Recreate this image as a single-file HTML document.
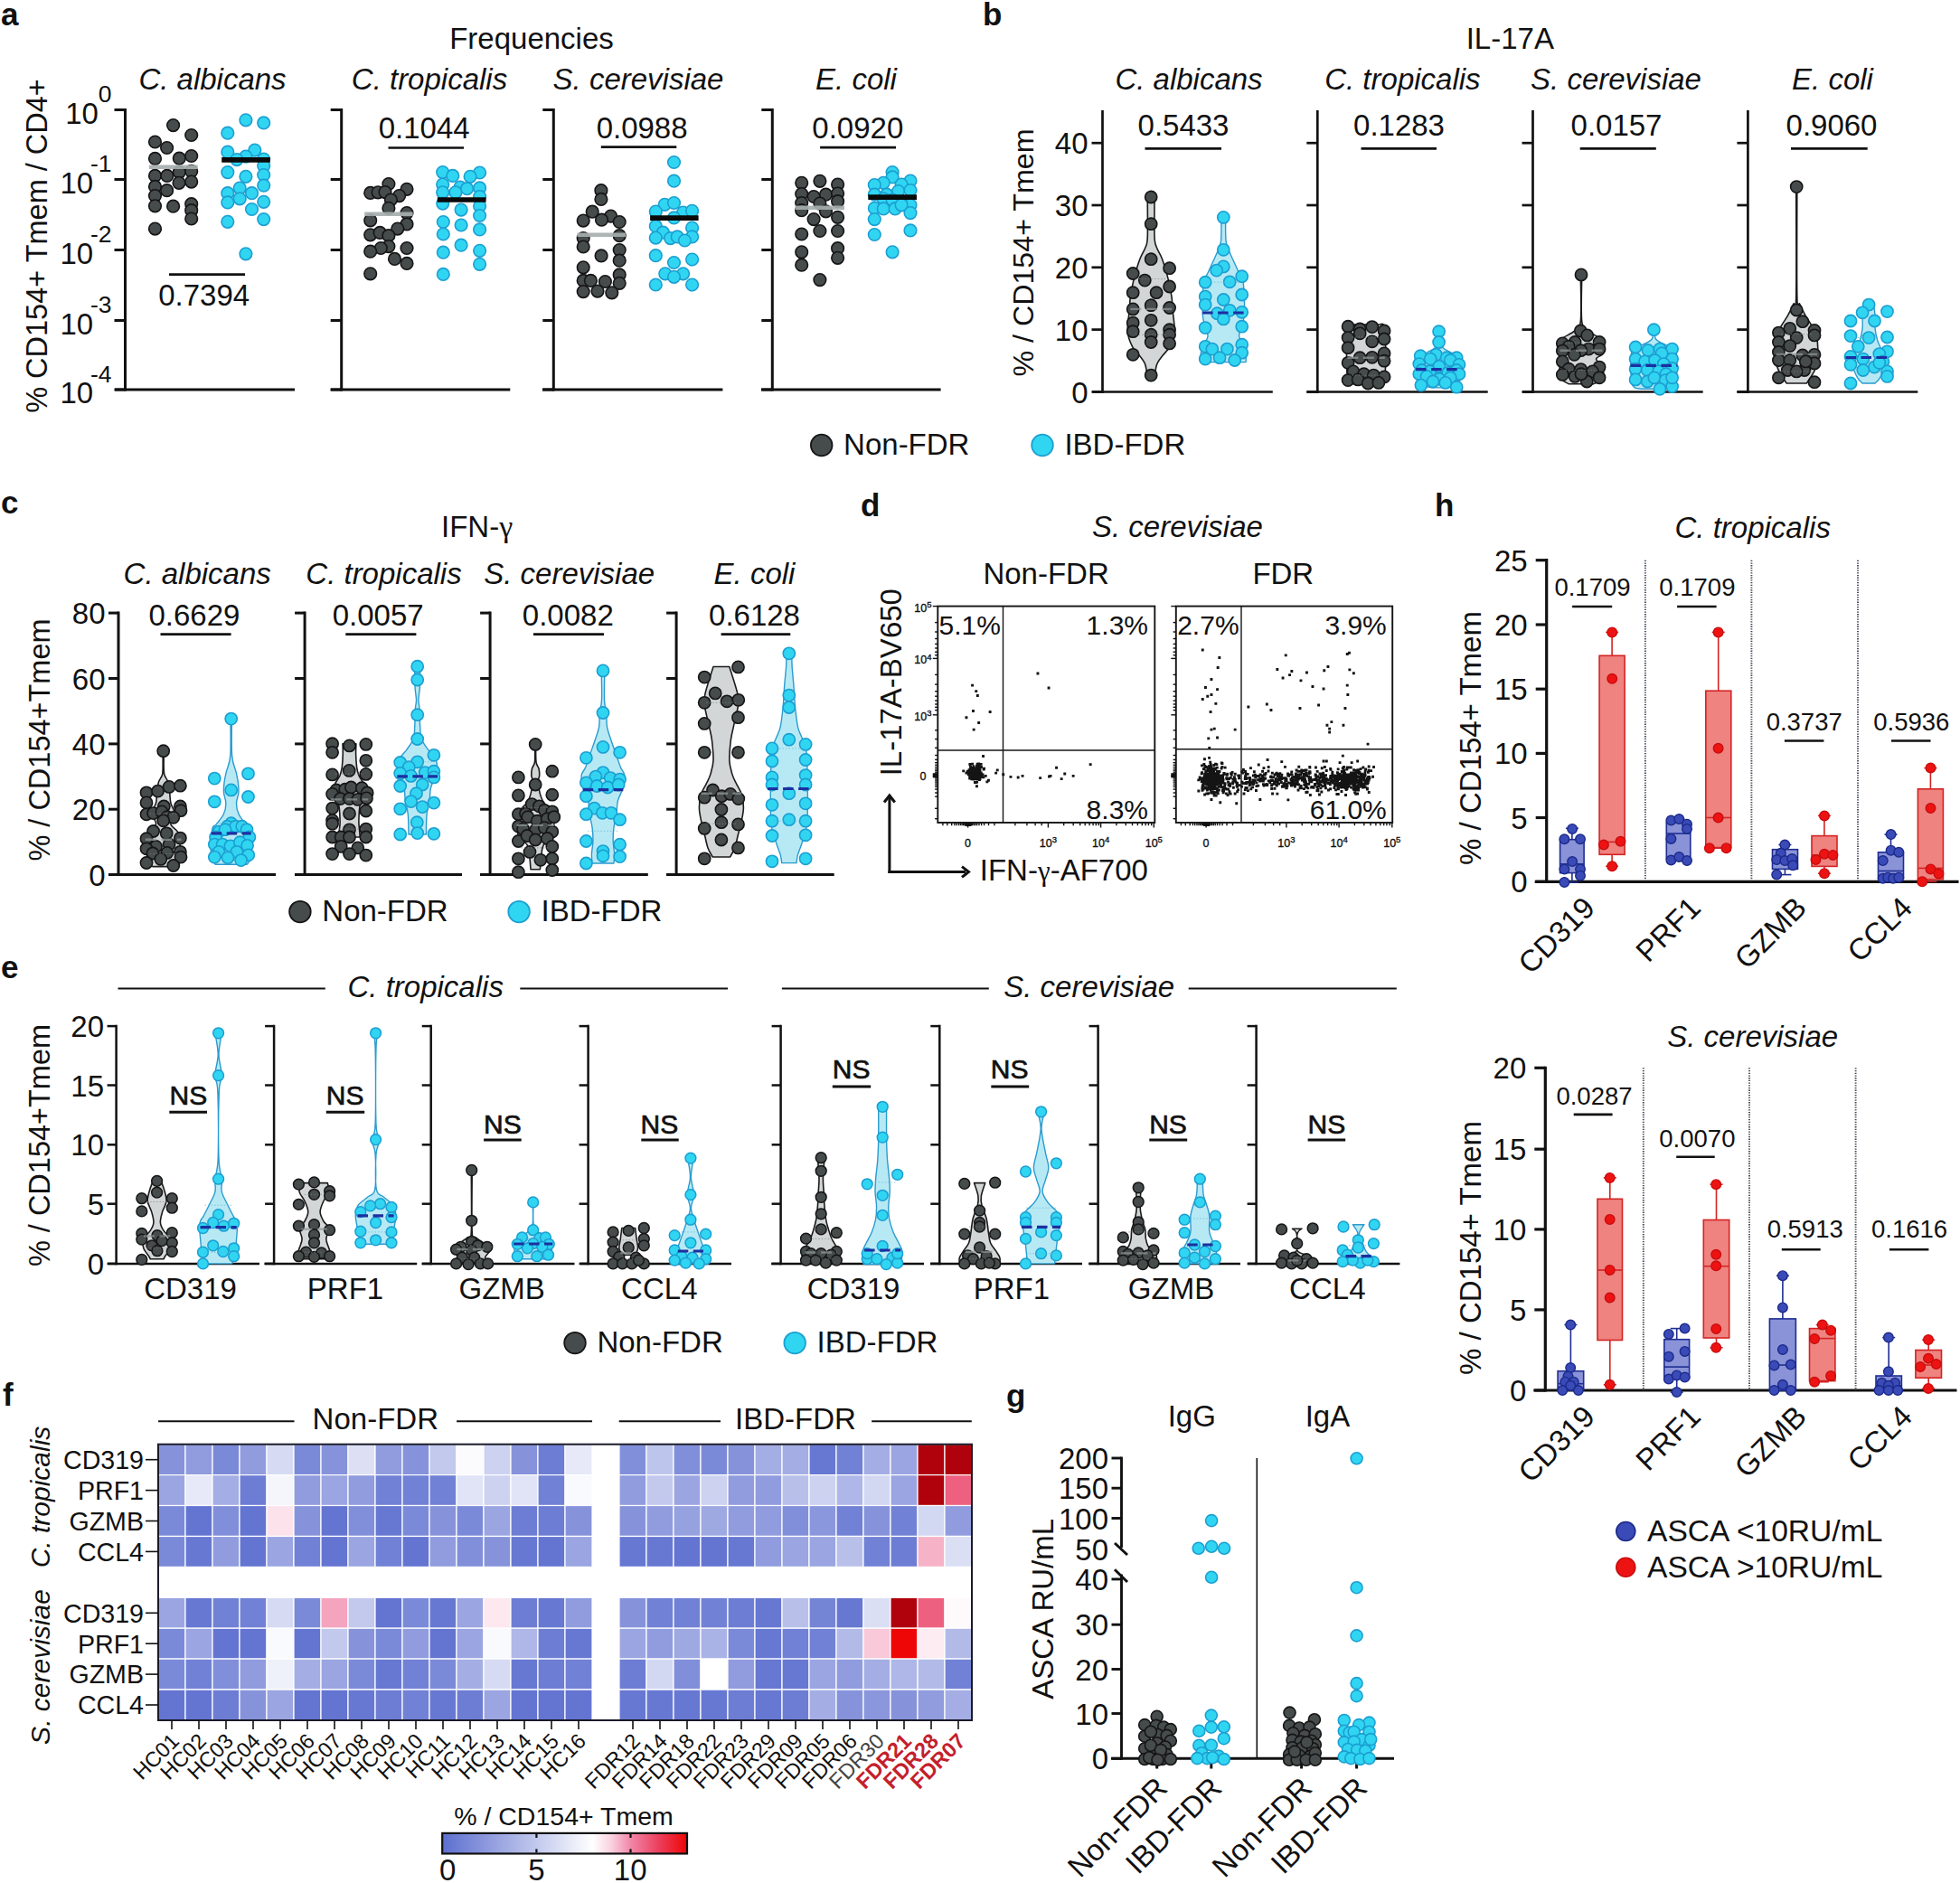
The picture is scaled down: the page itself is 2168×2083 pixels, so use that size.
<!DOCTYPE html>
<html><head><meta charset="utf-8"><title>Figure</title>
<style>html,body{margin:0;padding:0;background:#fff}svg{display:block}</style></head>
<body>
<svg width="2168" height="2083" viewBox="0 0 2168 2083" font-family='"Liberation Sans", Arial, Helvetica, sans-serif' fill="#111">
<text x="1" y="27.5" font-size="35" font-weight="bold">a</text>
<line x1="138.5" y1="120" x2="138.5" y2="432.5" stroke="#111" stroke-width="3"/>
<line x1="127" y1="431" x2="326" y2="431" stroke="#111" stroke-width="3"/>
<line x1="126.5" y1="121.5" x2="138.5" y2="121.5" stroke="#111" stroke-width="3"/>
<line x1="126.5" y1="198.5" x2="138.5" y2="198.5" stroke="#111" stroke-width="3"/>
<line x1="126.5" y1="276.5" x2="138.5" y2="276.5" stroke="#111" stroke-width="3"/>
<line x1="126.5" y1="354.5" x2="138.5" y2="354.5" stroke="#111" stroke-width="3"/>
<line x1="126.5" y1="431" x2="138.5" y2="431" stroke="#111" stroke-width="3"/>
<line x1="377.7" y1="120" x2="377.7" y2="432.5" stroke="#111" stroke-width="3"/>
<line x1="365.7" y1="431" x2="564.3" y2="431" stroke="#111" stroke-width="3"/>
<line x1="365.7" y1="121.5" x2="377.7" y2="121.5" stroke="#111" stroke-width="3"/>
<line x1="365.7" y1="198.5" x2="377.7" y2="198.5" stroke="#111" stroke-width="3"/>
<line x1="365.7" y1="276.5" x2="377.7" y2="276.5" stroke="#111" stroke-width="3"/>
<line x1="365.7" y1="354.5" x2="377.7" y2="354.5" stroke="#111" stroke-width="3"/>
<line x1="365.7" y1="431" x2="377.7" y2="431" stroke="#111" stroke-width="3"/>
<line x1="612.3" y1="120" x2="612.3" y2="432.5" stroke="#111" stroke-width="3"/>
<line x1="600" y1="431" x2="799.4" y2="431" stroke="#111" stroke-width="3"/>
<line x1="600.3" y1="121.5" x2="612.3" y2="121.5" stroke="#111" stroke-width="3"/>
<line x1="600.3" y1="198.5" x2="612.3" y2="198.5" stroke="#111" stroke-width="3"/>
<line x1="600.3" y1="276.5" x2="612.3" y2="276.5" stroke="#111" stroke-width="3"/>
<line x1="600.3" y1="354.5" x2="612.3" y2="354.5" stroke="#111" stroke-width="3"/>
<line x1="600.3" y1="431" x2="612.3" y2="431" stroke="#111" stroke-width="3"/>
<line x1="854.3" y1="120" x2="854.3" y2="432.5" stroke="#111" stroke-width="3"/>
<line x1="842" y1="431" x2="1040.6" y2="431" stroke="#111" stroke-width="3"/>
<line x1="842.3" y1="121.5" x2="854.3" y2="121.5" stroke="#111" stroke-width="3"/>
<line x1="842.3" y1="198.5" x2="854.3" y2="198.5" stroke="#111" stroke-width="3"/>
<line x1="842.3" y1="276.5" x2="854.3" y2="276.5" stroke="#111" stroke-width="3"/>
<line x1="842.3" y1="354.5" x2="854.3" y2="354.5" stroke="#111" stroke-width="3"/>
<line x1="842.3" y1="431" x2="854.3" y2="431" stroke="#111" stroke-width="3"/>
<text x="588" y="53.5" font-size="33" text-anchor="middle">Frequencies</text>
<text x="235" y="98.5" font-size="33" text-anchor="middle" font-style="italic">C. albicans</text>
<text x="475" y="98.5" font-size="33" text-anchor="middle" font-style="italic">C. tropicalis</text>
<text x="706" y="98.5" font-size="33" text-anchor="middle" font-style="italic">S. cerevisiae</text>
<text x="947" y="98.5" font-size="33" text-anchor="middle" font-style="italic">E. coli</text>
<text x="52" y="272" font-size="32.5" text-anchor="middle" transform="rotate(-90 52 272)">% CD154+ Tmem / CD4+</text>
<text x="123.6" y="136.5" font-size="33" text-anchor="end">10<tspan font-size="26.5" dy="-23.3">0</tspan></text>
<text x="123.6" y="213.5" font-size="33" text-anchor="end">10<tspan font-size="26.5" dy="-23.3" dx="-3.2">-1</tspan></text>
<text x="123.6" y="291.5" font-size="33" text-anchor="end">10<tspan font-size="26.5" dy="-23.3" dx="-3.2">-2</tspan></text>
<text x="123.6" y="369.5" font-size="33" text-anchor="end">10<tspan font-size="26.5" dy="-23.3" dx="-3.2">-3</tspan></text>
<text x="123.6" y="446" font-size="33" text-anchor="end">10<tspan font-size="26.5" dy="-23.3" dx="-3.2">-4</tspan></text>
<g fill="#464b4c" stroke="#151515" stroke-width="1.6">
<circle cx="191.6" cy="138.6" r="6.8"/>
<circle cx="211.7" cy="149.5" r="6.8"/>
<circle cx="171.5" cy="157" r="6.8"/>
<circle cx="184.6" cy="163.5" r="6.8"/>
<circle cx="171.5" cy="175.4" r="6.8"/>
<circle cx="198.3" cy="175.2" r="6.8"/>
<circle cx="211.7" cy="172.5" r="6.8"/>
<circle cx="171.5" cy="194.4" r="6.8"/>
<circle cx="184.8" cy="194.4" r="6.8"/>
<circle cx="198.3" cy="190.6" r="6.8"/>
<circle cx="211.7" cy="189.4" r="6.8"/>
<circle cx="171.5" cy="206.4" r="6.8"/>
<circle cx="198" cy="202.3" r="6.8"/>
<circle cx="211.7" cy="201.1" r="6.8"/>
<circle cx="184.6" cy="210.7" r="6.8"/>
<circle cx="171.5" cy="216.6" r="6.8"/>
<circle cx="171.5" cy="227.8" r="6.8"/>
<circle cx="191.6" cy="228.2" r="6.8"/>
<circle cx="211.7" cy="225.7" r="6.8"/>
<circle cx="211.7" cy="232.7" r="6.8"/>
<circle cx="211.7" cy="242" r="6.8"/>
<circle cx="171.5" cy="253.1" r="6.8"/>
</g>
<g fill="#30d5f2" stroke="#1b9fd1" stroke-width="1.6">
<circle cx="271.9" cy="132.8" r="6.8"/>
<circle cx="291.7" cy="135.9" r="6.8"/>
<circle cx="251.8" cy="147.2" r="6.8"/>
<circle cx="251.8" cy="168.2" r="6.8"/>
<circle cx="281.8" cy="166.1" r="6.8"/>
<circle cx="271.9" cy="173.1" r="6.8"/>
<circle cx="262" cy="176.6" r="6.8"/>
<circle cx="291.7" cy="176" r="6.8"/>
<circle cx="291.7" cy="183.6" r="6.8"/>
<circle cx="251.8" cy="190.6" r="6.8"/>
<circle cx="271.9" cy="195.3" r="6.8"/>
<circle cx="291.7" cy="193.5" r="6.8"/>
<circle cx="291.7" cy="205.2" r="6.8"/>
<circle cx="265.2" cy="208.1" r="6.8"/>
<circle cx="251.8" cy="213.7" r="6.8"/>
<circle cx="278.5" cy="213.7" r="6.8"/>
<circle cx="265.2" cy="219.8" r="6.8"/>
<circle cx="251.8" cy="223.9" r="6.8"/>
<circle cx="291.7" cy="223.3" r="6.8"/>
<circle cx="278.5" cy="231.5" r="6.8"/>
<circle cx="251.8" cy="245.3" r="6.8"/>
<circle cx="291.7" cy="242.6" r="6.8"/>
<circle cx="271.9" cy="280.8" r="6.8"/>
</g>
<g fill="#464b4c" stroke="#151515" stroke-width="1.6">
<circle cx="429.9" cy="203.5" r="6.8"/>
<circle cx="450" cy="209.3" r="6.8"/>
<circle cx="409.7" cy="213.4" r="6.8"/>
<circle cx="418.1" cy="212.8" r="6.8"/>
<circle cx="426" cy="212.6" r="6.8"/>
<circle cx="441.6" cy="216.6" r="6.8"/>
<circle cx="432.4" cy="221" r="6.8"/>
<circle cx="429.9" cy="230.3" r="6.8"/>
<circle cx="450" cy="235.6" r="6.8"/>
<circle cx="409.7" cy="243.8" r="6.8"/>
<circle cx="450" cy="247.9" r="6.8"/>
<circle cx="439.8" cy="253.1" r="6.8"/>
<circle cx="409.7" cy="259.8" r="6.8"/>
<circle cx="420.2" cy="257.4" r="6.8"/>
<circle cx="429.9" cy="260.7" r="6.8"/>
<circle cx="429.9" cy="272.6" r="6.8"/>
<circle cx="421.3" cy="274.5" r="6.8"/>
<circle cx="450" cy="274.5" r="6.8"/>
<circle cx="409.7" cy="278.2" r="6.8"/>
<circle cx="436.5" cy="286.4" r="6.8"/>
<circle cx="450" cy="291.4" r="6.8"/>
<circle cx="409.7" cy="302.8" r="6.8"/>
</g>
<g fill="#30d5f2" stroke="#1b9fd1" stroke-width="1.6">
<circle cx="489.7" cy="190.6" r="6.8"/>
<circle cx="530.6" cy="191" r="6.8"/>
<circle cx="500.8" cy="194.4" r="6.8"/>
<circle cx="520.1" cy="195.3" r="6.8"/>
<circle cx="489.7" cy="204.1" r="6.8"/>
<circle cx="530.6" cy="207.9" r="6.8"/>
<circle cx="509" cy="207" r="6.8"/>
<circle cx="516.6" cy="208.7" r="6.8"/>
<circle cx="489.7" cy="212.8" r="6.8"/>
<circle cx="503.9" cy="212.8" r="6.8"/>
<circle cx="530.6" cy="217.5" r="6.8"/>
<circle cx="489.7" cy="225.1" r="6.8"/>
<circle cx="530.6" cy="228" r="6.8"/>
<circle cx="510.1" cy="232.1" r="6.8"/>
<circle cx="530.6" cy="238.5" r="6.8"/>
<circle cx="490.3" cy="245.5" r="6.8"/>
<circle cx="510.1" cy="249" r="6.8"/>
<circle cx="530.6" cy="253.9" r="6.8"/>
<circle cx="490.3" cy="259" r="6.8"/>
<circle cx="510.1" cy="271.2" r="6.8"/>
<circle cx="490.3" cy="279.2" r="6.8"/>
<circle cx="530.6" cy="277.3" r="6.8"/>
<circle cx="530.6" cy="292.3" r="6.8"/>
<circle cx="490.3" cy="303.4" r="6.8"/>
</g>
<g fill="#464b4c" stroke="#151515" stroke-width="1.6">
<circle cx="664.9" cy="210.7" r="6.8"/>
<circle cx="664.9" cy="220.4" r="6.8"/>
<circle cx="655.2" cy="234.2" r="6.8"/>
<circle cx="675.6" cy="239.1" r="6.8"/>
<circle cx="645.2" cy="244.1" r="6.8"/>
<circle cx="665.5" cy="243.2" r="6.8"/>
<circle cx="685.2" cy="245.5" r="6.8"/>
<circle cx="685.2" cy="260.7" r="6.8"/>
<circle cx="645.2" cy="263.6" r="6.8"/>
<circle cx="645.2" cy="273" r="6.8"/>
<circle cx="685.2" cy="276.5" r="6.8"/>
<circle cx="665.1" cy="282.9" r="6.8"/>
<circle cx="685.2" cy="288.2" r="6.8"/>
<circle cx="645.2" cy="295.8" r="6.8"/>
<circle cx="685.2" cy="303.9" r="6.8"/>
<circle cx="645.2" cy="310.4" r="6.8"/>
<circle cx="653.4" cy="310.4" r="6.8"/>
<circle cx="669.4" cy="311.5" r="6.8"/>
<circle cx="685.2" cy="313.3" r="6.8"/>
<circle cx="645.2" cy="322.6" r="6.8"/>
<circle cx="661" cy="322.1" r="6.8"/>
<circle cx="676.8" cy="323.8" r="6.8"/>
</g>
<g fill="#30d5f2" stroke="#1b9fd1" stroke-width="1.6">
<circle cx="745.5" cy="179.5" r="6.8"/>
<circle cx="745.5" cy="200.2" r="6.8"/>
<circle cx="735.2" cy="226.3" r="6.8"/>
<circle cx="745.5" cy="224.5" r="6.8"/>
<circle cx="725.3" cy="234.1" r="6.8"/>
<circle cx="755.6" cy="235" r="6.8"/>
<circle cx="765.6" cy="233.3" r="6.8"/>
<circle cx="745.5" cy="240.9" r="6.8"/>
<circle cx="725.3" cy="250.2" r="6.8"/>
<circle cx="765.6" cy="252" r="6.8"/>
<circle cx="733.4" cy="257.2" r="6.8"/>
<circle cx="765.6" cy="261.9" r="6.8"/>
<circle cx="725.3" cy="263.1" r="6.8"/>
<circle cx="741.6" cy="263.6" r="6.8"/>
<circle cx="749.2" cy="261.9" r="6.8"/>
<circle cx="757.4" cy="266" r="6.8"/>
<circle cx="725.3" cy="282.7" r="6.8"/>
<circle cx="765.6" cy="287" r="6.8"/>
<circle cx="745.5" cy="290.5" r="6.8"/>
<circle cx="735.8" cy="302.8" r="6.8"/>
<circle cx="755.6" cy="302.8" r="6.8"/>
<circle cx="745.5" cy="306.3" r="6.8"/>
<circle cx="725.3" cy="315" r="6.8"/>
<circle cx="765.6" cy="315" r="6.8"/>
</g>
<g fill="#464b4c" stroke="#151515" stroke-width="1.6">
<circle cx="886.7" cy="202.3" r="6.8"/>
<circle cx="906.9" cy="200.3" r="6.8"/>
<circle cx="926.6" cy="204.1" r="6.8"/>
<circle cx="886.7" cy="214.6" r="6.8"/>
<circle cx="900.1" cy="217.5" r="6.8"/>
<circle cx="913.5" cy="215.2" r="6.8"/>
<circle cx="926.6" cy="214" r="6.8"/>
<circle cx="886.7" cy="224.5" r="6.8"/>
<circle cx="906.9" cy="225.1" r="6.8"/>
<circle cx="926.6" cy="222.7" r="6.8"/>
<circle cx="886.7" cy="232.7" r="6.8"/>
<circle cx="913.5" cy="233.8" r="6.8"/>
<circle cx="926.6" cy="240.3" r="6.8"/>
<circle cx="900.1" cy="242.6" r="6.8"/>
<circle cx="906.9" cy="255.5" r="6.8"/>
<circle cx="886.7" cy="259" r="6.8"/>
<circle cx="926.6" cy="255.5" r="6.8"/>
<circle cx="886.7" cy="278.8" r="6.8"/>
<circle cx="926.6" cy="274.7" r="6.8"/>
<circle cx="926.6" cy="285.3" r="6.8"/>
<circle cx="886.7" cy="293.2" r="6.8"/>
<circle cx="906.9" cy="309.6" r="6.8"/>
</g>
<g fill="#30d5f2" stroke="#1b9fd1" stroke-width="1.6">
<circle cx="987.1" cy="190.6" r="6.8"/>
<circle cx="987.1" cy="195.9" r="6.8"/>
<circle cx="1007" cy="200" r="6.8"/>
<circle cx="977.2" cy="202.3" r="6.8"/>
<circle cx="967.3" cy="204.6" r="6.8"/>
<circle cx="997.1" cy="204.1" r="6.8"/>
<circle cx="993.6" cy="211.6" r="6.8"/>
<circle cx="1007" cy="210.5" r="6.8"/>
<circle cx="967.3" cy="215.2" r="6.8"/>
<circle cx="980.7" cy="215.2" r="6.8"/>
<circle cx="977.2" cy="219.8" r="6.8"/>
<circle cx="987.1" cy="221" r="6.8"/>
<circle cx="1007" cy="226.8" r="6.8"/>
<circle cx="967.3" cy="230.3" r="6.8"/>
<circle cx="977.2" cy="230.9" r="6.8"/>
<circle cx="990.1" cy="230.9" r="6.8"/>
<circle cx="997.1" cy="226.8" r="6.8"/>
<circle cx="1007" cy="235.6" r="6.8"/>
<circle cx="967.3" cy="242.6" r="6.8"/>
<circle cx="1007" cy="254.9" r="6.8"/>
<circle cx="967.3" cy="259.5" r="6.8"/>
<circle cx="987.1" cy="278.8" r="6.8"/>
</g>
<line x1="165" y1="184.8" x2="218.7" y2="184.8" stroke="#a7aeae" stroke-width="4.6" opacity="0.92"/>
<line x1="245.2" y1="176.9" x2="298.8" y2="176.9" stroke="#0a0a0a" stroke-width="5.6"/>
<line x1="403.2" y1="236.8" x2="456.7" y2="236.8" stroke="#a7aeae" stroke-width="4.6" opacity="0.92"/>
<line x1="483.8" y1="221" x2="537.6" y2="221" stroke="#0a0a0a" stroke-width="5.6"/>
<line x1="638.5" y1="259.8" x2="692" y2="259.8" stroke="#a7aeae" stroke-width="4.6" opacity="0.92"/>
<line x1="719.1" y1="241.1" x2="772.6" y2="241.1" stroke="#0a0a0a" stroke-width="5.6"/>
<line x1="879.6" y1="229.8" x2="934" y2="229.8" stroke="#a7aeae" stroke-width="4.6" opacity="0.92"/>
<line x1="960.3" y1="218.1" x2="1014" y2="218.1" stroke="#0a0a0a" stroke-width="5.6"/>
<text x="225.7" y="337.5" font-size="33" text-anchor="middle">0.7394</text>
<line x1="187" y1="303.6" x2="271" y2="303.6" stroke="#111" stroke-width="2.7"/>
<text x="469.2" y="152.5" font-size="33" text-anchor="middle">0.1044</text>
<line x1="429.5" y1="163.5" x2="513" y2="163.5" stroke="#111" stroke-width="2.7"/>
<text x="710.1" y="152.5" font-size="33" text-anchor="middle">0.0988</text>
<line x1="664.8" y1="162.6" x2="748.3" y2="162.6" stroke="#111" stroke-width="2.7"/>
<text x="948.8" y="152.5" font-size="33" text-anchor="middle">0.0920</text>
<line x1="907.1" y1="163.2" x2="991" y2="163.2" stroke="#111" stroke-width="2.7"/>
<circle cx="908.7" cy="492.5" r="11.8" fill="#464b4c" stroke="#151515" stroke-width="1.8"/>
<text x="933.1" y="503.1" font-size="33">Non-FDR</text>
<circle cx="1153" cy="492.5" r="11.8" fill="#30d5f2" stroke="#1b9fd1" stroke-width="1.8"/>
<text x="1177.4" y="503.1" font-size="33">IBD-FDR</text>
<text x="1087" y="27.5" font-size="35" font-weight="bold">b</text>
<line x1="1219.5" y1="122" x2="1219.5" y2="434.9" stroke="#111" stroke-width="2.7"/>
<line x1="1208" y1="433.5" x2="1407.8" y2="433.5" stroke="#111" stroke-width="2.7"/>
<line x1="1207.5" y1="158.2" x2="1219.5" y2="158.2" stroke="#111" stroke-width="2.7"/>
<line x1="1207.5" y1="227" x2="1219.5" y2="227" stroke="#111" stroke-width="2.7"/>
<line x1="1207.5" y1="295.8" x2="1219.5" y2="295.8" stroke="#111" stroke-width="2.7"/>
<line x1="1207.5" y1="364.6" x2="1219.5" y2="364.6" stroke="#111" stroke-width="2.7"/>
<line x1="1207.5" y1="433.5" x2="1219.5" y2="433.5" stroke="#111" stroke-width="2.7"/>
<line x1="1457.3" y1="122" x2="1457.3" y2="434.9" stroke="#111" stroke-width="2.7"/>
<line x1="1445.5" y1="433.5" x2="1645.7" y2="433.5" stroke="#111" stroke-width="2.7"/>
<line x1="1445.3" y1="158.2" x2="1457.3" y2="158.2" stroke="#111" stroke-width="2.7"/>
<line x1="1445.3" y1="227" x2="1457.3" y2="227" stroke="#111" stroke-width="2.7"/>
<line x1="1445.3" y1="295.8" x2="1457.3" y2="295.8" stroke="#111" stroke-width="2.7"/>
<line x1="1445.3" y1="364.6" x2="1457.3" y2="364.6" stroke="#111" stroke-width="2.7"/>
<line x1="1445.3" y1="433.5" x2="1457.3" y2="433.5" stroke="#111" stroke-width="2.7"/>
<line x1="1695.5" y1="122" x2="1695.5" y2="434.9" stroke="#111" stroke-width="2.7"/>
<line x1="1683.9" y1="433.5" x2="1883.7" y2="433.5" stroke="#111" stroke-width="2.7"/>
<line x1="1683.5" y1="158.2" x2="1695.5" y2="158.2" stroke="#111" stroke-width="2.7"/>
<line x1="1683.5" y1="227" x2="1695.5" y2="227" stroke="#111" stroke-width="2.7"/>
<line x1="1683.5" y1="295.8" x2="1695.5" y2="295.8" stroke="#111" stroke-width="2.7"/>
<line x1="1683.5" y1="364.6" x2="1695.5" y2="364.6" stroke="#111" stroke-width="2.7"/>
<line x1="1683.5" y1="433.5" x2="1695.5" y2="433.5" stroke="#111" stroke-width="2.7"/>
<line x1="1933.4" y1="122" x2="1933.4" y2="434.9" stroke="#111" stroke-width="2.7"/>
<line x1="1921.4" y1="433.5" x2="2121.3" y2="433.5" stroke="#111" stroke-width="2.7"/>
<line x1="1921.4" y1="158.2" x2="1933.4" y2="158.2" stroke="#111" stroke-width="2.7"/>
<line x1="1921.4" y1="227" x2="1933.4" y2="227" stroke="#111" stroke-width="2.7"/>
<line x1="1921.4" y1="295.8" x2="1933.4" y2="295.8" stroke="#111" stroke-width="2.7"/>
<line x1="1921.4" y1="364.6" x2="1933.4" y2="364.6" stroke="#111" stroke-width="2.7"/>
<line x1="1921.4" y1="433.5" x2="1933.4" y2="433.5" stroke="#111" stroke-width="2.7"/>
<text x="1670.3" y="53.5" font-size="33" text-anchor="middle">IL-17A</text>
<text x="1315" y="98.5" font-size="33" text-anchor="middle" font-style="italic">C. albicans</text>
<text x="1551.4" y="98.5" font-size="33" text-anchor="middle" font-style="italic">C. tropicalis</text>
<text x="1787.5" y="98.5" font-size="33" text-anchor="middle" font-style="italic">S. cerevisiae</text>
<text x="2027" y="98.5" font-size="33" text-anchor="middle" font-style="italic">E. coli</text>
<text x="1142.5" y="279.5" font-size="32.2" text-anchor="middle" transform="rotate(-90 1142.5 279.5)">% / CD154+ Tmem</text>
<text x="1203.5" y="170.2" font-size="33" text-anchor="end">40</text>
<text x="1203.5" y="239" font-size="33" text-anchor="end">30</text>
<text x="1203.5" y="307.8" font-size="33" text-anchor="end">20</text>
<text x="1203.5" y="376.6" font-size="33" text-anchor="end">10</text>
<text x="1203.5" y="445.5" font-size="33" text-anchor="end">0</text>
<path d="M1269.3 218C1269.3 219.1 1269.3 217.2 1269.3 224.5C1269.3 231.8 1269.6 253.7 1269.3 261.8C1269 269.9 1268.8 268.7 1267.4 272.8C1266 277 1262.9 280.9 1260.8 286.7C1258.6 292.4 1256.3 300.5 1254.5 307.4C1252.8 314.3 1251.2 322.3 1250.4 328.1C1249.5 333.8 1250 335.4 1249.4 341.9C1248.9 348.3 1246.7 359.8 1247.2 366.7C1247.7 373.6 1250.3 378.9 1252.5 383.3C1254.6 387.7 1257.8 390 1260.1 393C1262.3 396 1264.7 398.7 1266 401.3C1267.3 403.8 1267.5 405.9 1267.9 408.2C1268.3 410.5 1268.4 413.9 1268.5 415.1L1277.9 415.1C1278 413.9 1278 410.5 1278.4 408.2C1278.8 405.9 1279 403.8 1280.4 401.3C1281.7 398.7 1284 396 1286.3 393C1288.6 390 1291.8 387.7 1293.9 383.3C1296 378.9 1298.6 373.6 1299.1 366.7C1299.6 359.8 1297.5 348.3 1296.9 341.9C1296.4 335.4 1296.8 333.8 1296 328.1C1295.1 322.3 1293.5 314.3 1291.8 307.4C1290.1 300.5 1287.7 292.4 1285.6 286.7C1283.5 280.9 1280.4 277 1279 272.8C1277.6 268.7 1277.4 269.9 1277 261.8C1276.7 253.7 1277 231.8 1277 224.5C1277 217.2 1277 219.1 1277 218Z" fill="#d2d6d6" stroke="#1c1c1c" stroke-width="1.6" stroke-linejoin="round"/>
<path d="M1350.9 240.4C1350.9 241.7 1351 243.5 1350.9 248C1350.8 252.5 1351.2 262 1350.4 267.3C1349.6 272.6 1348.4 274.2 1346.1 279.8C1343.8 285.3 1339.2 294.7 1336.7 300.5C1334.2 306.2 1332.2 306.2 1331.2 314.3C1330.1 322.3 1329.9 340.7 1330.3 348.8C1330.8 356.8 1333 358.7 1333.9 362.6C1334.9 366.5 1336.4 368.8 1335.9 372.3C1335.3 375.7 1331.7 380.3 1330.5 383.3C1329.2 386.3 1328.8 387.3 1328.4 390.2C1328.1 393.1 1328.4 398.8 1328.4 400.6L1378.1 400.6C1378.1 398.8 1378.5 393.1 1378.1 390.2C1377.8 387.3 1377.3 386.3 1376 383.3C1374.8 380.3 1371.2 375.7 1370.7 372.3C1370.1 368.8 1371.7 366.5 1372.6 362.6C1373.5 358.7 1375.7 356.8 1376.2 348.8C1376.6 340.7 1376.4 322.3 1375.4 314.3C1374.3 306.2 1372.3 306.2 1369.8 300.5C1367.3 294.7 1362.7 285.3 1360.4 279.8C1358.2 274.2 1357 272.6 1356.2 267.3C1355.4 262 1355.7 252.5 1355.6 248C1355.5 243.5 1355.6 241.7 1355.6 240.4Z" fill="#b7e9f5" stroke="#2a9ccf" stroke-width="1.4" stroke-linejoin="round"/>
<path d="M1497.3 359.1C1496.2 360 1491.5 354.2 1490.4 364C1489.2 373.8 1489.2 407.7 1490.4 417.8C1491.5 428 1496.2 423.6 1497.3 424.7L1524.9 424.7C1526.1 423.6 1530.7 428 1531.8 417.8C1533 407.7 1533 373.8 1531.8 364C1530.7 354.2 1526.1 360 1524.9 359.1Z" fill="#d2d6d6" stroke="#1c1c1c" stroke-width="1.6" stroke-linejoin="round"/>
<path d="M1589.1 366.7C1589 369.5 1590 379.4 1588.2 383.3C1586.3 387.2 1581.1 387.9 1577.8 390.2C1574.5 392.5 1570 393.2 1568.1 397.1C1566.3 401 1566.3 409.1 1566.8 413.7C1567.2 418.3 1568.1 422.2 1570.9 424.7C1573.7 427.3 1581.3 428.2 1583.3 428.9L1599.9 428.9C1602 428.2 1609.6 427.3 1612.3 424.7C1615.1 422.2 1616 418.3 1616.5 413.7C1616.9 409.1 1616.9 401 1615.1 397.1C1613.2 393.2 1608.8 392.5 1605.4 390.2C1602.1 387.9 1596.9 387.2 1595.1 383.3C1593.2 379.4 1594.3 369.5 1594.1 366.7Z" fill="#b7e9f5" stroke="#2a9ccf" stroke-width="1.4" stroke-linejoin="round"/>
<path d="M1748.3 303.9C1748.3 312.5 1749.6 345.2 1748.3 355.7C1747.1 366.2 1744.6 363.3 1740.8 366.7C1737 370.2 1728.3 372.5 1725.6 376.4C1722.8 380.3 1723 386.8 1724.2 390.2C1725.3 393.7 1732.2 394.6 1732.5 397.1C1732.7 399.6 1726.7 401.9 1725.6 405.4C1724.4 408.9 1724 414.6 1725.6 417.8C1727.2 421 1733.6 423.6 1735.2 424.7L1762.8 424.7C1764.5 423.6 1770.9 421 1772.5 417.8C1774.1 414.6 1773.7 408.9 1772.5 405.4C1771.4 401.9 1765.4 399.6 1765.6 397.1C1765.8 394.6 1772.7 393.7 1773.9 390.2C1775 386.8 1775.3 380.3 1772.5 376.4C1769.8 372.5 1761.1 370.2 1757.3 366.7C1753.5 363.3 1751 366.2 1749.7 355.7C1748.5 345.2 1749.7 312.5 1749.7 303.9Z" fill="#d2d6d6" stroke="#1c1c1c" stroke-width="1.6" stroke-linejoin="round"/>
<path d="M1828 364.7C1827.9 366.4 1829.4 372.1 1827.3 375C1825.3 377.9 1819.3 380.1 1815.6 381.9C1811.9 383.8 1807 378.9 1805.2 386.1C1803.5 393.2 1803.5 417.4 1805.2 424.7C1807 432.1 1813.9 429.3 1815.6 430.3L1843.2 430.3C1844.9 429.3 1851.8 432.1 1853.6 424.7C1855.3 417.4 1855.3 393.2 1853.6 386.1C1851.8 378.9 1846.9 383.8 1843.2 381.9C1839.5 380.1 1833.5 377.9 1831.5 375C1829.4 372.1 1830.9 366.4 1830.8 364.7Z" fill="#b7e9f5" stroke="#2a9ccf" stroke-width="1.4" stroke-linejoin="round"/>
<path d="M1986.7 206.6C1986.7 226.8 1987.2 306.4 1986.7 328.1C1986.2 349.7 1985.3 332.9 1983.8 336.4C1982.3 339.8 1979.8 344.9 1977.6 348.8C1975.4 352.7 1972.7 356.4 1970.7 359.8C1968.6 363.3 1966.3 363.3 1965.2 369.5C1964 375.7 1963.3 390.2 1963.8 397.1C1964.2 404 1966.1 406.8 1967.9 410.9C1969.8 415.1 1973.4 419.8 1974.8 422C1976.2 424.2 1976 423.7 1976.2 424L1998.3 424C1998.5 423.7 1998.3 424.2 1999.7 422C2001.1 419.8 2004.7 415.1 2006.6 410.9C2008.4 406.8 2010.3 404 2010.7 397.1C2011.2 390.2 2010.5 375.7 2009.3 369.5C2008.2 363.3 2005.9 363.3 2003.8 359.8C2001.7 356.4 1999.1 352.7 1996.9 348.8C1994.7 344.9 1992.2 339.8 1990.7 336.4C1989.2 332.9 1988.3 349.7 1987.8 328.1C1987.3 306.4 1987.8 226.8 1987.8 206.6Z" fill="#d2d6d6" stroke="#1c1c1c" stroke-width="1.6" stroke-linejoin="round"/>
<path d="M2061.5 337.1C2061.3 339 2060.4 344.5 2060.1 348.8C2059.9 353 2060.6 358 2060.1 362.6C2059.7 367.2 2058.8 371.8 2057.4 376.4C2056 381 2053.2 385.6 2051.9 390.2C2050.5 394.8 2048.6 399.4 2049.1 404C2049.6 408.6 2052.8 414.5 2054.6 417.8C2056.5 421.2 2059.2 423 2060.1 424L2074 424C2074.9 423 2077.6 421.2 2079.5 417.8C2081.3 414.5 2084.5 408.6 2085 404C2085.5 399.4 2083.6 394.8 2082.2 390.2C2080.9 385.6 2078.1 381 2076.7 376.4C2075.3 371.8 2074.4 367.2 2074 362.6C2073.5 358 2074.2 353 2074 348.8C2073.7 344.5 2072.8 339 2072.6 337.1Z" fill="#b7e9f5" stroke="#2a9ccf" stroke-width="1.4" stroke-linejoin="round"/>
<g fill="#464b4c" stroke="#151515" stroke-width="1.6">
<circle cx="1273.2" cy="218" r="6.6"/>
<circle cx="1273.2" cy="247.7" r="6.6"/>
<circle cx="1273.2" cy="286.7" r="6.6"/>
<circle cx="1293.6" cy="296.7" r="6.6"/>
<circle cx="1253.2" cy="302.5" r="6.6"/>
<circle cx="1266.3" cy="310.1" r="6.6"/>
<circle cx="1293.6" cy="317" r="6.6"/>
<circle cx="1253.2" cy="323.7" r="6.6"/>
<circle cx="1279.1" cy="323.7" r="6.6"/>
<circle cx="1273.2" cy="337.7" r="6.6"/>
<circle cx="1253.2" cy="341.9" r="6.6"/>
<circle cx="1293.6" cy="340.5" r="6.6"/>
<circle cx="1273.2" cy="354.3" r="6.6"/>
<circle cx="1253.2" cy="357.1" r="6.6"/>
<circle cx="1293.6" cy="364.7" r="6.6"/>
<circle cx="1253.2" cy="366.7" r="6.6"/>
<circle cx="1273.2" cy="370.2" r="6.6"/>
<circle cx="1293.6" cy="370.2" r="6.6"/>
<circle cx="1273.2" cy="378.5" r="6.6"/>
<circle cx="1293.6" cy="379.9" r="6.6"/>
<circle cx="1253.2" cy="392.3" r="6.6"/>
<circle cx="1273.2" cy="415.1" r="6.6"/>
</g>
<g fill="#30d5f2" stroke="#1b9fd1" stroke-width="1.6">
<circle cx="1353.3" cy="240.4" r="6.6"/>
<circle cx="1353.3" cy="276.3" r="6.6"/>
<circle cx="1353.3" cy="294.9" r="6.6"/>
<circle cx="1345.7" cy="299.1" r="6.6"/>
<circle cx="1373.7" cy="305.7" r="6.6"/>
<circle cx="1333.2" cy="312.2" r="6.6"/>
<circle cx="1360.2" cy="311.8" r="6.6"/>
<circle cx="1373.7" cy="326" r="6.6"/>
<circle cx="1333.2" cy="328.1" r="6.6"/>
<circle cx="1353.3" cy="331.5" r="6.6"/>
<circle cx="1333.2" cy="337.1" r="6.6"/>
<circle cx="1360.2" cy="343.3" r="6.6"/>
<circle cx="1346.4" cy="346.7" r="6.6"/>
<circle cx="1373.7" cy="345.3" r="6.6"/>
<circle cx="1353.3" cy="352.9" r="6.6"/>
<circle cx="1333.2" cy="362.6" r="6.6"/>
<circle cx="1373.7" cy="361.2" r="6.6"/>
<circle cx="1333.2" cy="383.3" r="6.6"/>
<circle cx="1373.7" cy="381.2" r="6.6"/>
<circle cx="1340.8" cy="386.1" r="6.6"/>
<circle cx="1357.4" cy="386.1" r="6.6"/>
<circle cx="1373.7" cy="390.2" r="6.6"/>
<circle cx="1333.2" cy="397.1" r="6.6"/>
<circle cx="1349.1" cy="395.7" r="6.6"/>
<circle cx="1365.7" cy="398.5" r="6.6"/>
</g>
<g fill="#464b4c" stroke="#151515" stroke-width="1.6">
<circle cx="1491.1" cy="361.2" r="6.6"/>
<circle cx="1504.2" cy="364" r="6.6"/>
<circle cx="1517.7" cy="361.6" r="6.6"/>
<circle cx="1531.1" cy="366" r="6.6"/>
<circle cx="1491.1" cy="373.6" r="6.6"/>
<circle cx="1504.2" cy="368.8" r="6.6"/>
<circle cx="1531.1" cy="375" r="6.6"/>
<circle cx="1517.7" cy="377.8" r="6.6"/>
<circle cx="1491.1" cy="384.7" r="6.6"/>
<circle cx="1531.1" cy="390.9" r="6.6"/>
<circle cx="1504.2" cy="395.7" r="6.6"/>
<circle cx="1517.7" cy="395.3" r="6.6"/>
<circle cx="1531.1" cy="399.2" r="6.6"/>
<circle cx="1491.1" cy="401.3" r="6.6"/>
<circle cx="1496.9" cy="410.9" r="6.6"/>
<circle cx="1508.6" cy="413.7" r="6.6"/>
<circle cx="1519.4" cy="415.1" r="6.6"/>
<circle cx="1531.1" cy="416.9" r="6.6"/>
<circle cx="1491.1" cy="420.6" r="6.6"/>
<circle cx="1502.1" cy="419.9" r="6.6"/>
<circle cx="1513.2" cy="424" r="6.6"/>
<circle cx="1524.9" cy="423.4" r="6.6"/>
</g>
<g fill="#30d5f2" stroke="#1b9fd1" stroke-width="1.6">
<circle cx="1591.6" cy="366.7" r="6.6"/>
<circle cx="1591.6" cy="378.5" r="6.6"/>
<circle cx="1571.2" cy="393.7" r="6.6"/>
<circle cx="1588.4" cy="392.3" r="6.6"/>
<circle cx="1611.2" cy="395.7" r="6.6"/>
<circle cx="1600.2" cy="395.7" r="6.6"/>
<circle cx="1582.2" cy="397.1" r="6.6"/>
<circle cx="1604.3" cy="398.5" r="6.6"/>
<circle cx="1569.8" cy="402.6" r="6.6"/>
<circle cx="1614" cy="403.3" r="6.6"/>
<circle cx="1591.9" cy="405.4" r="6.6"/>
<circle cx="1572.6" cy="409.5" r="6.6"/>
<circle cx="1581.5" cy="410.9" r="6.6"/>
<circle cx="1611.2" cy="409.5" r="6.6"/>
<circle cx="1601.6" cy="412.3" r="6.6"/>
<circle cx="1569.8" cy="413.7" r="6.6"/>
<circle cx="1614" cy="413.7" r="6.6"/>
<circle cx="1578.1" cy="416.4" r="6.6"/>
<circle cx="1591.9" cy="419.2" r="6.6"/>
<circle cx="1604.3" cy="417.8" r="6.6"/>
<circle cx="1585" cy="422" r="6.6"/>
<circle cx="1598.8" cy="423.4" r="6.6"/>
<circle cx="1571.9" cy="426.1" r="6.6"/>
<circle cx="1611.2" cy="428.2" r="6.6"/>
</g>
<g fill="#464b4c" stroke="#151515" stroke-width="1.6">
<circle cx="1749" cy="303.9" r="6.6"/>
<circle cx="1748.3" cy="366" r="6.6"/>
<circle cx="1755.7" cy="370.9" r="6.6"/>
<circle cx="1728.3" cy="379.9" r="6.6"/>
<circle cx="1742.1" cy="378.5" r="6.6"/>
<circle cx="1769.1" cy="378.5" r="6.6"/>
<circle cx="1735.2" cy="383.3" r="6.6"/>
<circle cx="1757.3" cy="386.1" r="6.6"/>
<circle cx="1728.3" cy="388.1" r="6.6"/>
<circle cx="1748.6" cy="387.7" r="6.6"/>
<circle cx="1769.1" cy="386.1" r="6.6"/>
<circle cx="1741.4" cy="392.3" r="6.6"/>
<circle cx="1728.3" cy="399.9" r="6.6"/>
<circle cx="1735.2" cy="408.2" r="6.6"/>
<circle cx="1748.6" cy="408.6" r="6.6"/>
<circle cx="1769.1" cy="406.1" r="6.6"/>
<circle cx="1761.5" cy="410.9" r="6.6"/>
<circle cx="1728.3" cy="414.4" r="6.6"/>
<circle cx="1742.1" cy="416.4" r="6.6"/>
<circle cx="1769.1" cy="417.8" r="6.6"/>
<circle cx="1755.3" cy="422" r="6.6"/>
<circle cx="1749" cy="413.7" r="6.6"/>
</g>
<g fill="#30d5f2" stroke="#1b9fd1" stroke-width="1.6">
<circle cx="1829.4" cy="364.7" r="6.6"/>
<circle cx="1809.1" cy="384" r="6.6"/>
<circle cx="1822.9" cy="387.5" r="6.6"/>
<circle cx="1836" cy="386.1" r="6.6"/>
<circle cx="1849.6" cy="386.1" r="6.6"/>
<circle cx="1838.1" cy="390.9" r="6.6"/>
<circle cx="1809.1" cy="397.1" r="6.6"/>
<circle cx="1819.5" cy="399.9" r="6.6"/>
<circle cx="1830.5" cy="398.5" r="6.6"/>
<circle cx="1849.6" cy="397.1" r="6.6"/>
<circle cx="1840.2" cy="402.6" r="6.6"/>
<circle cx="1809.1" cy="408.2" r="6.6"/>
<circle cx="1822.2" cy="409.5" r="6.6"/>
<circle cx="1849.6" cy="407.5" r="6.6"/>
<circle cx="1834.6" cy="410.9" r="6.6"/>
<circle cx="1842.9" cy="413.7" r="6.6"/>
<circle cx="1809.1" cy="419.9" r="6.6"/>
<circle cx="1822.2" cy="422" r="6.6"/>
<circle cx="1829.8" cy="417.8" r="6.6"/>
<circle cx="1842.2" cy="420.6" r="6.6"/>
<circle cx="1849.6" cy="427.5" r="6.6"/>
<circle cx="1836" cy="430.3" r="6.6"/>
<circle cx="1849.6" cy="417.8" r="6.6"/>
</g>
<g fill="#464b4c" stroke="#151515" stroke-width="1.6">
<circle cx="1987.2" cy="206.6" r="6.6"/>
<circle cx="1987.2" cy="343" r="6.6"/>
<circle cx="1993.9" cy="355.7" r="6.6"/>
<circle cx="1979.8" cy="363.3" r="6.6"/>
<circle cx="2007" cy="365.4" r="6.6"/>
<circle cx="1967.4" cy="368.1" r="6.6"/>
<circle cx="2007" cy="370.9" r="6.6"/>
<circle cx="1987.2" cy="373.6" r="6.6"/>
<circle cx="1967.4" cy="378.5" r="6.6"/>
<circle cx="1979.8" cy="382.6" r="6.6"/>
<circle cx="1967.4" cy="389.5" r="6.6"/>
<circle cx="1993.9" cy="393" r="6.6"/>
<circle cx="2007" cy="392.3" r="6.6"/>
<circle cx="1967.4" cy="398.5" r="6.6"/>
<circle cx="1979.8" cy="398.5" r="6.6"/>
<circle cx="2007" cy="401.9" r="6.6"/>
<circle cx="1995.9" cy="409.5" r="6.6"/>
<circle cx="1977.3" cy="409.5" r="6.6"/>
<circle cx="1987.2" cy="410.9" r="6.6"/>
<circle cx="1967.4" cy="417.8" r="6.6"/>
<circle cx="2007" cy="422.7" r="6.6"/>
<circle cx="1997.3" cy="399.9" r="6.6"/>
</g>
<g fill="#30d5f2" stroke="#1b9fd1" stroke-width="1.6">
<circle cx="2067.1" cy="337.1" r="6.6"/>
<circle cx="2060.1" cy="345.8" r="6.6"/>
<circle cx="2087.5" cy="344.6" r="6.6"/>
<circle cx="2047" cy="355" r="6.6"/>
<circle cx="2073.5" cy="355" r="6.6"/>
<circle cx="2047" cy="371.6" r="6.6"/>
<circle cx="2067.1" cy="373.6" r="6.6"/>
<circle cx="2087.5" cy="373" r="6.6"/>
<circle cx="2055.3" cy="383.3" r="6.6"/>
<circle cx="2087.5" cy="388.8" r="6.6"/>
<circle cx="2078.8" cy="391.6" r="6.6"/>
<circle cx="2047" cy="394.4" r="6.6"/>
<circle cx="2060.8" cy="397.1" r="6.6"/>
<circle cx="2082.9" cy="399.9" r="6.6"/>
<circle cx="2047" cy="403.3" r="6.6"/>
<circle cx="2073.3" cy="406.1" r="6.6"/>
<circle cx="2060.8" cy="409.5" r="6.6"/>
<circle cx="2087.5" cy="410.9" r="6.6"/>
<circle cx="2087.5" cy="416.4" r="6.6"/>
<circle cx="2047" cy="424" r="6.6"/>
<circle cx="2078.8" cy="401.3" r="6.6"/>
</g>
<line x1="1256.1" y1="308.5" x2="1290.3" y2="308.5" stroke="#7d8686" stroke-width="1" stroke-dasharray="1.5 2" opacity="0.7"/>
<line x1="1256.1" y1="370.2" x2="1290.3" y2="370.2" stroke="#7d8686" stroke-width="1" stroke-dasharray="1.5 2" opacity="0.7"/>
<line x1="1250.4" y1="341.9" x2="1296" y2="341.9" stroke="#8e9595" stroke-width="2.4" stroke-dasharray="12 5.5" opacity="0.75"/>
<line x1="1335.9" y1="312.2" x2="1370.7" y2="312.2" stroke="#5fb4d6" stroke-width="1" stroke-dasharray="1.5 2" opacity="0.7"/>
<line x1="1335.9" y1="383.3" x2="1370.7" y2="383.3" stroke="#5fb4d6" stroke-width="1" stroke-dasharray="1.5 2" opacity="0.7"/>
<line x1="1330.1" y1="346" x2="1376.5" y2="346" stroke="#1d2fa0" stroke-width="3.2" stroke-dasharray="11.5 5.5"/>
<line x1="1495.6" y1="373" x2="1526.6" y2="373" stroke="#7d8686" stroke-width="1" stroke-dasharray="1.5 2" opacity="0.7"/>
<line x1="1495.6" y1="415.1" x2="1526.6" y2="415.1" stroke="#7d8686" stroke-width="1" stroke-dasharray="1.5 2" opacity="0.7"/>
<line x1="1490.4" y1="395.7" x2="1531.8" y2="395.7" stroke="#8e9595" stroke-width="2.4" stroke-dasharray="12 5.5" opacity="0.75"/>
<line x1="1572.5" y1="397.1" x2="1610.8" y2="397.1" stroke="#5fb4d6" stroke-width="1" stroke-dasharray="1.5 2" opacity="0.7"/>
<line x1="1572.5" y1="417.8" x2="1610.8" y2="417.8" stroke="#5fb4d6" stroke-width="1" stroke-dasharray="1.5 2" opacity="0.7"/>
<line x1="1566.1" y1="408.6" x2="1617.2" y2="408.6" stroke="#1d2fa0" stroke-width="3.2" stroke-dasharray="11.5 5.5"/>
<line x1="1731.4" y1="379.2" x2="1766.6" y2="379.2" stroke="#7d8686" stroke-width="1" stroke-dasharray="1.5 2" opacity="0.7"/>
<line x1="1731.4" y1="409.5" x2="1766.6" y2="409.5" stroke="#7d8686" stroke-width="1" stroke-dasharray="1.5 2" opacity="0.7"/>
<line x1="1725.6" y1="387.7" x2="1772.5" y2="387.7" stroke="#8e9595" stroke-width="2.4" stroke-dasharray="12 5.5" opacity="0.75"/>
<line x1="1809.9" y1="388.8" x2="1848.9" y2="388.8" stroke="#5fb4d6" stroke-width="1" stroke-dasharray="1.5 2" opacity="0.7"/>
<line x1="1809.9" y1="419.2" x2="1848.9" y2="419.2" stroke="#5fb4d6" stroke-width="1" stroke-dasharray="1.5 2" opacity="0.7"/>
<line x1="1803.4" y1="404.4" x2="1855.4" y2="404.4" stroke="#1d2fa0" stroke-width="3.2" stroke-dasharray="11.5 5.5"/>
<line x1="1970.2" y1="369.5" x2="2004.3" y2="369.5" stroke="#7d8686" stroke-width="1" stroke-dasharray="1.5 2" opacity="0.7"/>
<line x1="1970.2" y1="410.9" x2="2004.3" y2="410.9" stroke="#7d8686" stroke-width="1" stroke-dasharray="1.5 2" opacity="0.7"/>
<line x1="1964.5" y1="391.9" x2="2010" y2="391.9" stroke="#8e9595" stroke-width="2.4" stroke-dasharray="12 5.5" opacity="0.75"/>
<line x1="2047.9" y1="373.6" x2="2086.2" y2="373.6" stroke="#5fb4d6" stroke-width="1" stroke-dasharray="1.5 2" opacity="0.7"/>
<line x1="2047.9" y1="410.9" x2="2086.2" y2="410.9" stroke="#5fb4d6" stroke-width="1" stroke-dasharray="1.5 2" opacity="0.7"/>
<line x1="2041.5" y1="395.5" x2="2092.6" y2="395.5" stroke="#1d2fa0" stroke-width="3.2" stroke-dasharray="11.5 5.5"/>
<text x="1309" y="149.5" font-size="33" text-anchor="middle">0.5433</text>
<line x1="1266.5" y1="164.3" x2="1351" y2="164.3" stroke="#111" stroke-width="2.7"/>
<text x="1547.5" y="149.5" font-size="33" text-anchor="middle">0.1283</text>
<line x1="1505.5" y1="164.3" x2="1589" y2="164.3" stroke="#111" stroke-width="2.7"/>
<text x="1788" y="149.5" font-size="33" text-anchor="middle">0.0157</text>
<line x1="1747.7" y1="164.3" x2="1831.8" y2="164.3" stroke="#111" stroke-width="2.7"/>
<text x="2026" y="149.5" font-size="33" text-anchor="middle">0.9060</text>
<line x1="1981" y1="164.3" x2="2065.7" y2="164.3" stroke="#111" stroke-width="2.7"/>
<text x="1" y="568" font-size="35" font-weight="bold">c</text>
<line x1="131" y1="676.6" x2="131" y2="969" stroke="#111" stroke-width="3"/>
<line x1="120.5" y1="967.5" x2="305.1" y2="967.5" stroke="#111" stroke-width="3"/>
<line x1="120" y1="678.1" x2="131" y2="678.1" stroke="#111" stroke-width="3"/>
<line x1="120" y1="750.5" x2="131" y2="750.5" stroke="#111" stroke-width="3"/>
<line x1="120" y1="822.9" x2="131" y2="822.9" stroke="#111" stroke-width="3"/>
<line x1="120" y1="895.2" x2="131" y2="895.2" stroke="#111" stroke-width="3"/>
<line x1="120" y1="967.5" x2="131" y2="967.5" stroke="#111" stroke-width="3"/>
<line x1="337.1" y1="676.6" x2="337.1" y2="969" stroke="#111" stroke-width="3"/>
<line x1="326" y1="967.5" x2="511" y2="967.5" stroke="#111" stroke-width="3"/>
<line x1="326.1" y1="678.1" x2="337.1" y2="678.1" stroke="#111" stroke-width="3"/>
<line x1="326.1" y1="750.5" x2="337.1" y2="750.5" stroke="#111" stroke-width="3"/>
<line x1="326.1" y1="822.9" x2="337.1" y2="822.9" stroke="#111" stroke-width="3"/>
<line x1="326.1" y1="895.2" x2="337.1" y2="895.2" stroke="#111" stroke-width="3"/>
<line x1="326.1" y1="967.5" x2="337.1" y2="967.5" stroke="#111" stroke-width="3"/>
<line x1="542.1" y1="676.6" x2="542.1" y2="969" stroke="#111" stroke-width="3"/>
<line x1="531" y1="967.5" x2="716.8" y2="967.5" stroke="#111" stroke-width="3"/>
<line x1="531.1" y1="678.1" x2="542.1" y2="678.1" stroke="#111" stroke-width="3"/>
<line x1="531.1" y1="750.5" x2="542.1" y2="750.5" stroke="#111" stroke-width="3"/>
<line x1="531.1" y1="822.9" x2="542.1" y2="822.9" stroke="#111" stroke-width="3"/>
<line x1="531.1" y1="895.2" x2="542.1" y2="895.2" stroke="#111" stroke-width="3"/>
<line x1="531.1" y1="967.5" x2="542.1" y2="967.5" stroke="#111" stroke-width="3"/>
<line x1="748.1" y1="676.6" x2="748.1" y2="969" stroke="#111" stroke-width="3"/>
<line x1="737.2" y1="967.5" x2="922.7" y2="967.5" stroke="#111" stroke-width="3"/>
<line x1="737.1" y1="678.1" x2="748.1" y2="678.1" stroke="#111" stroke-width="3"/>
<line x1="737.1" y1="750.5" x2="748.1" y2="750.5" stroke="#111" stroke-width="3"/>
<line x1="737.1" y1="822.9" x2="748.1" y2="822.9" stroke="#111" stroke-width="3"/>
<line x1="737.1" y1="895.2" x2="748.1" y2="895.2" stroke="#111" stroke-width="3"/>
<line x1="737.1" y1="967.5" x2="748.1" y2="967.5" stroke="#111" stroke-width="3"/>
<text x="527.6" y="594.2" font-size="33" text-anchor="middle">IFN-<tspan font-family='"Liberation Serif", "Times New Roman", serif' font-size="34">γ</tspan></text>
<text x="218.2" y="645.5" font-size="33" text-anchor="middle" font-style="italic">C. albicans</text>
<text x="424.5" y="645.5" font-size="33" text-anchor="middle" font-style="italic">C. tropicalis</text>
<text x="629.7" y="645.5" font-size="33" text-anchor="middle" font-style="italic">S. cerevisiae</text>
<text x="834.5" y="645.5" font-size="33" text-anchor="middle" font-style="italic">E. coli</text>
<text x="54.5" y="818.5" font-size="32.5" text-anchor="middle" transform="rotate(-90 54.5 818.5)">% / CD154+Tmem</text>
<text x="116.5" y="690.1" font-size="33" text-anchor="end">80</text>
<text x="116.5" y="762.5" font-size="33" text-anchor="end">60</text>
<text x="116.5" y="834.9" font-size="33" text-anchor="end">40</text>
<text x="116.5" y="907.2" font-size="33" text-anchor="end">20</text>
<text x="116.5" y="979.5" font-size="33" text-anchor="end">0</text>
<path d="M180.2 837.1C180.1 840.2 180.5 851.1 179.8 855.8C179 860.5 176.4 861.6 175.4 865.2C174.4 868.7 174.2 872.9 173.7 876.8C173.2 880.7 173.5 884.6 172.5 888.5C171.5 892.4 167.8 896.3 167.8 900.2C167.8 904.1 173.3 908 172.5 911.9C171.7 915.8 164.7 916.8 163.2 923.6C161.6 930.4 162.2 946.9 163.2 952.8C164.1 958.6 168 957.6 169 958.6L192.4 958.6C193.3 957.6 197.2 958.6 198.2 952.8C199.2 946.9 199.8 930.4 198.2 923.6C196.7 916.8 189.6 915.8 188.9 911.9C188.1 908 193.5 904.1 193.5 900.2C193.5 896.3 189.8 892.4 188.9 888.5C187.9 884.6 188.2 880.7 187.7 876.8C187.2 872.9 187 868.7 185.9 865.2C184.9 861.6 182.4 860.5 181.6 855.8C180.8 851.1 181.2 840.2 181.2 837.1Z" fill="#d2d6d6" stroke="#1c1c1c" stroke-width="1.6" stroke-linejoin="round"/>
<path d="M255 795.1C255 801.9 255.5 826.2 254.8 835.9C254 845.7 251.5 848.6 250.4 853.5C249.3 858.3 248.6 861.3 248.1 865.2C247.6 869 247.2 872.9 247.5 876.8C247.8 880.7 249.9 884.6 249.9 888.5C249.9 892.4 249.3 896.3 247.5 900.2C245.8 904.1 241.5 909 239.3 911.9C237.2 914.8 235.6 911.9 234.7 917.7C233.7 923.6 232.9 940.5 233.5 946.9C234.1 953.4 237.4 954.7 238.2 956.3L273.2 956.3C274 954.7 277.3 953.4 277.9 946.9C278.5 940.5 277.7 923.6 276.7 917.7C275.7 911.9 274.2 914.8 272 911.9C269.9 909 265.6 904.1 263.9 900.2C262.1 896.3 261.5 892.4 261.5 888.5C261.5 884.6 263.6 880.7 263.9 876.8C264.2 872.9 263.8 869 263.3 865.2C262.8 861.3 262.1 858.3 261 853.5C259.8 848.6 257.4 845.7 256.6 835.9C255.9 826.2 256.4 801.9 256.4 795.1Z" fill="#b7e9f5" stroke="#2a9ccf" stroke-width="1.4" stroke-linejoin="round"/>
<path d="M379 822.7C379.1 824.5 379.5 829.5 379.3 833.8C379.2 838.2 378.8 844.7 378.3 848.7C377.7 852.7 377.4 854.4 376.1 857.6C374.7 860.8 371.5 864.6 370.1 868C368.7 871.5 367.1 874.7 367.9 878.4C368.6 882.2 373.2 885.4 374.6 890.3C375.9 895.3 375.9 903.5 376.1 908.2C376.2 912.9 375.6 915.6 375.3 918.6C375.1 921.6 374.7 924.8 374.6 926L398.4 926C398.2 924.8 397.9 921.6 397.6 918.6C397.4 915.6 396.8 912.9 396.9 908.2C397 903.5 397 895.3 398.4 890.3C399.7 885.4 404.3 882.2 405.1 878.4C405.8 874.7 404.2 871.5 402.8 868C401.5 864.6 398.2 860.8 396.9 857.6C395.5 854.4 395.2 852.7 394.6 848.7C394.1 844.7 393.7 838.2 393.6 833.8C393.5 829.5 393.9 824.5 393.9 822.7Z" fill="#d2d6d6" stroke="#1c1c1c" stroke-width="1.6" stroke-linejoin="round"/>
<path d="M458.7 737.2C458.8 740.9 458.7 753.3 459 759.5C459.3 765.7 460.4 770.4 460.5 774.3C460.6 778.3 459.8 778.3 459.5 783.3C459.2 788.2 459.1 798.4 458.7 804.1C458.4 809.8 458.7 813.3 457.2 817.5C455.8 821.7 452.5 825.4 449.8 829.4C447.1 833.3 442.4 836.8 440.9 841.3C439.4 845.7 439.9 851.2 440.9 856.1C441.9 861.1 445.6 866 446.8 871C448.1 876 447.6 880.9 448.3 885.9C449.1 890.8 450.7 894.5 451.3 900.7C451.9 906.9 451.9 919.3 452 923L471.4 923C471.5 919.3 471.5 906.9 472.1 900.7C472.7 894.5 474.3 890.8 475.1 885.9C475.8 880.9 475.3 876 476.6 871C477.8 866 481.5 861.1 482.5 856.1C483.5 851.2 484 845.7 482.5 841.3C481 836.8 476.3 833.3 473.6 829.4C470.9 825.4 467.7 821.7 466.2 817.5C464.7 813.3 465.1 809.8 464.7 804.1C464.3 798.4 464.2 788.2 463.9 783.3C463.6 778.3 462.8 778.3 462.9 774.3C463 770.4 464.1 765.7 464.4 759.5C464.7 753.3 464.6 740.9 464.7 737.2Z" fill="#b7e9f5" stroke="#2a9ccf" stroke-width="1.4" stroke-linejoin="round"/>
<path d="M591.8 823.4C591.7 826.6 592 838.3 591.5 842.8C590.9 847.2 589.1 847.7 588.5 850.2C587.9 852.7 587.7 855.1 587.8 857.6C587.9 860.1 589.4 861.6 589.3 865.1C589.1 868.5 588 874.7 587 878.4C586 882.2 585.7 883.6 583.3 887.4C581 891.1 574.6 894.8 572.9 900.7C571.2 906.7 571.2 917.3 572.9 923C574.6 928.7 581.2 931.2 583.3 934.9C585.4 938.7 584.9 940.9 585.5 945.4C586.2 949.8 586.8 959 587 961.7L597.4 961.7C597.7 959 598.3 949.8 598.9 945.4C599.5 940.9 599.1 938.7 601.2 934.9C603.3 931.2 609.8 928.7 611.6 923C613.3 917.3 613.3 906.7 611.6 900.7C609.8 894.8 603.5 891.1 601.2 887.4C598.8 883.6 598.4 882.2 597.4 878.4C596.5 874.7 595.3 868.5 595.2 865.1C595.1 861.6 596.6 860.1 596.7 857.6C596.8 855.1 596.6 852.7 596 850.2C595.3 847.7 593.5 847.2 593 842.8C592.4 838.3 592.7 826.6 592.7 823.4Z" fill="#d2d6d6" stroke="#1c1c1c" stroke-width="1.6" stroke-linejoin="round"/>
<path d="M665.2 741.9C665.3 747.3 665.9 766.6 665.5 774.3C665.2 782.1 663.8 783.5 663.3 788.5C662.8 793.4 663.4 799 662.6 804.1C661.7 809.2 659.7 814 658.1 819C656.5 823.9 654.6 828.9 652.9 833.8C651.2 838.8 649.3 844.7 647.7 848.7C646.1 852.7 643.7 853.9 643.2 857.6C642.7 861.3 643.5 866.3 644.7 871C646 875.7 649.4 880.9 650.7 885.9C651.9 890.8 651.4 895.8 652.2 900.7C652.9 905.7 654.5 910.7 655.1 915.6C655.8 920.6 656 925.5 655.9 930.5C655.8 935.4 654.5 941.3 654.4 945.4C654.3 949.4 655 953.4 655.1 955L678.9 955C679.1 953.4 679.8 949.4 679.7 945.4C679.5 941.3 678.3 935.4 678.2 930.5C678.1 925.5 678.3 920.6 678.9 915.6C679.5 910.7 681.2 905.7 681.9 900.7C682.6 895.8 682.2 890.8 683.4 885.9C684.6 880.9 688.1 875.7 689.3 871C690.6 866.3 691.3 861.3 690.8 857.6C690.3 853.9 688 852.7 686.4 848.7C684.8 844.7 682.9 838.8 681.2 833.8C679.4 828.9 677.6 823.9 676 819C674.3 814 672.4 809.2 671.5 804.1C670.6 799 671.2 793.4 670.8 788.5C670.3 783.5 668.8 782.1 668.5 774.3C668.2 766.6 668.8 747.3 668.8 741.9Z" fill="#b7e9f5" stroke="#2a9ccf" stroke-width="1.4" stroke-linejoin="round"/>
<path d="M789 737.5C787.5 742.4 781.7 759.8 780.1 766.9C778.4 774.1 778.6 774.1 779.3 780.3C780.1 786.5 783.2 797.6 784.5 804.1C785.9 810.5 786.7 812.8 787.5 819C788.2 825.2 789.2 835.1 789 841.3C788.7 847.5 787.2 851.9 786 856.1C784.8 860.3 783.3 862.8 781.5 866.5C779.8 870.3 777 874 775.6 878.4C774.2 882.9 773.4 888.4 773.4 893.3C773.4 898.3 774.6 903.2 775.6 908.2C776.6 913.1 778.1 918.1 779.3 923C780.6 928 781.5 933.8 783 937.9C784.5 942.1 787.4 946.3 788.2 948L807.6 948C808.4 946.3 811.3 942.1 812.8 937.9C814.3 933.8 815.2 928 816.5 923C817.7 918.1 819.2 913.1 820.2 908.2C821.2 903.2 822.4 898.3 822.4 893.3C822.4 888.4 821.6 882.9 820.2 878.4C818.8 874 816 870.3 814.3 866.5C812.5 862.8 811 860.3 809.8 856.1C808.6 851.9 807.1 847.5 806.8 841.3C806.6 835.1 807.6 825.2 808.3 819C809.1 812.8 809.9 810.5 811.3 804.1C812.6 797.6 815.7 786.5 816.5 780.3C817.2 774.1 817.4 774.1 815.7 766.9C814.1 759.8 808.3 742.4 806.8 737.5Z" fill="#d2d6d6" stroke="#1c1c1c" stroke-width="1.6" stroke-linejoin="round"/>
<path d="M869.9 722.8C869.8 725.2 869.9 731.1 869.6 737.2C869.2 743.3 868.2 752 867.6 759.5C867.1 766.9 866.9 774.3 866.2 781.8C865.4 789.2 864.4 798.4 863.2 804.1C861.9 809.8 860.2 812 858.7 816C857.2 820 855.2 822.4 854.3 827.9C853.3 833.3 853 835.3 852.8 848.7C852.5 862.1 851.9 894.5 852.8 908.2C853.6 921.8 856.2 924.3 858 930.5C859.7 936.7 862.1 941.3 863.2 945.4C864.3 949.4 864.4 953 864.7 954.6L881 954.6C881.3 953 881.4 949.4 882.5 945.4C883.6 941.3 886 936.7 887.7 930.5C889.4 924.3 892.1 921.8 892.9 908.2C893.8 894.5 893.2 862.1 892.9 848.7C892.7 835.3 892.4 833.3 891.4 827.9C890.4 822.4 888.5 820 887 816C885.5 812 883.7 809.8 882.5 804.1C881.3 798.4 880.3 789.2 879.5 781.8C878.8 774.3 878.6 766.9 878 759.5C877.5 752 876.5 743.3 876.1 737.2C875.7 731.1 875.9 725.2 875.8 722.8Z" fill="#b7e9f5" stroke="#2a9ccf" stroke-width="1.4" stroke-linejoin="round"/>
<g fill="#464b4c" stroke="#151515" stroke-width="1.6">
<circle cx="180.7" cy="830.7" r="6.6"/>
<circle cx="187.1" cy="870.4" r="6.6"/>
<circle cx="199.4" cy="869.2" r="6.6"/>
<circle cx="162" cy="876.8" r="6.6"/>
<circle cx="174.6" cy="875.1" r="6.6"/>
<circle cx="162" cy="887.9" r="6.6"/>
<circle cx="181.3" cy="892" r="6.6"/>
<circle cx="199.4" cy="892" r="6.6"/>
<circle cx="200" cy="896.7" r="6.6"/>
<circle cx="162" cy="900.8" r="6.6"/>
<circle cx="169.6" cy="899.6" r="6.6"/>
<circle cx="178.9" cy="897.9" r="6.6"/>
<circle cx="184.8" cy="903.7" r="6.6"/>
<circle cx="191.8" cy="904.3" r="6.6"/>
<circle cx="180.7" cy="907.8" r="6.6"/>
<circle cx="169.6" cy="919.5" r="6.6"/>
<circle cx="184.2" cy="921.8" r="6.6"/>
<circle cx="162" cy="927.7" r="6.6"/>
<circle cx="199.4" cy="927.1" r="6.6"/>
<circle cx="172.5" cy="936.4" r="6.6"/>
<circle cx="187.1" cy="934.1" r="6.6"/>
<circle cx="162" cy="938.8" r="6.6"/>
<circle cx="199.4" cy="942.3" r="6.6"/>
<circle cx="169" cy="944" r="6.6"/>
<circle cx="184.8" cy="943.4" r="6.6"/>
<circle cx="177.8" cy="950.4" r="6.6"/>
<circle cx="200" cy="948.1" r="6.6"/>
<circle cx="162" cy="954.5" r="6.6"/>
<circle cx="191.8" cy="957.5" r="6.6"/>
</g>
<g fill="#30d5f2" stroke="#1b9fd1" stroke-width="1.6">
<circle cx="255.7" cy="795.1" r="6.6"/>
<circle cx="237.3" cy="861.1" r="6.6"/>
<circle cx="274.5" cy="855.8" r="6.6"/>
<circle cx="255.7" cy="873.9" r="6.6"/>
<circle cx="237.3" cy="886.8" r="6.6"/>
<circle cx="274.5" cy="881.5" r="6.6"/>
<circle cx="255.7" cy="910.7" r="6.6"/>
<circle cx="251.4" cy="914.2" r="6.6"/>
<circle cx="260.7" cy="914.2" r="6.6"/>
<circle cx="267.7" cy="914.2" r="6.6"/>
<circle cx="242" cy="920.1" r="6.6"/>
<circle cx="249" cy="917.7" r="6.6"/>
<circle cx="273" cy="917.7" r="6.6"/>
<circle cx="238.5" cy="925.9" r="6.6"/>
<circle cx="275.9" cy="925.9" r="6.6"/>
<circle cx="237.3" cy="934.1" r="6.6"/>
<circle cx="246.1" cy="934.1" r="6.6"/>
<circle cx="254.9" cy="935.8" r="6.6"/>
<circle cx="265.4" cy="931.7" r="6.6"/>
<circle cx="273.6" cy="935.3" r="6.6"/>
<circle cx="242" cy="942.3" r="6.6"/>
<circle cx="261.9" cy="942.3" r="6.6"/>
<circle cx="237.3" cy="948.1" r="6.6"/>
<circle cx="252" cy="948.7" r="6.6"/>
<circle cx="274.7" cy="945.8" r="6.6"/>
<circle cx="266.6" cy="951.6" r="6.6"/>
</g>
<g fill="#464b4c" stroke="#151515" stroke-width="1.6">
<circle cx="367.6" cy="822.7" r="6.6"/>
<circle cx="386.5" cy="824.9" r="6.6"/>
<circle cx="404.8" cy="823.4" r="6.6"/>
<circle cx="367.6" cy="832.3" r="6.6"/>
<circle cx="404.8" cy="841.3" r="6.6"/>
<circle cx="386.2" cy="852.4" r="6.6"/>
<circle cx="367.6" cy="856.9" r="6.6"/>
<circle cx="404.8" cy="856.4" r="6.6"/>
<circle cx="372" cy="874" r="6.6"/>
<circle cx="381.7" cy="873.2" r="6.6"/>
<circle cx="388.4" cy="871" r="6.6"/>
<circle cx="400.3" cy="871.7" r="6.6"/>
<circle cx="406.2" cy="877" r="6.6"/>
<circle cx="367.6" cy="878.4" r="6.6"/>
<circle cx="376.5" cy="883.6" r="6.6"/>
<circle cx="386.5" cy="883.6" r="6.6"/>
<circle cx="395.8" cy="884.4" r="6.6"/>
<circle cx="405.5" cy="882.9" r="6.6"/>
<circle cx="367.6" cy="894.1" r="6.6"/>
<circle cx="386.5" cy="900" r="6.6"/>
<circle cx="404.8" cy="897" r="6.6"/>
<circle cx="367.6" cy="907.4" r="6.6"/>
<circle cx="367.6" cy="911.2" r="6.6"/>
<circle cx="386.5" cy="917.8" r="6.6"/>
<circle cx="404.8" cy="917.1" r="6.6"/>
<circle cx="367.6" cy="926" r="6.6"/>
<circle cx="377.2" cy="926" r="6.6"/>
<circle cx="386.5" cy="926" r="6.6"/>
<circle cx="404.8" cy="926" r="6.6"/>
<circle cx="377.2" cy="936.4" r="6.6"/>
<circle cx="395.8" cy="937.9" r="6.6"/>
<circle cx="367.6" cy="944.6" r="6.6"/>
<circle cx="386.5" cy="944.6" r="6.6"/>
<circle cx="404.8" cy="946.1" r="6.6"/>
</g>
<g fill="#30d5f2" stroke="#1b9fd1" stroke-width="1.6">
<circle cx="461.7" cy="737.2" r="6.6"/>
<circle cx="461.7" cy="752" r="6.6"/>
<circle cx="461.7" cy="790.7" r="6.6"/>
<circle cx="461.7" cy="817.5" r="6.6"/>
<circle cx="479.9" cy="835.3" r="6.6"/>
<circle cx="442.7" cy="843.5" r="6.6"/>
<circle cx="461.7" cy="842.8" r="6.6"/>
<circle cx="452.3" cy="848.7" r="6.6"/>
<circle cx="470.2" cy="854.6" r="6.6"/>
<circle cx="479.9" cy="853.2" r="6.6"/>
<circle cx="442.7" cy="855.4" r="6.6"/>
<circle cx="454.6" cy="858.4" r="6.6"/>
<circle cx="479.9" cy="859.9" r="6.6"/>
<circle cx="442.7" cy="869.5" r="6.6"/>
<circle cx="467.2" cy="868" r="6.6"/>
<circle cx="460.5" cy="877.7" r="6.6"/>
<circle cx="454.6" cy="886.6" r="6.6"/>
<circle cx="479.9" cy="888.1" r="6.6"/>
<circle cx="442.7" cy="894.8" r="6.6"/>
<circle cx="467.2" cy="892.6" r="6.6"/>
<circle cx="461.3" cy="909.7" r="6.6"/>
<circle cx="442.7" cy="923" r="6.6"/>
<circle cx="461.7" cy="921.6" r="6.6"/>
<circle cx="479.9" cy="922.3" r="6.6"/>
</g>
<g fill="#464b4c" stroke="#151515" stroke-width="1.6">
<circle cx="592.2" cy="823.4" r="6.6"/>
<circle cx="610.8" cy="853.2" r="6.6"/>
<circle cx="573.4" cy="859.9" r="6.6"/>
<circle cx="592.2" cy="868" r="6.6"/>
<circle cx="573.4" cy="879.9" r="6.6"/>
<circle cx="610.8" cy="879.2" r="6.6"/>
<circle cx="588.2" cy="889.6" r="6.6"/>
<circle cx="596.4" cy="891.8" r="6.6"/>
<circle cx="573.4" cy="900.7" r="6.6"/>
<circle cx="581.5" cy="900" r="6.6"/>
<circle cx="602.3" cy="896.3" r="6.6"/>
<circle cx="610.8" cy="897.8" r="6.6"/>
<circle cx="583.8" cy="903.7" r="6.6"/>
<circle cx="594.2" cy="908.2" r="6.6"/>
<circle cx="605.3" cy="905.9" r="6.6"/>
<circle cx="612.8" cy="903.7" r="6.6"/>
<circle cx="573.4" cy="914.1" r="6.6"/>
<circle cx="578.6" cy="917.1" r="6.6"/>
<circle cx="592.2" cy="918.6" r="6.6"/>
<circle cx="602.3" cy="915.6" r="6.6"/>
<circle cx="610.8" cy="920.1" r="6.6"/>
<circle cx="573.4" cy="930.5" r="6.6"/>
<circle cx="583" cy="924.5" r="6.6"/>
<circle cx="592.2" cy="929" r="6.6"/>
<circle cx="605.3" cy="927.5" r="6.6"/>
<circle cx="610.8" cy="936.4" r="6.6"/>
<circle cx="586" cy="942.4" r="6.6"/>
<circle cx="573.4" cy="949.8" r="6.6"/>
<circle cx="597.9" cy="951.3" r="6.6"/>
<circle cx="610.8" cy="949.8" r="6.6"/>
<circle cx="610.8" cy="962.5" r="6.6"/>
<circle cx="573.4" cy="964.7" r="6.6"/>
</g>
<g fill="#30d5f2" stroke="#1b9fd1" stroke-width="1.6">
<circle cx="667" cy="741.9" r="6.6"/>
<circle cx="667" cy="788.5" r="6.6"/>
<circle cx="667" cy="826.4" r="6.6"/>
<circle cx="685.6" cy="832.3" r="6.6"/>
<circle cx="648.4" cy="838.3" r="6.6"/>
<circle cx="667" cy="854.6" r="6.6"/>
<circle cx="658.9" cy="859.1" r="6.6"/>
<circle cx="675.2" cy="860.6" r="6.6"/>
<circle cx="685.6" cy="862.1" r="6.6"/>
<circle cx="648.4" cy="865.8" r="6.6"/>
<circle cx="660.3" cy="869.5" r="6.6"/>
<circle cx="672.2" cy="871" r="6.6"/>
<circle cx="684.1" cy="868" r="6.6"/>
<circle cx="648.4" cy="880.7" r="6.6"/>
<circle cx="657.4" cy="894.1" r="6.6"/>
<circle cx="648.4" cy="900.7" r="6.6"/>
<circle cx="666.3" cy="899.3" r="6.6"/>
<circle cx="676" cy="899.3" r="6.6"/>
<circle cx="685.6" cy="906.7" r="6.6"/>
<circle cx="648.4" cy="930.5" r="6.6"/>
<circle cx="685.6" cy="934.2" r="6.6"/>
<circle cx="667" cy="941.6" r="6.6"/>
<circle cx="667" cy="946.8" r="6.6"/>
<circle cx="685.6" cy="947.6" r="6.6"/>
<circle cx="648.4" cy="955" r="6.6"/>
</g>
<g fill="#464b4c" stroke="#151515" stroke-width="1.6">
<circle cx="816.5" cy="737.9" r="6.6"/>
<circle cx="779.2" cy="749.1" r="6.6"/>
<circle cx="791.2" cy="766.9" r="6.6"/>
<circle cx="779.2" cy="777.3" r="6.6"/>
<circle cx="804.1" cy="775.8" r="6.6"/>
<circle cx="816.8" cy="774.3" r="6.6"/>
<circle cx="816.5" cy="793.7" r="6.6"/>
<circle cx="779.2" cy="800.4" r="6.6"/>
<circle cx="779.2" cy="832.3" r="6.6"/>
<circle cx="816.5" cy="832.3" r="6.6"/>
<circle cx="788.5" cy="874" r="6.6"/>
<circle cx="779.2" cy="882.2" r="6.6"/>
<circle cx="798.2" cy="880.7" r="6.6"/>
<circle cx="807.9" cy="878.4" r="6.6"/>
<circle cx="816.8" cy="883.6" r="6.6"/>
<circle cx="797.9" cy="895.5" r="6.6"/>
<circle cx="797.9" cy="909.7" r="6.6"/>
<circle cx="816.5" cy="911.9" r="6.6"/>
<circle cx="779.2" cy="916.4" r="6.6"/>
<circle cx="797.9" cy="929" r="6.6"/>
<circle cx="816.5" cy="937.9" r="6.6"/>
<circle cx="779.2" cy="949.8" r="6.6"/>
</g>
<g fill="#30d5f2" stroke="#1b9fd1" stroke-width="1.6">
<circle cx="872.8" cy="722.8" r="6.6"/>
<circle cx="872.8" cy="769.1" r="6.6"/>
<circle cx="872.8" cy="782.5" r="6.6"/>
<circle cx="872.8" cy="818.2" r="6.6"/>
<circle cx="891.1" cy="823.4" r="6.6"/>
<circle cx="854" cy="827.9" r="6.6"/>
<circle cx="854" cy="842" r="6.6"/>
<circle cx="891.1" cy="840.5" r="6.6"/>
<circle cx="854" cy="859.9" r="6.6"/>
<circle cx="891.1" cy="857.6" r="6.6"/>
<circle cx="854" cy="868" r="6.6"/>
<circle cx="891.1" cy="868" r="6.6"/>
<circle cx="872.8" cy="877.7" r="6.6"/>
<circle cx="854" cy="890.3" r="6.6"/>
<circle cx="891.1" cy="888.8" r="6.6"/>
<circle cx="854" cy="908.2" r="6.6"/>
<circle cx="872.8" cy="906.7" r="6.6"/>
<circle cx="891.1" cy="908.2" r="6.6"/>
<circle cx="854" cy="924.5" r="6.6"/>
<circle cx="891.1" cy="923.8" r="6.6"/>
<circle cx="891.1" cy="949.8" r="6.6"/>
<circle cx="854" cy="952.8" r="6.6"/>
</g>
<line x1="165.8" y1="900.2" x2="195.6" y2="900.2" stroke="#7d8686" stroke-width="1" stroke-dasharray="1.5 2" opacity="0.7"/>
<line x1="165.8" y1="944.6" x2="195.6" y2="944.6" stroke="#7d8686" stroke-width="1" stroke-dasharray="1.5 2" opacity="0.7"/>
<line x1="160.8" y1="928.8" x2="200.5" y2="928.8" stroke="#8e9595" stroke-width="2.4" stroke-dasharray="12 5.5" opacity="0.75"/>
<line x1="239.2" y1="910.7" x2="272.2" y2="910.7" stroke="#5fb4d6" stroke-width="1" stroke-dasharray="1.5 2" opacity="0.7"/>
<line x1="239.2" y1="942.3" x2="272.2" y2="942.3" stroke="#5fb4d6" stroke-width="1" stroke-dasharray="1.5 2" opacity="0.7"/>
<line x1="233.7" y1="921.8" x2="277.7" y2="921.8" stroke="#1d2fa0" stroke-width="3.2" stroke-dasharray="11.5 5.5"/>
<line x1="370.9" y1="856.1" x2="402.1" y2="856.1" stroke="#7d8686" stroke-width="1" stroke-dasharray="1.5 2" opacity="0.7"/>
<line x1="370.9" y1="917.1" x2="402.1" y2="917.1" stroke="#7d8686" stroke-width="1" stroke-dasharray="1.5 2" opacity="0.7"/>
<line x1="365.7" y1="884.4" x2="407.3" y2="884.4" stroke="#8e9595" stroke-width="2.4" stroke-dasharray="12 5.5" opacity="0.75"/>
<line x1="445" y1="842.8" x2="478.4" y2="842.8" stroke="#5fb4d6" stroke-width="1" stroke-dasharray="1.5 2" opacity="0.7"/>
<line x1="445" y1="891.8" x2="478.4" y2="891.8" stroke="#5fb4d6" stroke-width="1" stroke-dasharray="1.5 2" opacity="0.7"/>
<line x1="439.4" y1="858.8" x2="484" y2="858.8" stroke="#1d2fa0" stroke-width="3.2" stroke-dasharray="11.5 5.5"/>
<line x1="576.6" y1="893.3" x2="607.9" y2="893.3" stroke="#7d8686" stroke-width="1" stroke-dasharray="1.5 2" opacity="0.7"/>
<line x1="576.6" y1="937.9" x2="607.9" y2="937.9" stroke="#7d8686" stroke-width="1" stroke-dasharray="1.5 2" opacity="0.7"/>
<line x1="571.4" y1="912.9" x2="613.1" y2="912.9" stroke="#8e9595" stroke-width="2.4" stroke-dasharray="12 5.5" opacity="0.75"/>
<line x1="650.3" y1="857.6" x2="683.8" y2="857.6" stroke="#5fb4d6" stroke-width="1" stroke-dasharray="1.5 2" opacity="0.7"/>
<line x1="650.3" y1="919.3" x2="683.8" y2="919.3" stroke="#5fb4d6" stroke-width="1" stroke-dasharray="1.5 2" opacity="0.7"/>
<line x1="644.7" y1="873.7" x2="689.3" y2="873.7" stroke="#1d2fa0" stroke-width="3.2" stroke-dasharray="11.5 5.5"/>
<line x1="781.2" y1="777.3" x2="814.6" y2="777.3" stroke="#7d8686" stroke-width="1" stroke-dasharray="1.5 2" opacity="0.7"/>
<line x1="781.2" y1="911.2" x2="814.6" y2="911.2" stroke="#7d8686" stroke-width="1" stroke-dasharray="1.5 2" opacity="0.7"/>
<line x1="775.6" y1="877.7" x2="820.2" y2="877.7" stroke="#8e9595" stroke-width="2.4" stroke-dasharray="12 5.5" opacity="0.75"/>
<line x1="855" y1="827.9" x2="890.7" y2="827.9" stroke="#5fb4d6" stroke-width="1" stroke-dasharray="1.5 2" opacity="0.7"/>
<line x1="855" y1="908.2" x2="890.7" y2="908.2" stroke="#5fb4d6" stroke-width="1" stroke-dasharray="1.5 2" opacity="0.7"/>
<line x1="849.1" y1="872.5" x2="896.6" y2="872.5" stroke="#1d2fa0" stroke-width="3.2" stroke-dasharray="11.5 5.5"/>
<text x="214.9" y="692.3" font-size="33" text-anchor="middle">0.6629</text>
<line x1="177.5" y1="701.6" x2="255.6" y2="701.6" stroke="#111" stroke-width="2.7"/>
<text x="418.2" y="692.3" font-size="33" text-anchor="middle">0.0057</text>
<line x1="382.3" y1="701.6" x2="460.4" y2="701.6" stroke="#111" stroke-width="2.7"/>
<text x="628.3" y="692.3" font-size="33" text-anchor="middle">0.0082</text>
<line x1="590" y1="701.6" x2="668" y2="701.6" stroke="#111" stroke-width="2.7"/>
<text x="834.5" y="692.3" font-size="33" text-anchor="middle">0.6128</text>
<line x1="797.6" y1="701.6" x2="874.3" y2="701.6" stroke="#111" stroke-width="2.7"/>
<circle cx="331.9" cy="1008.6" r="11.8" fill="#464b4c" stroke="#151515" stroke-width="1.8"/>
<text x="356.3" y="1019.2" font-size="33">Non-FDR</text>
<circle cx="574.1" cy="1008.6" r="11.8" fill="#30d5f2" stroke="#1b9fd1" stroke-width="1.8"/>
<text x="598.5" y="1019.2" font-size="33">IBD-FDR</text>
<text x="952" y="571" font-size="35" font-weight="bold">d</text>
<text x="1302.4" y="593.5" font-size="33" text-anchor="middle" font-style="italic">S. cerevisiae</text>
<text x="1157.1" y="646.1" font-size="33" text-anchor="middle">Non-FDR</text>
<text x="1419.3" y="646.1" font-size="33" text-anchor="middle">FDR</text>
<rect x="1037.3" y="670.6" width="240" height="239.4" fill="none" stroke="#141414" stroke-width="1.9"/>
<line x1="1109.5" y1="670.6" x2="1109.5" y2="910" stroke="#141414" stroke-width="1.4"/>
<line x1="1037.3" y1="830" x2="1277.3" y2="830" stroke="#141414" stroke-width="1.4"/>
<rect x="1300.8" y="670.6" width="239.4" height="239.4" fill="none" stroke="#141414" stroke-width="1.9"/>
<line x1="1373" y1="670.6" x2="1373" y2="910" stroke="#141414" stroke-width="1.4"/>
<line x1="1300.8" y1="828.7" x2="1540.2" y2="828.7" stroke="#141414" stroke-width="1.4"/>
<text x="1038.5" y="702.3" font-size="30">5.1%</text>
<text x="1270" y="702.3" font-size="30" text-anchor="end">1.3%</text>
<text x="1270" y="905.5" font-size="30" text-anchor="end">8.3%</text>
<text x="1302.2" y="702.3" font-size="30">2.7%</text>
<text x="1533.8" y="702.3" font-size="30" text-anchor="end">3.9%</text>
<text x="1533.8" y="905.5" font-size="30" text-anchor="end">61.0%</text>
<text x="1070.6" y="936.8" font-size="12.5" text-anchor="middle" stroke="#111" stroke-width="0.35">0</text>
<text x="1159.4" y="936.8" font-size="12.5" text-anchor="middle" stroke="#111" stroke-width="0.35">10<tspan dy="-4.8" font-size="9.5">3</tspan></text>
<text x="1217.6" y="936.8" font-size="12.5" text-anchor="middle" stroke="#111" stroke-width="0.35">10<tspan dy="-4.8" font-size="9.5">4</tspan></text>
<text x="1276.3" y="936.8" font-size="12.5" text-anchor="middle" stroke="#111" stroke-width="0.35">10<tspan dy="-4.8" font-size="9.5">5</tspan></text>
<line x1="1042.9" y1="910" x2="1042.9" y2="913.2" stroke="#111" stroke-width="1.4"/>
<line x1="1047.8" y1="910" x2="1047.8" y2="913.2" stroke="#111" stroke-width="1.4"/>
<line x1="1052.7" y1="910" x2="1052.7" y2="913.2" stroke="#111" stroke-width="1.4"/>
<line x1="1055.9" y1="910" x2="1055.9" y2="913.2" stroke="#111" stroke-width="1.4"/>
<line x1="1058.2" y1="910" x2="1058.2" y2="913.2" stroke="#111" stroke-width="1.4"/>
<line x1="1060.5" y1="910" x2="1060.5" y2="913.2" stroke="#111" stroke-width="1.4"/>
<line x1="1062.4" y1="910" x2="1062.4" y2="913.2" stroke="#111" stroke-width="1.4"/>
<line x1="1064.1" y1="910" x2="1064.1" y2="913.2" stroke="#111" stroke-width="1.4"/>
<line x1="1065.7" y1="910" x2="1065.7" y2="913.2" stroke="#111" stroke-width="1.4"/>
<line x1="1067" y1="910" x2="1067" y2="913.2" stroke="#111" stroke-width="1.4"/>
<line x1="1068" y1="910" x2="1068" y2="913.2" stroke="#111" stroke-width="1.4"/>
<line x1="1069.3" y1="910" x2="1069.3" y2="913.2" stroke="#111" stroke-width="1.4"/>
<line x1="1070.6" y1="910" x2="1070.6" y2="915.5" stroke="#111" stroke-width="1.4"/>
<line x1="1071.9" y1="910" x2="1071.9" y2="913.2" stroke="#111" stroke-width="1.4"/>
<line x1="1073.2" y1="910" x2="1073.2" y2="913.2" stroke="#111" stroke-width="1.4"/>
<line x1="1074.5" y1="910" x2="1074.5" y2="913.2" stroke="#111" stroke-width="1.4"/>
<line x1="1075.5" y1="910" x2="1075.5" y2="913.2" stroke="#111" stroke-width="1.4"/>
<line x1="1077.1" y1="910" x2="1077.1" y2="913.2" stroke="#111" stroke-width="1.4"/>
<line x1="1078.8" y1="910" x2="1078.8" y2="913.2" stroke="#111" stroke-width="1.4"/>
<line x1="1080.7" y1="910" x2="1080.7" y2="913.2" stroke="#111" stroke-width="1.4"/>
<line x1="1083" y1="910" x2="1083" y2="913.2" stroke="#111" stroke-width="1.4"/>
<line x1="1085.6" y1="910" x2="1085.6" y2="913.2" stroke="#111" stroke-width="1.4"/>
<line x1="1088.6" y1="910" x2="1088.6" y2="913.2" stroke="#111" stroke-width="1.4"/>
<line x1="1093.5" y1="910" x2="1093.5" y2="913.2" stroke="#111" stroke-width="1.4"/>
<line x1="1100" y1="910" x2="1100" y2="913.2" stroke="#111" stroke-width="1.4"/>
<line x1="1122.9" y1="910" x2="1122.9" y2="913.2" stroke="#111" stroke-width="1.4"/>
<line x1="1135.9" y1="910" x2="1135.9" y2="913.2" stroke="#111" stroke-width="1.4"/>
<line x1="1145.1" y1="910" x2="1145.1" y2="913.2" stroke="#111" stroke-width="1.4"/>
<line x1="1152.2" y1="910" x2="1152.2" y2="913.2" stroke="#111" stroke-width="1.4"/>
<line x1="1159.4" y1="910" x2="1159.4" y2="915.5" stroke="#111" stroke-width="1.4"/>
<line x1="1176.7" y1="910" x2="1176.7" y2="913.2" stroke="#111" stroke-width="1.4"/>
<line x1="1187.2" y1="910" x2="1187.2" y2="913.2" stroke="#111" stroke-width="1.4"/>
<line x1="1194.7" y1="910" x2="1194.7" y2="913.2" stroke="#111" stroke-width="1.4"/>
<line x1="1200.2" y1="910" x2="1200.2" y2="913.2" stroke="#111" stroke-width="1.4"/>
<line x1="1205.1" y1="910" x2="1205.1" y2="913.2" stroke="#111" stroke-width="1.4"/>
<line x1="1209.1" y1="910" x2="1209.1" y2="913.2" stroke="#111" stroke-width="1.4"/>
<line x1="1212.3" y1="910" x2="1212.3" y2="913.2" stroke="#111" stroke-width="1.4"/>
<line x1="1215.3" y1="910" x2="1215.3" y2="913.2" stroke="#111" stroke-width="1.4"/>
<line x1="1217.6" y1="910" x2="1217.6" y2="915.5" stroke="#111" stroke-width="1.4"/>
<line x1="1234.9" y1="910" x2="1234.9" y2="913.2" stroke="#111" stroke-width="1.4"/>
<line x1="1245.3" y1="910" x2="1245.3" y2="913.2" stroke="#111" stroke-width="1.4"/>
<line x1="1252.5" y1="910" x2="1252.5" y2="913.2" stroke="#111" stroke-width="1.4"/>
<line x1="1258.4" y1="910" x2="1258.4" y2="913.2" stroke="#111" stroke-width="1.4"/>
<line x1="1263.3" y1="910" x2="1263.3" y2="913.2" stroke="#111" stroke-width="1.4"/>
<line x1="1267.2" y1="910" x2="1267.2" y2="913.2" stroke="#111" stroke-width="1.4"/>
<line x1="1270.4" y1="910" x2="1270.4" y2="913.2" stroke="#111" stroke-width="1.4"/>
<line x1="1273.7" y1="910" x2="1273.7" y2="913.2" stroke="#111" stroke-width="1.4"/>
<line x1="1276.3" y1="910" x2="1276.3" y2="915.5" stroke="#111" stroke-width="1.4"/>
<text x="1334.1" y="936.8" font-size="12.5" text-anchor="middle" stroke="#111" stroke-width="0.35">0</text>
<text x="1422.9" y="936.8" font-size="12.5" text-anchor="middle" stroke="#111" stroke-width="0.35">10<tspan dy="-4.8" font-size="9.5">3</tspan></text>
<text x="1481.1" y="936.8" font-size="12.5" text-anchor="middle" stroke="#111" stroke-width="0.35">10<tspan dy="-4.8" font-size="9.5">4</tspan></text>
<text x="1539.8" y="936.8" font-size="12.5" text-anchor="middle" stroke="#111" stroke-width="0.35">10<tspan dy="-4.8" font-size="9.5">5</tspan></text>
<line x1="1306.4" y1="910" x2="1306.4" y2="913.2" stroke="#111" stroke-width="1.4"/>
<line x1="1311.3" y1="910" x2="1311.3" y2="913.2" stroke="#111" stroke-width="1.4"/>
<line x1="1316.2" y1="910" x2="1316.2" y2="913.2" stroke="#111" stroke-width="1.4"/>
<line x1="1319.4" y1="910" x2="1319.4" y2="913.2" stroke="#111" stroke-width="1.4"/>
<line x1="1321.7" y1="910" x2="1321.7" y2="913.2" stroke="#111" stroke-width="1.4"/>
<line x1="1324" y1="910" x2="1324" y2="913.2" stroke="#111" stroke-width="1.4"/>
<line x1="1325.9" y1="910" x2="1325.9" y2="913.2" stroke="#111" stroke-width="1.4"/>
<line x1="1327.6" y1="910" x2="1327.6" y2="913.2" stroke="#111" stroke-width="1.4"/>
<line x1="1329.2" y1="910" x2="1329.2" y2="913.2" stroke="#111" stroke-width="1.4"/>
<line x1="1330.5" y1="910" x2="1330.5" y2="913.2" stroke="#111" stroke-width="1.4"/>
<line x1="1331.5" y1="910" x2="1331.5" y2="913.2" stroke="#111" stroke-width="1.4"/>
<line x1="1332.8" y1="910" x2="1332.8" y2="913.2" stroke="#111" stroke-width="1.4"/>
<line x1="1334.1" y1="910" x2="1334.1" y2="915.5" stroke="#111" stroke-width="1.4"/>
<line x1="1335.4" y1="910" x2="1335.4" y2="913.2" stroke="#111" stroke-width="1.4"/>
<line x1="1336.7" y1="910" x2="1336.7" y2="913.2" stroke="#111" stroke-width="1.4"/>
<line x1="1338" y1="910" x2="1338" y2="913.2" stroke="#111" stroke-width="1.4"/>
<line x1="1339" y1="910" x2="1339" y2="913.2" stroke="#111" stroke-width="1.4"/>
<line x1="1340.6" y1="910" x2="1340.6" y2="913.2" stroke="#111" stroke-width="1.4"/>
<line x1="1342.3" y1="910" x2="1342.3" y2="913.2" stroke="#111" stroke-width="1.4"/>
<line x1="1344.2" y1="910" x2="1344.2" y2="913.2" stroke="#111" stroke-width="1.4"/>
<line x1="1346.5" y1="910" x2="1346.5" y2="913.2" stroke="#111" stroke-width="1.4"/>
<line x1="1349.1" y1="910" x2="1349.1" y2="913.2" stroke="#111" stroke-width="1.4"/>
<line x1="1352.1" y1="910" x2="1352.1" y2="913.2" stroke="#111" stroke-width="1.4"/>
<line x1="1357" y1="910" x2="1357" y2="913.2" stroke="#111" stroke-width="1.4"/>
<line x1="1363.5" y1="910" x2="1363.5" y2="913.2" stroke="#111" stroke-width="1.4"/>
<line x1="1386.4" y1="910" x2="1386.4" y2="913.2" stroke="#111" stroke-width="1.4"/>
<line x1="1399.4" y1="910" x2="1399.4" y2="913.2" stroke="#111" stroke-width="1.4"/>
<line x1="1408.6" y1="910" x2="1408.6" y2="913.2" stroke="#111" stroke-width="1.4"/>
<line x1="1415.7" y1="910" x2="1415.7" y2="913.2" stroke="#111" stroke-width="1.4"/>
<line x1="1422.9" y1="910" x2="1422.9" y2="915.5" stroke="#111" stroke-width="1.4"/>
<line x1="1440.2" y1="910" x2="1440.2" y2="913.2" stroke="#111" stroke-width="1.4"/>
<line x1="1450.7" y1="910" x2="1450.7" y2="913.2" stroke="#111" stroke-width="1.4"/>
<line x1="1458.2" y1="910" x2="1458.2" y2="913.2" stroke="#111" stroke-width="1.4"/>
<line x1="1463.7" y1="910" x2="1463.7" y2="913.2" stroke="#111" stroke-width="1.4"/>
<line x1="1468.6" y1="910" x2="1468.6" y2="913.2" stroke="#111" stroke-width="1.4"/>
<line x1="1472.6" y1="910" x2="1472.6" y2="913.2" stroke="#111" stroke-width="1.4"/>
<line x1="1475.8" y1="910" x2="1475.8" y2="913.2" stroke="#111" stroke-width="1.4"/>
<line x1="1478.8" y1="910" x2="1478.8" y2="913.2" stroke="#111" stroke-width="1.4"/>
<line x1="1481.1" y1="910" x2="1481.1" y2="915.5" stroke="#111" stroke-width="1.4"/>
<line x1="1498.4" y1="910" x2="1498.4" y2="913.2" stroke="#111" stroke-width="1.4"/>
<line x1="1508.8" y1="910" x2="1508.8" y2="913.2" stroke="#111" stroke-width="1.4"/>
<line x1="1516" y1="910" x2="1516" y2="913.2" stroke="#111" stroke-width="1.4"/>
<line x1="1521.9" y1="910" x2="1521.9" y2="913.2" stroke="#111" stroke-width="1.4"/>
<line x1="1526.8" y1="910" x2="1526.8" y2="913.2" stroke="#111" stroke-width="1.4"/>
<line x1="1530.7" y1="910" x2="1530.7" y2="913.2" stroke="#111" stroke-width="1.4"/>
<line x1="1533.9" y1="910" x2="1533.9" y2="913.2" stroke="#111" stroke-width="1.4"/>
<line x1="1537.2" y1="910" x2="1537.2" y2="913.2" stroke="#111" stroke-width="1.4"/>
<line x1="1539.8" y1="910" x2="1539.8" y2="915.5" stroke="#111" stroke-width="1.4"/>
<text x="1030.5" y="676.6" font-size="12.5" text-anchor="end" stroke="#111" stroke-width="0.35">10<tspan dy="-4.8" font-size="9.5">5</tspan></text>
<text x="1030.5" y="734.4" font-size="12.5" text-anchor="end" stroke="#111" stroke-width="0.35">10<tspan dy="-4.8" font-size="9.5">4</tspan></text>
<text x="1030.5" y="796.8" font-size="12.5" text-anchor="end" stroke="#111" stroke-width="0.35">10<tspan dy="-4.8" font-size="9.5">3</tspan></text>
<text x="1024.5" y="862.9" font-size="12.5" text-anchor="end" stroke="#111" stroke-width="0.35">0</text>
<line x1="1031.8" y1="670.6" x2="1037.3" y2="670.6" stroke="#111" stroke-width="1.4"/>
<line x1="1034.1" y1="688.6" x2="1037.3" y2="688.6" stroke="#111" stroke-width="1.4"/>
<line x1="1034.1" y1="699" x2="1037.3" y2="699" stroke="#111" stroke-width="1.4"/>
<line x1="1034.1" y1="706.5" x2="1037.3" y2="706.5" stroke="#111" stroke-width="1.4"/>
<line x1="1034.1" y1="712.4" x2="1037.3" y2="712.4" stroke="#111" stroke-width="1.4"/>
<line x1="1034.1" y1="717" x2="1037.3" y2="717" stroke="#111" stroke-width="1.4"/>
<line x1="1034.1" y1="721.2" x2="1037.3" y2="721.2" stroke="#111" stroke-width="1.4"/>
<line x1="1034.1" y1="724.8" x2="1037.3" y2="724.8" stroke="#111" stroke-width="1.4"/>
<line x1="1031.8" y1="728.4" x2="1037.3" y2="728.4" stroke="#111" stroke-width="1.4"/>
<line x1="1034.1" y1="746.4" x2="1037.3" y2="746.4" stroke="#111" stroke-width="1.4"/>
<line x1="1034.1" y1="757.1" x2="1037.3" y2="757.1" stroke="#111" stroke-width="1.4"/>
<line x1="1034.1" y1="764.7" x2="1037.3" y2="764.7" stroke="#111" stroke-width="1.4"/>
<line x1="1034.1" y1="770.2" x2="1037.3" y2="770.2" stroke="#111" stroke-width="1.4"/>
<line x1="1034.1" y1="775.1" x2="1037.3" y2="775.1" stroke="#111" stroke-width="1.4"/>
<line x1="1034.1" y1="779" x2="1037.3" y2="779" stroke="#111" stroke-width="1.4"/>
<line x1="1034.1" y1="782.3" x2="1037.3" y2="782.3" stroke="#111" stroke-width="1.4"/>
<line x1="1034.1" y1="785.6" x2="1037.3" y2="785.6" stroke="#111" stroke-width="1.4"/>
<line x1="1031.8" y1="790.8" x2="1037.3" y2="790.8" stroke="#111" stroke-width="1.4"/>
<line x1="1034.1" y1="807.8" x2="1037.3" y2="807.8" stroke="#111" stroke-width="1.4"/>
<line x1="1034.1" y1="817.6" x2="1037.3" y2="817.6" stroke="#111" stroke-width="1.4"/>
<line x1="1034.1" y1="827.3" x2="1037.3" y2="827.3" stroke="#111" stroke-width="1.4"/>
<line x1="1034.1" y1="835.5" x2="1037.3" y2="835.5" stroke="#111" stroke-width="1.4"/>
<line x1="1034.1" y1="840.4" x2="1037.3" y2="840.4" stroke="#111" stroke-width="1.4"/>
<line x1="1034.1" y1="843.7" x2="1037.3" y2="843.7" stroke="#111" stroke-width="1.4"/>
<line x1="1034.1" y1="846.3" x2="1037.3" y2="846.3" stroke="#111" stroke-width="1.4"/>
<line x1="1034.1" y1="848.6" x2="1037.3" y2="848.6" stroke="#111" stroke-width="1.4"/>
<line x1="1034.1" y1="850.9" x2="1037.3" y2="850.9" stroke="#111" stroke-width="1.4"/>
<line x1="1034.1" y1="852.8" x2="1037.3" y2="852.8" stroke="#111" stroke-width="1.4"/>
<line x1="1034.1" y1="854.8" x2="1037.3" y2="854.8" stroke="#111" stroke-width="1.4"/>
<line x1="1034.1" y1="856.7" x2="1037.3" y2="856.7" stroke="#111" stroke-width="1.4"/>
<line x1="1031.8" y1="858.4" x2="1037.3" y2="858.4" stroke="#111" stroke-width="1.4"/>
<line x1="1034.1" y1="860" x2="1037.3" y2="860" stroke="#111" stroke-width="1.4"/>
<line x1="1034.1" y1="862" x2="1037.3" y2="862" stroke="#111" stroke-width="1.4"/>
<line x1="1034.1" y1="863.9" x2="1037.3" y2="863.9" stroke="#111" stroke-width="1.4"/>
<line x1="1034.1" y1="865.9" x2="1037.3" y2="865.9" stroke="#111" stroke-width="1.4"/>
<line x1="1034.1" y1="868.2" x2="1037.3" y2="868.2" stroke="#111" stroke-width="1.4"/>
<line x1="1034.1" y1="870.4" x2="1037.3" y2="870.4" stroke="#111" stroke-width="1.4"/>
<line x1="1034.1" y1="873.1" x2="1037.3" y2="873.1" stroke="#111" stroke-width="1.4"/>
<line x1="1034.1" y1="877" x2="1037.3" y2="877" stroke="#111" stroke-width="1.4"/>
<line x1="1034.1" y1="881.2" x2="1037.3" y2="881.2" stroke="#111" stroke-width="1.4"/>
<line x1="1034.1" y1="894.3" x2="1037.3" y2="894.3" stroke="#111" stroke-width="1.4"/>
<line x1="1034.1" y1="905.7" x2="1037.3" y2="905.7" stroke="#111" stroke-width="1.4"/>
<line x1="1295.3" y1="670.6" x2="1300.8" y2="670.6" stroke="#111" stroke-width="1.4"/>
<line x1="1297.6" y1="688.6" x2="1300.8" y2="688.6" stroke="#111" stroke-width="1.4"/>
<line x1="1297.6" y1="699" x2="1300.8" y2="699" stroke="#111" stroke-width="1.4"/>
<line x1="1297.6" y1="706.5" x2="1300.8" y2="706.5" stroke="#111" stroke-width="1.4"/>
<line x1="1297.6" y1="712.4" x2="1300.8" y2="712.4" stroke="#111" stroke-width="1.4"/>
<line x1="1297.6" y1="717" x2="1300.8" y2="717" stroke="#111" stroke-width="1.4"/>
<line x1="1297.6" y1="721.2" x2="1300.8" y2="721.2" stroke="#111" stroke-width="1.4"/>
<line x1="1297.6" y1="724.8" x2="1300.8" y2="724.8" stroke="#111" stroke-width="1.4"/>
<line x1="1295.3" y1="728.4" x2="1300.8" y2="728.4" stroke="#111" stroke-width="1.4"/>
<line x1="1297.6" y1="746.4" x2="1300.8" y2="746.4" stroke="#111" stroke-width="1.4"/>
<line x1="1297.6" y1="757.1" x2="1300.8" y2="757.1" stroke="#111" stroke-width="1.4"/>
<line x1="1297.6" y1="764.7" x2="1300.8" y2="764.7" stroke="#111" stroke-width="1.4"/>
<line x1="1297.6" y1="770.2" x2="1300.8" y2="770.2" stroke="#111" stroke-width="1.4"/>
<line x1="1297.6" y1="775.1" x2="1300.8" y2="775.1" stroke="#111" stroke-width="1.4"/>
<line x1="1297.6" y1="779" x2="1300.8" y2="779" stroke="#111" stroke-width="1.4"/>
<line x1="1297.6" y1="782.3" x2="1300.8" y2="782.3" stroke="#111" stroke-width="1.4"/>
<line x1="1297.6" y1="785.6" x2="1300.8" y2="785.6" stroke="#111" stroke-width="1.4"/>
<line x1="1295.3" y1="790.8" x2="1300.8" y2="790.8" stroke="#111" stroke-width="1.4"/>
<line x1="1297.6" y1="807.8" x2="1300.8" y2="807.8" stroke="#111" stroke-width="1.4"/>
<line x1="1297.6" y1="817.6" x2="1300.8" y2="817.6" stroke="#111" stroke-width="1.4"/>
<line x1="1297.6" y1="827.3" x2="1300.8" y2="827.3" stroke="#111" stroke-width="1.4"/>
<line x1="1297.6" y1="835.5" x2="1300.8" y2="835.5" stroke="#111" stroke-width="1.4"/>
<line x1="1297.6" y1="840.4" x2="1300.8" y2="840.4" stroke="#111" stroke-width="1.4"/>
<line x1="1297.6" y1="843.7" x2="1300.8" y2="843.7" stroke="#111" stroke-width="1.4"/>
<line x1="1297.6" y1="846.3" x2="1300.8" y2="846.3" stroke="#111" stroke-width="1.4"/>
<line x1="1297.6" y1="848.6" x2="1300.8" y2="848.6" stroke="#111" stroke-width="1.4"/>
<line x1="1297.6" y1="850.9" x2="1300.8" y2="850.9" stroke="#111" stroke-width="1.4"/>
<line x1="1297.6" y1="852.8" x2="1300.8" y2="852.8" stroke="#111" stroke-width="1.4"/>
<line x1="1297.6" y1="854.8" x2="1300.8" y2="854.8" stroke="#111" stroke-width="1.4"/>
<line x1="1297.6" y1="856.7" x2="1300.8" y2="856.7" stroke="#111" stroke-width="1.4"/>
<line x1="1295.3" y1="858.4" x2="1300.8" y2="858.4" stroke="#111" stroke-width="1.4"/>
<line x1="1297.6" y1="860" x2="1300.8" y2="860" stroke="#111" stroke-width="1.4"/>
<line x1="1297.6" y1="862" x2="1300.8" y2="862" stroke="#111" stroke-width="1.4"/>
<line x1="1297.6" y1="863.9" x2="1300.8" y2="863.9" stroke="#111" stroke-width="1.4"/>
<line x1="1297.6" y1="865.9" x2="1300.8" y2="865.9" stroke="#111" stroke-width="1.4"/>
<line x1="1297.6" y1="868.2" x2="1300.8" y2="868.2" stroke="#111" stroke-width="1.4"/>
<line x1="1297.6" y1="870.4" x2="1300.8" y2="870.4" stroke="#111" stroke-width="1.4"/>
<line x1="1297.6" y1="873.1" x2="1300.8" y2="873.1" stroke="#111" stroke-width="1.4"/>
<line x1="1297.6" y1="877" x2="1300.8" y2="877" stroke="#111" stroke-width="1.4"/>
<line x1="1297.6" y1="881.2" x2="1300.8" y2="881.2" stroke="#111" stroke-width="1.4"/>
<line x1="1297.6" y1="894.3" x2="1300.8" y2="894.3" stroke="#111" stroke-width="1.4"/>
<line x1="1297.6" y1="905.7" x2="1300.8" y2="905.7" stroke="#111" stroke-width="1.4"/>
<rect x="1067.5" y="910" width="7" height="4" fill="#111"/>
<rect x="1031.8" y="855.2" width="5.5" height="5.2" fill="#111"/>
<rect x="1331" y="910" width="7" height="4" fill="#111"/>
<rect x="1295.3" y="855.2" width="5.5" height="5.2" fill="#111"/>
<text x="997" y="754.7" font-size="33" text-anchor="middle" transform="rotate(-90 997 754.7)">IL-17A-BV650</text>
<line x1="983.9" y1="966" x2="983.9" y2="882.5" stroke="#111" stroke-width="3"/>
<line x1="982.4" y1="964.5" x2="1068" y2="964.5" stroke="#111" stroke-width="3"/>
<path d="M978 887.5 L983.9 880 L989.8 887.5" fill="none" stroke="#111" stroke-width="3" stroke-linejoin="miter"/>
<path d="M1064 958.6 L1071.5 964.5 L1064 970.4" fill="none" stroke="#111" stroke-width="3" stroke-linejoin="miter"/>
<text x="1083.8" y="974.3" font-size="33">IFN-<tspan font-family='"Liberation Serif", "Times New Roman", serif' font-size="31">γ</tspan>-AF700</text>
<path d="M1074.1 756.7h2.9v2.9h-2.9zM1078.3 763.2h2.9v2.9h-2.9zM1079.9 768.1h2.9v2.9h-2.9zM1075 785.1h2.9v2.9h-2.9zM1093.7 786.1h2.9v2.9h-2.9zM1067.5 792.3h2.9v2.9h-2.9zM1081.2 798.1h2.9v2.9h-2.9zM1075.7 805.7h2.9v2.9h-2.9zM1146.5 743.6h2.9v2.9h-2.9zM1158.6 759.6h2.9v2.9h-2.9zM1116.5 857.9h2.9v2.9h-2.9zM1124.7 858.5h2.9v2.9h-2.9zM1129.6 856.9h2.9v2.9h-2.9zM1149.2 859.2h2.9v2.9h-2.9zM1159 857.6h2.9v2.9h-2.9zM1160.6 856.9h2.9v2.9h-2.9zM1167.1 847.8h2.9v2.9h-2.9zM1172.7 860.2h2.9v2.9h-2.9zM1176.3 854.6h2.9v2.9h-2.9zM1185.7 856.9h2.9v2.9h-2.9zM1204.7 844.2h2.9v2.9h-2.9zM1086.1 835h2.9v2.9h-2.9zM1101.8 850.4h2.9v2.9h-2.9zM1108.3 855.3h2.9v2.9h-2.9zM1100.2 853.7h2.9v2.9h-2.9zM1090.4 863.4h2.9v2.9h-2.9zM1079 868.3h2.9v2.9h-2.9zM1064.3 851.4h2.9v2.9h-2.9zM1067.5 853.7h2.9v2.9h-2.9zM1092 861.8h2.9v2.9h-2.9zM1087.1 848.8h2.9v2.9h-2.9zM1088.8 856.9h2.9v2.9h-2.9zM1076.8 856h2.9v2.9h-2.9zM1076.9 852.7h2.9v2.9h-2.9zM1074.6 853.1h2.9v2.9h-2.9zM1081.3 855.6h2.9v2.9h-2.9zM1081 855h2.9v2.9h-2.9zM1078.9 854.7h2.9v2.9h-2.9zM1072.2 857.3h2.9v2.9h-2.9zM1079.3 855.9h2.9v2.9h-2.9zM1072.1 847.1h2.9v2.9h-2.9zM1074.7 852.1h2.9v2.9h-2.9zM1078.6 853.8h2.9v2.9h-2.9zM1079.4 851.5h2.9v2.9h-2.9zM1078.7 855.5h2.9v2.9h-2.9zM1075.5 860.7h2.9v2.9h-2.9zM1079.5 858.7h2.9v2.9h-2.9zM1075.6 851.1h2.9v2.9h-2.9zM1076.5 853.6h2.9v2.9h-2.9zM1079.7 855h2.9v2.9h-2.9zM1076.2 850.2h2.9v2.9h-2.9zM1076 858.8h2.9v2.9h-2.9zM1075 854.9h2.9v2.9h-2.9zM1079 848.1h2.9v2.9h-2.9zM1077.8 859.1h2.9v2.9h-2.9zM1071.1 852.7h2.9v2.9h-2.9zM1077.3 850.8h2.9v2.9h-2.9zM1079.3 853.7h2.9v2.9h-2.9zM1072.9 857.2h2.9v2.9h-2.9zM1079.8 857.7h2.9v2.9h-2.9zM1082.4 855.4h2.9v2.9h-2.9zM1078 848.9h2.9v2.9h-2.9zM1079.7 851.6h2.9v2.9h-2.9zM1076.2 849h2.9v2.9h-2.9zM1074.5 851.9h2.9v2.9h-2.9zM1081.9 846h2.9v2.9h-2.9zM1072.9 854.9h2.9v2.9h-2.9zM1082.4 856.2h2.9v2.9h-2.9zM1071.4 844.1h2.9v2.9h-2.9zM1078.8 851.1h2.9v2.9h-2.9zM1074 857.8h2.9v2.9h-2.9zM1081.2 854.6h2.9v2.9h-2.9zM1078.5 855.7h2.9v2.9h-2.9zM1082.9 856.4h2.9v2.9h-2.9zM1079.3 856.1h2.9v2.9h-2.9zM1072.5 859h2.9v2.9h-2.9zM1080.8 856.1h2.9v2.9h-2.9zM1071.2 851.5h2.9v2.9h-2.9zM1080.4 846.9h2.9v2.9h-2.9zM1077.1 858h2.9v2.9h-2.9zM1073.4 860.3h2.9v2.9h-2.9zM1079.5 853.4h2.9v2.9h-2.9zM1078.7 856.5h2.9v2.9h-2.9zM1078 858.5h2.9v2.9h-2.9zM1075.5 852.4h2.9v2.9h-2.9zM1081.1 854.1h2.9v2.9h-2.9zM1074.8 857.7h2.9v2.9h-2.9zM1082.4 852.2h2.9v2.9h-2.9zM1073.1 853.5h2.9v2.9h-2.9zM1077.2 852.8h2.9v2.9h-2.9zM1082.2 850h2.9v2.9h-2.9zM1081.8 849h2.9v2.9h-2.9zM1075.1 856.5h2.9v2.9h-2.9zM1081.3 857.3h2.9v2.9h-2.9zM1078.8 854.5h2.9v2.9h-2.9zM1078.1 856.2h2.9v2.9h-2.9zM1077.1 855.1h2.9v2.9h-2.9zM1079.5 854h2.9v2.9h-2.9zM1080.1 856.2h2.9v2.9h-2.9zM1084.2 855.3h2.9v2.9h-2.9zM1076.3 852.5h2.9v2.9h-2.9zM1077.6 857.6h2.9v2.9h-2.9zM1076.6 855.5h2.9v2.9h-2.9zM1083.7 843.9h2.9v2.9h-2.9zM1074 854.9h2.9v2.9h-2.9zM1079 854.9h2.9v2.9h-2.9zM1076.2 856.5h2.9v2.9h-2.9zM1078.6 851.9h2.9v2.9h-2.9zM1085.6 855.4h2.9v2.9h-2.9zM1075.8 853.6h2.9v2.9h-2.9zM1076.9 853.7h2.9v2.9h-2.9zM1068.7 852.1h2.9v2.9h-2.9zM1080.9 849.4h2.9v2.9h-2.9zM1077.4 857.7h2.9v2.9h-2.9zM1080.4 859.8h2.9v2.9h-2.9zM1072.1 852.6h2.9v2.9h-2.9zM1076.5 856.4h2.9v2.9h-2.9zM1081.2 843.5h2.9v2.9h-2.9zM1081.2 848.3h2.9v2.9h-2.9zM1079.9 848.1h2.9v2.9h-2.9zM1078.2 858.7h2.9v2.9h-2.9zM1077.2 854.7h2.9v2.9h-2.9zM1080.3 854.5h2.9v2.9h-2.9zM1077.4 860h2.9v2.9h-2.9zM1081.1 852.8h2.9v2.9h-2.9zM1086.6 849.5h2.9v2.9h-2.9zM1080.6 852.9h2.9v2.9h-2.9zM1078.1 856.7h2.9v2.9h-2.9zM1078.4 856.5h2.9v2.9h-2.9zM1072.7 848.1h2.9v2.9h-2.9zM1079.7 850.2h2.9v2.9h-2.9zM1074.3 848.2h2.9v2.9h-2.9zM1081.8 856.9h2.9v2.9h-2.9zM1082.5 850.3h2.9v2.9h-2.9zM1077.7 849.5h2.9v2.9h-2.9zM1080.2 860.2h2.9v2.9h-2.9zM1074.7 860.1h2.9v2.9h-2.9zM1080.9 853.3h2.9v2.9h-2.9zM1071.2 859.5h2.9v2.9h-2.9zM1077.3 851.6h2.9v2.9h-2.9zM1079 855.6h2.9v2.9h-2.9zM1082.5 850h2.9v2.9h-2.9zM1081.4 859.8h2.9v2.9h-2.9zM1082.4 853.3h2.9v2.9h-2.9zM1075.2 858h2.9v2.9h-2.9zM1078 854.5h2.9v2.9h-2.9zM1082.3 852.9h2.9v2.9h-2.9zM1070.2 852.5h2.9v2.9h-2.9zM1071.6 857.2h2.9v2.9h-2.9zM1078.7 851.6h2.9v2.9h-2.9zM1077.6 857.2h2.9v2.9h-2.9zM1077.9 859.2h2.9v2.9h-2.9zM1077.5 858.1h2.9v2.9h-2.9zM1082.5 860.3h2.9v2.9h-2.9zM1075.5 857.4h2.9v2.9h-2.9zM1071.5 849.7h2.9v2.9h-2.9zM1071.2 858.2h2.9v2.9h-2.9zM1073.6 853.9h2.9v2.9h-2.9zM1077 853.9h2.9v2.9h-2.9zM1075.7 854.9h2.9v2.9h-2.9zM1083.5 854.2h2.9v2.9h-2.9zM1079.4 857.9h2.9v2.9h-2.9zM1077 849h2.9v2.9h-2.9zM1075.8 858.2h2.9v2.9h-2.9zM1072.3 851.6h2.9v2.9h-2.9zM1080.9 857.1h2.9v2.9h-2.9zM1077.7 857.1h2.9v2.9h-2.9zM1078.2 849.4h2.9v2.9h-2.9zM1072.5 851.5h2.9v2.9h-2.9zM1080.7 851.8h2.9v2.9h-2.9zM1074.7 851h2.9v2.9h-2.9zM1072.7 853.5h2.9v2.9h-2.9zM1073.8 855.4h2.9v2.9h-2.9zM1069.9 855.3h2.9v2.9h-2.9zM1075.6 846.4h2.9v2.9h-2.9zM1080 852.9h2.9v2.9h-2.9zM1070.4 850.5h2.9v2.9h-2.9zM1078.6 852.2h2.9v2.9h-2.9zM1080.2 856.9h2.9v2.9h-2.9zM1079.8 855.3h2.9v2.9h-2.9zM1082 856.6h2.9v2.9h-2.9zM1079.1 845.8h2.9v2.9h-2.9zM1080.6 859.1h2.9v2.9h-2.9zM1076.7 852.1h2.9v2.9h-2.9zM1084 847.1h2.9v2.9h-2.9zM1079.2 863.5h2.9v2.9h-2.9zM1074.6 856.7h2.9v2.9h-2.9zM1083.8 853.5h2.9v2.9h-2.9zM1079.5 857.5h2.9v2.9h-2.9zM1074.7 853.6h2.9v2.9h-2.9zM1078.6 857.2h2.9v2.9h-2.9zM1077.5 853.2h2.9v2.9h-2.9zM1074.3 852.6h2.9v2.9h-2.9zM1080.6 854.4h2.9v2.9h-2.9zM1074.9 850.7h2.9v2.9h-2.9zM1086.4 858.4h2.9v2.9h-2.9zM1079.7 843.8h2.9v2.9h-2.9zM1079.7 855.9h2.9v2.9h-2.9zM1083.2 855.7h2.9v2.9h-2.9zM1077.4 856h2.9v2.9h-2.9zM1071.3 858h2.9v2.9h-2.9zM1078.7 851.2h2.9v2.9h-2.9zM1082 861.1h2.9v2.9h-2.9zM1073.1 851.4h2.9v2.9h-2.9zM1078.6 854.7h2.9v2.9h-2.9zM1076.4 850.2h2.9v2.9h-2.9zM1084.6 858h2.9v2.9h-2.9zM1073.8 848.7h2.9v2.9h-2.9zM1083.2 857.9h2.9v2.9h-2.9zM1083.6 857.2h2.9v2.9h-2.9zM1074.8 855h2.9v2.9h-2.9zM1070.6 851h2.9v2.9h-2.9zM1077.5 856h2.9v2.9h-2.9zM1075.3 853.5h2.9v2.9h-2.9zM1079.1 855.5h2.9v2.9h-2.9zM1079.7 854.8h2.9v2.9h-2.9zM1076.6 857.1h2.9v2.9h-2.9zM1077.8 850.7h2.9v2.9h-2.9zM1075.6 854h2.9v2.9h-2.9zM1077.3 854.6h2.9v2.9h-2.9zM1077.7 854.7h2.9v2.9h-2.9zM1077.2 849h2.9v2.9h-2.9zM1079 858.1h2.9v2.9h-2.9zM1079.1 853.2h2.9v2.9h-2.9zM1079.1 850.2h2.9v2.9h-2.9zM1071.5 854.2h2.9v2.9h-2.9zM1074.6 856.9h2.9v2.9h-2.9zM1074.1 843.7h2.9v2.9h-2.9zM1074.3 860.2h2.9v2.9h-2.9zM1076.4 848.6h2.9v2.9h-2.9zM1075.2 856h2.9v2.9h-2.9zM1079.3 854.7h2.9v2.9h-2.9zM1082.5 856.7h2.9v2.9h-2.9zM1077.6 856.3h2.9v2.9h-2.9zM1083.1 857.8h2.9v2.9h-2.9zM1081 849.7h2.9v2.9h-2.9zM1077.2 856.8h2.9v2.9h-2.9zM1076.7 858.2h2.9v2.9h-2.9zM1079.6 857.5h2.9v2.9h-2.9zM1077 864h2.9v2.9h-2.9zM1081.7 853.1h2.9v2.9h-2.9zM1077.9 864.1h2.9v2.9h-2.9z" fill="#141414"/>
<path d="M1328.8 717.5h2.9v2.9h-2.9zM1347.4 726h2.9v2.9h-2.9zM1345.7 737.1h2.9v2.9h-2.9zM1338.5 750.1h2.9v2.9h-2.9zM1332 759h2.9v2.9h-2.9zM1345.1 761.2h2.9v2.9h-2.9zM1328.8 772h2.9v2.9h-2.9zM1334.3 768.8h2.9v2.9h-2.9zM1338.5 767.1h2.9v2.9h-2.9zM1343.4 776.9h2.9v2.9h-2.9zM1337.6 786.1h2.9v2.9h-2.9zM1341.8 804.7h2.9v2.9h-2.9zM1338.5 805.7h2.9v2.9h-2.9zM1364.7 805.7h2.9v2.9h-2.9zM1335.3 815.4h2.9v2.9h-2.9zM1345.1 814.5h2.9v2.9h-2.9zM1336.3 825.9h2.9v2.9h-2.9zM1420.8 723.4h2.9v2.9h-2.9zM1488.8 722.1h2.9v2.9h-2.9zM1491 720.8h2.9v2.9h-2.9zM1411.4 739h2.9v2.9h-2.9zM1427.4 741h2.9v2.9h-2.9zM1417.6 748.5h2.9v2.9h-2.9zM1425.1 745.2h2.9v2.9h-2.9zM1444 742.6h2.9v2.9h-2.9zM1437.5 751.4h2.9v2.9h-2.9zM1463.3 740.3h2.9v2.9h-2.9zM1467.5 736.1h2.9v2.9h-2.9zM1491.4 739.4h2.9v2.9h-2.9zM1495.9 743.3h2.9v2.9h-2.9zM1450.5 758h2.9v2.9h-2.9zM1462.6 760.6h2.9v2.9h-2.9zM1488.8 756.7h2.9v2.9h-2.9zM1489.4 767.1h2.9v2.9h-2.9zM1379.4 780.5h2.9v2.9h-2.9zM1399.9 777.6h2.9v2.9h-2.9zM1404.5 784.1h2.9v2.9h-2.9zM1436.5 782.1h2.9v2.9h-2.9zM1457.1 778.5h2.9v2.9h-2.9zM1486.5 782.1h2.9v2.9h-2.9zM1471.4 797.2h2.9v2.9h-2.9zM1466.5 800.8h2.9v2.9h-2.9zM1469.2 804.7h2.9v2.9h-2.9zM1469.2 808.6h2.9v2.9h-2.9zM1484.5 800.8h2.9v2.9h-2.9zM1511.6 821.7h2.9v2.9h-2.9zM1338.5 883h2.9v2.9h-2.9zM1348.3 886.3h2.9v2.9h-2.9zM1366.3 887.3h2.9v2.9h-2.9zM1364.7 876.5h2.9v2.9h-2.9zM1392.4 883h2.9v2.9h-2.9zM1406.1 876.5h2.9v2.9h-2.9zM1374.5 876.5h2.9v2.9h-2.9zM1331 838.3h2.9v2.9h-2.9zM1400.6 839h2.9v2.9h-2.9zM1416.3 841.2h2.9v2.9h-2.9zM1390.8 844.5h2.9v2.9h-2.9zM1462.6 840.6h2.9v2.9h-2.9zM1465.9 840.6h2.9v2.9h-2.9zM1483.9 834.7h2.9v2.9h-2.9zM1480.6 842.2h2.9v2.9h-2.9zM1500.2 840.6h2.9v2.9h-2.9zM1518.1 847.1h2.9v2.9h-2.9zM1493.7 842.2h2.9v2.9h-2.9zM1447.9 878.1h2.9v2.9h-2.9zM1487.1 878.1h2.9v2.9h-2.9zM1500.2 876.5h2.9v2.9h-2.9zM1336.3 866.5h2.9v2.9h-2.9zM1343.7 860.6h2.9v2.9h-2.9zM1331.7 861.8h2.9v2.9h-2.9zM1340.2 868.3h2.9v2.9h-2.9zM1342.6 860.7h2.9v2.9h-2.9zM1343 864.2h2.9v2.9h-2.9zM1339.4 860.9h2.9v2.9h-2.9zM1336.9 865.2h2.9v2.9h-2.9zM1332.4 856.2h2.9v2.9h-2.9zM1338.3 850.5h2.9v2.9h-2.9zM1335.8 846.7h2.9v2.9h-2.9zM1334.4 864.4h2.9v2.9h-2.9zM1341.4 860.1h2.9v2.9h-2.9zM1336.9 850.8h2.9v2.9h-2.9zM1348.4 864h2.9v2.9h-2.9zM1344.3 854.5h2.9v2.9h-2.9zM1337.2 848h2.9v2.9h-2.9zM1342.6 866.9h2.9v2.9h-2.9zM1327.7 860.2h2.9v2.9h-2.9zM1341.7 848.4h2.9v2.9h-2.9zM1328.1 853.2h2.9v2.9h-2.9zM1334.7 850.9h2.9v2.9h-2.9zM1338.4 862.2h2.9v2.9h-2.9zM1341.7 865.3h2.9v2.9h-2.9zM1346.6 868.5h2.9v2.9h-2.9zM1330.9 857h2.9v2.9h-2.9zM1332.3 853.1h2.9v2.9h-2.9zM1337.8 860.5h2.9v2.9h-2.9zM1340.9 849.6h2.9v2.9h-2.9zM1331.4 860.4h2.9v2.9h-2.9zM1337.1 858.4h2.9v2.9h-2.9zM1337.9 855.3h2.9v2.9h-2.9zM1342.1 862.9h2.9v2.9h-2.9zM1337.7 855.9h2.9v2.9h-2.9zM1337.3 841.8h2.9v2.9h-2.9zM1332.8 860.8h2.9v2.9h-2.9zM1329.9 861.9h2.9v2.9h-2.9zM1339 851.1h2.9v2.9h-2.9zM1336.8 858.4h2.9v2.9h-2.9zM1340.8 864.7h2.9v2.9h-2.9zM1338 854.7h2.9v2.9h-2.9zM1337.4 860.1h2.9v2.9h-2.9zM1342.3 862.5h2.9v2.9h-2.9zM1334.2 851.2h2.9v2.9h-2.9zM1336.2 855.4h2.9v2.9h-2.9zM1332.1 859.7h2.9v2.9h-2.9zM1335.5 861.2h2.9v2.9h-2.9zM1341.1 857.7h2.9v2.9h-2.9zM1351.1 858.3h2.9v2.9h-2.9zM1344.3 861.3h2.9v2.9h-2.9zM1344.4 844.2h2.9v2.9h-2.9zM1334.1 862.2h2.9v2.9h-2.9zM1341.6 876.5h2.9v2.9h-2.9zM1340 869.3h2.9v2.9h-2.9zM1342.5 867h2.9v2.9h-2.9zM1341.1 859.4h2.9v2.9h-2.9zM1341 853.1h2.9v2.9h-2.9zM1344.8 853.5h2.9v2.9h-2.9zM1339.6 875.1h2.9v2.9h-2.9zM1337 860.6h2.9v2.9h-2.9zM1344.7 860.7h2.9v2.9h-2.9zM1333.7 862.3h2.9v2.9h-2.9zM1341.5 865.4h2.9v2.9h-2.9zM1333.9 872.5h2.9v2.9h-2.9zM1347.5 860.6h2.9v2.9h-2.9zM1339.7 857.6h2.9v2.9h-2.9zM1346.1 855.7h2.9v2.9h-2.9zM1342 857.2h2.9v2.9h-2.9zM1334.4 865.4h2.9v2.9h-2.9zM1345.6 860.4h2.9v2.9h-2.9zM1334.5 866.1h2.9v2.9h-2.9zM1337.9 862.6h2.9v2.9h-2.9zM1346.7 868.3h2.9v2.9h-2.9zM1335.3 876.2h2.9v2.9h-2.9zM1338.2 865.9h2.9v2.9h-2.9zM1334.6 860.2h2.9v2.9h-2.9zM1328.5 872.8h2.9v2.9h-2.9zM1345.8 852.2h2.9v2.9h-2.9zM1329.9 849.4h2.9v2.9h-2.9zM1344.8 857.4h2.9v2.9h-2.9zM1337.9 858.4h2.9v2.9h-2.9zM1337.6 853h2.9v2.9h-2.9zM1338.4 850.6h2.9v2.9h-2.9zM1337.8 862.6h2.9v2.9h-2.9zM1340.8 858.9h2.9v2.9h-2.9zM1333.2 861.6h2.9v2.9h-2.9zM1335.5 871.2h2.9v2.9h-2.9zM1342.5 859.7h2.9v2.9h-2.9zM1335.6 855.7h2.9v2.9h-2.9zM1333 858.1h2.9v2.9h-2.9zM1339.9 864h2.9v2.9h-2.9zM1341.4 874.9h2.9v2.9h-2.9zM1334.3 860.6h2.9v2.9h-2.9zM1353.7 847.7h2.9v2.9h-2.9zM1335.3 861.7h2.9v2.9h-2.9zM1339.1 863.3h2.9v2.9h-2.9zM1336.9 863h2.9v2.9h-2.9zM1338.5 865.8h2.9v2.9h-2.9zM1327.7 854.4h2.9v2.9h-2.9zM1338.2 853.4h2.9v2.9h-2.9zM1332.4 864.8h2.9v2.9h-2.9zM1334.6 864.9h2.9v2.9h-2.9zM1342.4 862.6h2.9v2.9h-2.9zM1341 859.8h2.9v2.9h-2.9zM1330.4 860.3h2.9v2.9h-2.9zM1340.7 856.9h2.9v2.9h-2.9zM1337.7 865.6h2.9v2.9h-2.9zM1333.3 864.9h2.9v2.9h-2.9zM1348.6 856.7h2.9v2.9h-2.9zM1339 859.5h2.9v2.9h-2.9zM1346.8 862.7h2.9v2.9h-2.9zM1343.2 855.8h2.9v2.9h-2.9zM1338.1 860.4h2.9v2.9h-2.9zM1328.4 870.4h2.9v2.9h-2.9zM1343.2 848.5h2.9v2.9h-2.9zM1342.4 859.6h2.9v2.9h-2.9zM1340.7 863h2.9v2.9h-2.9zM1329.9 859.1h2.9v2.9h-2.9zM1346.5 856.6h2.9v2.9h-2.9zM1332.5 851.2h2.9v2.9h-2.9zM1331.4 862.8h2.9v2.9h-2.9zM1347.6 863.5h2.9v2.9h-2.9zM1339.6 875.8h2.9v2.9h-2.9zM1335.3 855.9h2.9v2.9h-2.9zM1341.2 864.3h2.9v2.9h-2.9zM1332.6 852.5h2.9v2.9h-2.9zM1339.8 862.2h2.9v2.9h-2.9zM1331 859.1h2.9v2.9h-2.9zM1335.2 863.7h2.9v2.9h-2.9zM1337.6 859.9h2.9v2.9h-2.9zM1336.3 867.7h2.9v2.9h-2.9zM1345.9 858h2.9v2.9h-2.9zM1342.9 855.3h2.9v2.9h-2.9zM1338.6 865.7h2.9v2.9h-2.9zM1346.6 857.9h2.9v2.9h-2.9zM1337.8 861.9h2.9v2.9h-2.9zM1329.9 860.6h2.9v2.9h-2.9zM1334.5 863.1h2.9v2.9h-2.9zM1332 847h2.9v2.9h-2.9zM1338.4 862.3h2.9v2.9h-2.9zM1335.2 866.6h2.9v2.9h-2.9zM1336.7 856.4h2.9v2.9h-2.9zM1340.9 849.8h2.9v2.9h-2.9zM1334.5 860.4h2.9v2.9h-2.9zM1342.9 859.4h2.9v2.9h-2.9zM1339.9 856h2.9v2.9h-2.9zM1339.9 871.9h2.9v2.9h-2.9zM1334.4 876.7h2.9v2.9h-2.9zM1334.6 860.6h2.9v2.9h-2.9zM1339.2 867.5h2.9v2.9h-2.9zM1331.4 846.1h2.9v2.9h-2.9zM1341.6 866h2.9v2.9h-2.9zM1341.7 878.5h2.9v2.9h-2.9zM1339.4 862.3h2.9v2.9h-2.9zM1343.4 863h2.9v2.9h-2.9zM1347.5 852h2.9v2.9h-2.9zM1336.1 836.9h2.9v2.9h-2.9zM1342.7 858h2.9v2.9h-2.9zM1343.4 875.3h2.9v2.9h-2.9zM1338.2 858.8h2.9v2.9h-2.9zM1335.5 854.8h2.9v2.9h-2.9zM1334.7 864.9h2.9v2.9h-2.9zM1338.4 861h2.9v2.9h-2.9zM1337.3 866.8h2.9v2.9h-2.9zM1341 859.5h2.9v2.9h-2.9zM1341.9 859.5h2.9v2.9h-2.9zM1331.8 870.5h2.9v2.9h-2.9zM1340.8 853.9h2.9v2.9h-2.9zM1344.2 862.9h2.9v2.9h-2.9zM1329.5 871.5h2.9v2.9h-2.9zM1340.1 866.6h2.9v2.9h-2.9zM1339.3 859.5h2.9v2.9h-2.9zM1329.6 867.2h2.9v2.9h-2.9zM1338.4 858.5h2.9v2.9h-2.9zM1340.2 861h2.9v2.9h-2.9zM1342 858h2.9v2.9h-2.9zM1338 845.8h2.9v2.9h-2.9zM1335.9 865.1h2.9v2.9h-2.9zM1345.6 858h2.9v2.9h-2.9zM1337.5 871.4h2.9v2.9h-2.9zM1336.4 865.5h2.9v2.9h-2.9zM1347.5 860.8h2.9v2.9h-2.9zM1345 855.6h2.9v2.9h-2.9zM1339.4 860h2.9v2.9h-2.9zM1338.9 868.3h2.9v2.9h-2.9zM1351.5 855.9h2.9v2.9h-2.9zM1335 863.9h2.9v2.9h-2.9zM1332.4 863.9h2.9v2.9h-2.9zM1341.4 858.6h2.9v2.9h-2.9zM1341.2 849.9h2.9v2.9h-2.9zM1342.4 849.9h2.9v2.9h-2.9zM1334.4 856.7h2.9v2.9h-2.9zM1336 866.4h2.9v2.9h-2.9zM1338.7 857.8h2.9v2.9h-2.9zM1341.2 871.4h2.9v2.9h-2.9zM1338.3 863h2.9v2.9h-2.9zM1345.1 862.3h2.9v2.9h-2.9zM1331.1 877.6h2.9v2.9h-2.9zM1350.5 846.9h2.9v2.9h-2.9zM1338 863.4h2.9v2.9h-2.9zM1343.6 865.1h2.9v2.9h-2.9zM1336.7 853.3h2.9v2.9h-2.9zM1338.8 867.6h2.9v2.9h-2.9zM1332.2 853.5h2.9v2.9h-2.9zM1338.1 847.2h2.9v2.9h-2.9zM1336.8 857.5h2.9v2.9h-2.9zM1340.7 855.7h2.9v2.9h-2.9zM1333.3 857.8h2.9v2.9h-2.9zM1337.9 856h2.9v2.9h-2.9zM1338.3 865.7h2.9v2.9h-2.9zM1344.8 872.2h2.9v2.9h-2.9zM1333.9 857.6h2.9v2.9h-2.9zM1324.4 873.5h2.9v2.9h-2.9zM1334.2 860.3h2.9v2.9h-2.9zM1341.1 851.2h2.9v2.9h-2.9zM1340.8 860.3h2.9v2.9h-2.9zM1328.1 862.5h2.9v2.9h-2.9zM1344.9 847.7h2.9v2.9h-2.9zM1342.7 861.9h2.9v2.9h-2.9zM1340.9 863.5h2.9v2.9h-2.9zM1345.5 859h2.9v2.9h-2.9zM1343.1 857.7h2.9v2.9h-2.9zM1342.3 854.9h2.9v2.9h-2.9zM1337.6 872.4h2.9v2.9h-2.9zM1340.7 859.4h2.9v2.9h-2.9zM1331.9 855.1h2.9v2.9h-2.9zM1339.3 867h2.9v2.9h-2.9zM1340.6 864.1h2.9v2.9h-2.9zM1338 869.8h2.9v2.9h-2.9zM1336.1 856.7h2.9v2.9h-2.9zM1343.2 860.9h2.9v2.9h-2.9zM1336.7 856.6h2.9v2.9h-2.9zM1336.8 864.8h2.9v2.9h-2.9zM1340.2 852.2h2.9v2.9h-2.9zM1340.6 861.7h2.9v2.9h-2.9zM1332.7 865.8h2.9v2.9h-2.9zM1336.7 858.2h2.9v2.9h-2.9zM1342.6 869.6h2.9v2.9h-2.9zM1334.4 863.5h2.9v2.9h-2.9zM1333.4 876.4h2.9v2.9h-2.9zM1335.5 868.7h2.9v2.9h-2.9zM1334.6 866.1h2.9v2.9h-2.9zM1350.5 843.1h2.9v2.9h-2.9zM1335.8 863.9h2.9v2.9h-2.9zM1337.7 855.9h2.9v2.9h-2.9zM1350.2 861.1h2.9v2.9h-2.9zM1329.1 866.4h2.9v2.9h-2.9zM1328.7 868.4h2.9v2.9h-2.9zM1335 861.5h2.9v2.9h-2.9zM1345.2 861.3h2.9v2.9h-2.9zM1330.5 848.9h2.9v2.9h-2.9zM1344.8 865.6h2.9v2.9h-2.9zM1333.7 866.4h2.9v2.9h-2.9zM1341 865h2.9v2.9h-2.9zM1325.7 858.4h2.9v2.9h-2.9zM1343.2 865.5h2.9v2.9h-2.9zM1343.1 843.7h2.9v2.9h-2.9zM1339.2 863.9h2.9v2.9h-2.9zM1352.4 854h2.9v2.9h-2.9zM1336.4 860.8h2.9v2.9h-2.9zM1343.1 857.5h2.9v2.9h-2.9zM1344.6 855.1h2.9v2.9h-2.9zM1339.7 856.9h2.9v2.9h-2.9zM1339.1 855.8h2.9v2.9h-2.9zM1329.4 868h2.9v2.9h-2.9zM1339.9 856.7h2.9v2.9h-2.9zM1339.3 867.3h2.9v2.9h-2.9zM1332.8 859.8h2.9v2.9h-2.9zM1341.2 864.1h2.9v2.9h-2.9zM1336.4 846.1h2.9v2.9h-2.9zM1345.1 862.8h2.9v2.9h-2.9zM1338.3 858.6h2.9v2.9h-2.9zM1339.7 857.6h2.9v2.9h-2.9zM1332.5 855.4h2.9v2.9h-2.9zM1334.9 856.3h2.9v2.9h-2.9zM1331.8 864.9h2.9v2.9h-2.9zM1331 865h2.9v2.9h-2.9zM1332.6 862.9h2.9v2.9h-2.9zM1345.9 861.9h2.9v2.9h-2.9zM1334.2 860.8h2.9v2.9h-2.9zM1339 848.6h2.9v2.9h-2.9zM1334.9 861.6h2.9v2.9h-2.9zM1335.6 861.1h2.9v2.9h-2.9zM1342.3 865.8h2.9v2.9h-2.9zM1343.3 864.5h2.9v2.9h-2.9zM1336.6 860.4h2.9v2.9h-2.9zM1336.7 858.4h2.9v2.9h-2.9zM1337.2 848.7h2.9v2.9h-2.9zM1336.4 860.3h2.9v2.9h-2.9zM1332.8 860.3h2.9v2.9h-2.9zM1341.1 859.4h2.9v2.9h-2.9zM1349.8 842.6h2.9v2.9h-2.9zM1337.1 848h2.9v2.9h-2.9zM1343.7 878.7h2.9v2.9h-2.9zM1324.3 861.4h2.9v2.9h-2.9zM1341.1 858.4h2.9v2.9h-2.9zM1341.3 845.1h2.9v2.9h-2.9zM1343 863.1h2.9v2.9h-2.9zM1338.4 856.5h2.9v2.9h-2.9zM1341.8 857.2h2.9v2.9h-2.9zM1339.5 857h2.9v2.9h-2.9zM1325.8 860.3h2.9v2.9h-2.9zM1339.3 865.7h2.9v2.9h-2.9zM1333.4 860.3h2.9v2.9h-2.9zM1341.6 861.5h2.9v2.9h-2.9zM1345.1 874.2h2.9v2.9h-2.9zM1333.2 847.3h2.9v2.9h-2.9zM1343 871h2.9v2.9h-2.9zM1343.3 866.1h2.9v2.9h-2.9zM1334.8 855.6h2.9v2.9h-2.9zM1343.2 854.3h2.9v2.9h-2.9zM1328.2 853.7h2.9v2.9h-2.9zM1352.1 873.7h2.9v2.9h-2.9zM1334.4 855.5h2.9v2.9h-2.9zM1339.5 855.4h2.9v2.9h-2.9zM1345.5 860h2.9v2.9h-2.9zM1332.2 869.5h2.9v2.9h-2.9zM1335 862h2.9v2.9h-2.9zM1338.2 858.4h2.9v2.9h-2.9zM1340 855.8h2.9v2.9h-2.9zM1328 845.4h2.9v2.9h-2.9zM1331.2 855.3h2.9v2.9h-2.9zM1338.1 860.9h2.9v2.9h-2.9zM1341.3 861.3h2.9v2.9h-2.9zM1333.8 855.6h2.9v2.9h-2.9zM1326.5 859.3h2.9v2.9h-2.9zM1340.9 864.1h2.9v2.9h-2.9zM1337.5 859.3h2.9v2.9h-2.9zM1343.4 860.6h2.9v2.9h-2.9zM1342.3 864.5h2.9v2.9h-2.9zM1339.4 869.5h2.9v2.9h-2.9zM1335 858h2.9v2.9h-2.9zM1333.7 855h2.9v2.9h-2.9zM1346.9 872.6h2.9v2.9h-2.9zM1338.4 864.4h2.9v2.9h-2.9zM1344.7 866h2.9v2.9h-2.9zM1344.9 851.8h2.9v2.9h-2.9zM1334.7 863.6h2.9v2.9h-2.9zM1346.2 861.2h2.9v2.9h-2.9zM1333.5 858.1h2.9v2.9h-2.9zM1334.6 854.6h2.9v2.9h-2.9zM1346.6 856.2h2.9v2.9h-2.9zM1338.3 875.3h2.9v2.9h-2.9zM1344.8 862.8h2.9v2.9h-2.9zM1334.8 863.3h2.9v2.9h-2.9zM1347.2 864.8h2.9v2.9h-2.9zM1345.2 861.2h2.9v2.9h-2.9zM1341.1 859.1h2.9v2.9h-2.9zM1340.6 869.4h2.9v2.9h-2.9zM1330.3 860.1h2.9v2.9h-2.9zM1339.6 856.6h2.9v2.9h-2.9zM1336.5 865.9h2.9v2.9h-2.9zM1349.3 864.8h2.9v2.9h-2.9zM1340 849.9h2.9v2.9h-2.9zM1348.9 861h2.9v2.9h-2.9zM1338 852.8h2.9v2.9h-2.9zM1337.9 853h2.9v2.9h-2.9zM1338.6 863.7h2.9v2.9h-2.9zM1338.4 862.4h2.9v2.9h-2.9zM1333.5 870.3h2.9v2.9h-2.9zM1334.6 848h2.9v2.9h-2.9zM1337.2 855.3h2.9v2.9h-2.9zM1332.6 858.1h2.9v2.9h-2.9zM1339.8 852.4h2.9v2.9h-2.9zM1337.5 870.3h2.9v2.9h-2.9zM1342 859.5h2.9v2.9h-2.9zM1338.9 859.7h2.9v2.9h-2.9zM1338 865.5h2.9v2.9h-2.9zM1337.7 844h2.9v2.9h-2.9zM1338.1 854.4h2.9v2.9h-2.9zM1341.8 856.3h2.9v2.9h-2.9zM1339 875.4h2.9v2.9h-2.9zM1332.4 852.8h2.9v2.9h-2.9zM1330.4 844.1h2.9v2.9h-2.9zM1327.8 863h2.9v2.9h-2.9zM1334.7 847.7h2.9v2.9h-2.9zM1330 864.7h2.9v2.9h-2.9zM1333.9 858h2.9v2.9h-2.9zM1340.1 869.8h2.9v2.9h-2.9zM1349 867.6h2.9v2.9h-2.9zM1385.4 864.4h2.9v2.9h-2.9zM1504.5 862h2.9v2.9h-2.9zM1420.3 862.4h2.9v2.9h-2.9zM1363.5 862.7h2.9v2.9h-2.9zM1472.3 855.1h2.9v2.9h-2.9zM1478.5 854.3h2.9v2.9h-2.9zM1369.1 856.5h2.9v2.9h-2.9zM1489.6 858.3h2.9v2.9h-2.9zM1489.9 863.3h2.9v2.9h-2.9zM1496.4 860h2.9v2.9h-2.9zM1502.6 864.3h2.9v2.9h-2.9zM1396.7 860.5h2.9v2.9h-2.9zM1379 873.2h2.9v2.9h-2.9zM1488.8 864.1h2.9v2.9h-2.9zM1464 865.5h2.9v2.9h-2.9zM1410.8 853.7h2.9v2.9h-2.9zM1376.5 870h2.9v2.9h-2.9zM1396.6 867.5h2.9v2.9h-2.9zM1416.1 860.4h2.9v2.9h-2.9zM1405.6 862.1h2.9v2.9h-2.9zM1410 860.2h2.9v2.9h-2.9zM1416.4 855.7h2.9v2.9h-2.9zM1509.2 849.4h2.9v2.9h-2.9zM1461.8 861.2h2.9v2.9h-2.9zM1360.8 855.8h2.9v2.9h-2.9zM1483.5 864.9h2.9v2.9h-2.9zM1420.6 859.3h2.9v2.9h-2.9zM1398.6 854.1h2.9v2.9h-2.9zM1495.6 871.2h2.9v2.9h-2.9zM1390.3 867.7h2.9v2.9h-2.9zM1351.4 864.6h2.9v2.9h-2.9zM1511 871.5h2.9v2.9h-2.9zM1352.7 854.3h2.9v2.9h-2.9zM1486.8 861.9h2.9v2.9h-2.9zM1392.9 855.8h2.9v2.9h-2.9zM1491.5 861.7h2.9v2.9h-2.9zM1406.3 866.2h2.9v2.9h-2.9zM1398.3 859.7h2.9v2.9h-2.9zM1473.3 858.5h2.9v2.9h-2.9zM1464.4 861.5h2.9v2.9h-2.9zM1372.5 863.8h2.9v2.9h-2.9zM1485.4 852.2h2.9v2.9h-2.9zM1463.2 857.6h2.9v2.9h-2.9zM1428.2 866.4h2.9v2.9h-2.9zM1499.4 872.6h2.9v2.9h-2.9zM1359.2 868.2h2.9v2.9h-2.9zM1396.8 860.4h2.9v2.9h-2.9zM1444.6 874.8h2.9v2.9h-2.9zM1425.8 864.9h2.9v2.9h-2.9zM1438.5 858.5h2.9v2.9h-2.9zM1449.1 861.8h2.9v2.9h-2.9zM1465.8 851.1h2.9v2.9h-2.9zM1420.9 859.8h2.9v2.9h-2.9zM1493.1 864.7h2.9v2.9h-2.9zM1468 861.3h2.9v2.9h-2.9zM1435.1 857.7h2.9v2.9h-2.9zM1483.6 858.7h2.9v2.9h-2.9zM1438.7 860h2.9v2.9h-2.9zM1498.7 861.8h2.9v2.9h-2.9zM1413.2 865.5h2.9v2.9h-2.9zM1473.8 863.5h2.9v2.9h-2.9zM1387.6 858.5h2.9v2.9h-2.9zM1404.1 858h2.9v2.9h-2.9zM1388.5 868.2h2.9v2.9h-2.9zM1417.6 867.8h2.9v2.9h-2.9zM1477.4 877.1h2.9v2.9h-2.9zM1376.9 864.3h2.9v2.9h-2.9zM1426.6 860.8h2.9v2.9h-2.9zM1511.8 864.3h2.9v2.9h-2.9zM1434.5 851.8h2.9v2.9h-2.9zM1395 859.6h2.9v2.9h-2.9zM1396.8 859.2h2.9v2.9h-2.9zM1427.2 867.6h2.9v2.9h-2.9zM1486 862.8h2.9v2.9h-2.9zM1472.4 852.7h2.9v2.9h-2.9zM1438.9 861.5h2.9v2.9h-2.9zM1384.9 856.5h2.9v2.9h-2.9zM1479.1 857.7h2.9v2.9h-2.9zM1501.8 854.2h2.9v2.9h-2.9zM1480.2 864.9h2.9v2.9h-2.9zM1432.4 862.8h2.9v2.9h-2.9zM1498 871.3h2.9v2.9h-2.9zM1483.6 857.7h2.9v2.9h-2.9zM1470.5 849.9h2.9v2.9h-2.9zM1465.1 856.3h2.9v2.9h-2.9zM1463.2 863h2.9v2.9h-2.9zM1376.1 852h2.9v2.9h-2.9zM1475.2 866.7h2.9v2.9h-2.9zM1463.4 861.5h2.9v2.9h-2.9zM1437.6 868h2.9v2.9h-2.9zM1462.2 853.7h2.9v2.9h-2.9zM1504.7 866.5h2.9v2.9h-2.9zM1392.6 855.4h2.9v2.9h-2.9zM1427.3 852.6h2.9v2.9h-2.9zM1442.9 863.2h2.9v2.9h-2.9zM1450.9 861.2h2.9v2.9h-2.9zM1388.5 864.4h2.9v2.9h-2.9zM1447.3 847h2.9v2.9h-2.9zM1376.7 854.6h2.9v2.9h-2.9zM1475.8 858h2.9v2.9h-2.9zM1446.2 854h2.9v2.9h-2.9zM1447.6 852.5h2.9v2.9h-2.9zM1430.7 865.5h2.9v2.9h-2.9zM1471.2 860.1h2.9v2.9h-2.9zM1427.9 861.7h2.9v2.9h-2.9zM1511.9 858.3h2.9v2.9h-2.9zM1422 866.1h2.9v2.9h-2.9zM1429 863.2h2.9v2.9h-2.9zM1355.8 855.8h2.9v2.9h-2.9zM1473.1 864.7h2.9v2.9h-2.9zM1421.5 861.1h2.9v2.9h-2.9zM1479.2 865.9h2.9v2.9h-2.9zM1506 857.2h2.9v2.9h-2.9zM1487.4 860.8h2.9v2.9h-2.9zM1427.8 862.3h2.9v2.9h-2.9zM1484 864.7h2.9v2.9h-2.9zM1488.5 856.8h2.9v2.9h-2.9zM1453.6 856.3h2.9v2.9h-2.9zM1400.3 867.1h2.9v2.9h-2.9zM1464.7 860.2h2.9v2.9h-2.9zM1489.8 864.3h2.9v2.9h-2.9zM1412 855.1h2.9v2.9h-2.9zM1451.6 869.8h2.9v2.9h-2.9zM1421.9 869.8h2.9v2.9h-2.9zM1494.1 860.8h2.9v2.9h-2.9zM1405.1 867.5h2.9v2.9h-2.9zM1433.1 861.7h2.9v2.9h-2.9zM1476.4 861.9h2.9v2.9h-2.9zM1409.8 861.7h2.9v2.9h-2.9zM1441.3 866.7h2.9v2.9h-2.9zM1433.5 855.6h2.9v2.9h-2.9zM1423.1 854.6h2.9v2.9h-2.9zM1504.5 862.8h2.9v2.9h-2.9zM1491 859.8h2.9v2.9h-2.9zM1501.5 862.2h2.9v2.9h-2.9zM1491.5 858.2h2.9v2.9h-2.9zM1463.9 862.4h2.9v2.9h-2.9zM1507.6 861.6h2.9v2.9h-2.9zM1467.1 861.5h2.9v2.9h-2.9zM1385 864.4h2.9v2.9h-2.9zM1401.7 862.4h2.9v2.9h-2.9zM1386.9 855.8h2.9v2.9h-2.9zM1501.2 862.5h2.9v2.9h-2.9zM1499.5 857.9h2.9v2.9h-2.9zM1460.3 863.3h2.9v2.9h-2.9zM1499.9 852.4h2.9v2.9h-2.9zM1485.6 863.7h2.9v2.9h-2.9zM1472.4 858h2.9v2.9h-2.9zM1449 861.2h2.9v2.9h-2.9zM1498.4 854.8h2.9v2.9h-2.9zM1452.6 861.1h2.9v2.9h-2.9zM1384.4 866h2.9v2.9h-2.9zM1443.4 868h2.9v2.9h-2.9zM1385.4 864h2.9v2.9h-2.9zM1443.1 853.8h2.9v2.9h-2.9zM1495.7 861.6h2.9v2.9h-2.9zM1353.6 865.3h2.9v2.9h-2.9zM1453.7 855.6h2.9v2.9h-2.9zM1468.5 864.7h2.9v2.9h-2.9zM1432 856.4h2.9v2.9h-2.9zM1508.7 869.3h2.9v2.9h-2.9zM1464.3 865.5h2.9v2.9h-2.9zM1360.1 854.2h2.9v2.9h-2.9zM1504.9 855.5h2.9v2.9h-2.9zM1418 868.9h2.9v2.9h-2.9zM1442.1 860.6h2.9v2.9h-2.9zM1500.4 871.1h2.9v2.9h-2.9zM1462.8 863.6h2.9v2.9h-2.9zM1419.3 865.3h2.9v2.9h-2.9zM1440.6 857h2.9v2.9h-2.9zM1448.2 862h2.9v2.9h-2.9zM1434.5 857.3h2.9v2.9h-2.9zM1432.6 850.5h2.9v2.9h-2.9zM1411.8 857.6h2.9v2.9h-2.9zM1491 855.4h2.9v2.9h-2.9zM1408.2 865.7h2.9v2.9h-2.9zM1445.4 870.4h2.9v2.9h-2.9zM1486.1 860.1h2.9v2.9h-2.9zM1418 859.3h2.9v2.9h-2.9zM1457.2 866.3h2.9v2.9h-2.9zM1464.1 861.9h2.9v2.9h-2.9zM1476.5 859.8h2.9v2.9h-2.9zM1498.8 859.6h2.9v2.9h-2.9zM1413 860.9h2.9v2.9h-2.9zM1353.4 866.6h2.9v2.9h-2.9zM1460.4 874.5h2.9v2.9h-2.9zM1467.4 864.8h2.9v2.9h-2.9zM1460.8 848.3h2.9v2.9h-2.9zM1461.5 854.8h2.9v2.9h-2.9zM1458.6 854.6h2.9v2.9h-2.9zM1470.7 863.6h2.9v2.9h-2.9zM1438 870.4h2.9v2.9h-2.9zM1482.1 864.6h2.9v2.9h-2.9zM1362.3 863.8h2.9v2.9h-2.9zM1483.7 869.3h2.9v2.9h-2.9zM1424.1 856.8h2.9v2.9h-2.9zM1490.3 863.3h2.9v2.9h-2.9zM1405.9 853.7h2.9v2.9h-2.9zM1413.3 856.7h2.9v2.9h-2.9zM1433.8 864.1h2.9v2.9h-2.9zM1465.1 863.4h2.9v2.9h-2.9zM1454.4 860.6h2.9v2.9h-2.9zM1362.9 869.8h2.9v2.9h-2.9zM1455.5 869.2h2.9v2.9h-2.9zM1503.2 860.5h2.9v2.9h-2.9zM1427 861.8h2.9v2.9h-2.9zM1458 877.6h2.9v2.9h-2.9zM1440.7 854.8h2.9v2.9h-2.9zM1431 868.6h2.9v2.9h-2.9zM1397.9 866.8h2.9v2.9h-2.9zM1386.8 862.1h2.9v2.9h-2.9zM1471.1 861.5h2.9v2.9h-2.9zM1380.9 864.1h2.9v2.9h-2.9zM1496.6 860.9h2.9v2.9h-2.9zM1382.3 871.3h2.9v2.9h-2.9zM1403.2 862.6h2.9v2.9h-2.9zM1478.1 862.3h2.9v2.9h-2.9zM1483.6 863.3h2.9v2.9h-2.9zM1475.3 867.7h2.9v2.9h-2.9zM1373.2 853.6h2.9v2.9h-2.9zM1463.2 859.7h2.9v2.9h-2.9zM1505 854.8h2.9v2.9h-2.9zM1405.2 871.1h2.9v2.9h-2.9zM1355.2 859.3h2.9v2.9h-2.9zM1356.2 854.8h2.9v2.9h-2.9zM1372.2 852.2h2.9v2.9h-2.9zM1414.8 861h2.9v2.9h-2.9zM1495.5 857.8h2.9v2.9h-2.9zM1442.3 867h2.9v2.9h-2.9zM1455.5 863.7h2.9v2.9h-2.9zM1435.1 859.9h2.9v2.9h-2.9zM1486.8 858.4h2.9v2.9h-2.9zM1423.3 856.1h2.9v2.9h-2.9zM1431.9 854.6h2.9v2.9h-2.9zM1426.8 864.9h2.9v2.9h-2.9zM1485.1 846.9h2.9v2.9h-2.9zM1454.3 860.9h2.9v2.9h-2.9zM1510.5 863.6h2.9v2.9h-2.9zM1473.8 864.1h2.9v2.9h-2.9zM1460 856.6h2.9v2.9h-2.9zM1510.9 865.6h2.9v2.9h-2.9zM1414.4 854.2h2.9v2.9h-2.9zM1433.5 866.1h2.9v2.9h-2.9zM1471.2 857.6h2.9v2.9h-2.9zM1459.4 870.4h2.9v2.9h-2.9zM1410.2 854.6h2.9v2.9h-2.9zM1351.6 861h2.9v2.9h-2.9zM1457.2 868h2.9v2.9h-2.9zM1489.4 862.9h2.9v2.9h-2.9zM1491.7 860.3h2.9v2.9h-2.9zM1488.8 866.9h2.9v2.9h-2.9zM1408.6 855.5h2.9v2.9h-2.9zM1494.2 864.8h2.9v2.9h-2.9zM1502.5 852.7h2.9v2.9h-2.9zM1420.6 868.3h2.9v2.9h-2.9zM1486.8 865.5h2.9v2.9h-2.9zM1395.8 861.5h2.9v2.9h-2.9zM1401.7 847.1h2.9v2.9h-2.9zM1460.1 858.4h2.9v2.9h-2.9zM1396.9 855.3h2.9v2.9h-2.9zM1405.3 861.6h2.9v2.9h-2.9zM1438.3 850.5h2.9v2.9h-2.9zM1373.9 865.2h2.9v2.9h-2.9zM1401.5 851.5h2.9v2.9h-2.9zM1456.2 871.8h2.9v2.9h-2.9zM1447.7 853.7h2.9v2.9h-2.9zM1440.9 858.1h2.9v2.9h-2.9zM1394.3 859.4h2.9v2.9h-2.9zM1392.2 859.7h2.9v2.9h-2.9zM1454 855.9h2.9v2.9h-2.9zM1429.5 858h2.9v2.9h-2.9zM1364.2 861.1h2.9v2.9h-2.9zM1513.5 859.4h2.9v2.9h-2.9zM1463.8 863.6h2.9v2.9h-2.9zM1485.5 866.1h2.9v2.9h-2.9zM1420.3 868.4h2.9v2.9h-2.9zM1447.3 863.1h2.9v2.9h-2.9zM1512.6 861.7h2.9v2.9h-2.9zM1496.2 853.5h2.9v2.9h-2.9zM1406.5 862.2h2.9v2.9h-2.9zM1484.4 848.1h2.9v2.9h-2.9zM1482.7 868.2h2.9v2.9h-2.9zM1489.8 866.1h2.9v2.9h-2.9zM1362.5 860.4h2.9v2.9h-2.9zM1395.9 862.6h2.9v2.9h-2.9zM1365.7 863.8h2.9v2.9h-2.9zM1452.9 866.2h2.9v2.9h-2.9zM1507 856.5h2.9v2.9h-2.9zM1502 869.2h2.9v2.9h-2.9zM1428.7 864.8h2.9v2.9h-2.9zM1380.6 866.1h2.9v2.9h-2.9zM1454 860.3h2.9v2.9h-2.9zM1465 870.4h2.9v2.9h-2.9zM1428 859h2.9v2.9h-2.9zM1436.6 870.1h2.9v2.9h-2.9zM1512.8 875.1h2.9v2.9h-2.9zM1399.6 866.1h2.9v2.9h-2.9zM1421.4 862.6h2.9v2.9h-2.9zM1501.1 871.2h2.9v2.9h-2.9zM1364.8 854.8h2.9v2.9h-2.9zM1485.3 859.2h2.9v2.9h-2.9zM1512 852.8h2.9v2.9h-2.9zM1366.8 867.9h2.9v2.9h-2.9zM1505.9 869.7h2.9v2.9h-2.9zM1470.1 859h2.9v2.9h-2.9zM1481.4 869.4h2.9v2.9h-2.9zM1377.6 859.3h2.9v2.9h-2.9zM1381.4 865.8h2.9v2.9h-2.9zM1441.6 863.7h2.9v2.9h-2.9zM1385.1 865.5h2.9v2.9h-2.9zM1470.2 871.3h2.9v2.9h-2.9zM1394.8 862.3h2.9v2.9h-2.9zM1362.1 865.4h2.9v2.9h-2.9zM1505.2 859.6h2.9v2.9h-2.9zM1496.2 864.1h2.9v2.9h-2.9zM1436.4 859.3h2.9v2.9h-2.9zM1375.9 872.2h2.9v2.9h-2.9zM1463.2 856.3h2.9v2.9h-2.9zM1437.2 855.3h2.9v2.9h-2.9zM1441 871.2h2.9v2.9h-2.9zM1463.2 864.2h2.9v2.9h-2.9zM1367.1 864.9h2.9v2.9h-2.9zM1475.3 858.2h2.9v2.9h-2.9zM1496.8 860.3h2.9v2.9h-2.9zM1407.3 858.4h2.9v2.9h-2.9zM1408.1 863.4h2.9v2.9h-2.9zM1492.6 859.6h2.9v2.9h-2.9zM1443.1 864.7h2.9v2.9h-2.9zM1415.9 864h2.9v2.9h-2.9zM1511.1 859.7h2.9v2.9h-2.9zM1367.1 868.8h2.9v2.9h-2.9zM1397.7 855.8h2.9v2.9h-2.9zM1441 860.4h2.9v2.9h-2.9zM1396 866.2h2.9v2.9h-2.9zM1423.4 883.4h2.9v2.9h-2.9zM1504 860.3h2.9v2.9h-2.9zM1376 858.3h2.9v2.9h-2.9zM1367.2 874.3h2.9v2.9h-2.9zM1477.1 856.8h2.9v2.9h-2.9zM1356.6 878.1h2.9v2.9h-2.9zM1488.2 859.6h2.9v2.9h-2.9zM1351.7 864.4h2.9v2.9h-2.9zM1491.6 857.6h2.9v2.9h-2.9zM1434.6 860.8h2.9v2.9h-2.9zM1502.3 863.1h2.9v2.9h-2.9zM1384.1 869.4h2.9v2.9h-2.9zM1392.1 862.7h2.9v2.9h-2.9zM1395.1 851.8h2.9v2.9h-2.9zM1372.1 868.7h2.9v2.9h-2.9zM1443.7 865.9h2.9v2.9h-2.9zM1408.6 863.8h2.9v2.9h-2.9zM1474.5 869.7h2.9v2.9h-2.9zM1488.8 857.9h2.9v2.9h-2.9zM1369.1 859.4h2.9v2.9h-2.9zM1477.9 853.2h2.9v2.9h-2.9zM1366.8 866.9h2.9v2.9h-2.9zM1488.7 855.4h2.9v2.9h-2.9zM1495.9 871.7h2.9v2.9h-2.9zM1443.4 875h2.9v2.9h-2.9zM1440.9 862.8h2.9v2.9h-2.9zM1497 861.1h2.9v2.9h-2.9zM1491.5 865.4h2.9v2.9h-2.9zM1423.9 864.6h2.9v2.9h-2.9zM1458.4 866.6h2.9v2.9h-2.9zM1352.9 854.8h2.9v2.9h-2.9zM1446.7 860.7h2.9v2.9h-2.9zM1380.7 859h2.9v2.9h-2.9zM1496.1 850.3h2.9v2.9h-2.9zM1416.4 860h2.9v2.9h-2.9zM1480.5 855.6h2.9v2.9h-2.9zM1368.1 872.2h2.9v2.9h-2.9zM1443.6 850.5h2.9v2.9h-2.9zM1446.4 853.9h2.9v2.9h-2.9zM1358 860h2.9v2.9h-2.9zM1509.6 862.1h2.9v2.9h-2.9zM1377.1 865.4h2.9v2.9h-2.9zM1404.6 862.1h2.9v2.9h-2.9zM1375.8 860.1h2.9v2.9h-2.9zM1473.2 861.9h2.9v2.9h-2.9zM1459 862.6h2.9v2.9h-2.9zM1455.7 851.9h2.9v2.9h-2.9zM1377.1 860.1h2.9v2.9h-2.9zM1496.6 861.1h2.9v2.9h-2.9zM1381.2 859.6h2.9v2.9h-2.9zM1443.4 856.5h2.9v2.9h-2.9zM1381 861.5h2.9v2.9h-2.9zM1430 866.9h2.9v2.9h-2.9zM1495.5 867.8h2.9v2.9h-2.9zM1385.9 852.3h2.9v2.9h-2.9zM1389.1 856.9h2.9v2.9h-2.9zM1490.7 867.2h2.9v2.9h-2.9zM1432.3 859.1h2.9v2.9h-2.9zM1492.6 855.3h2.9v2.9h-2.9zM1506.2 860.5h2.9v2.9h-2.9zM1484 859.1h2.9v2.9h-2.9zM1418.7 865.4h2.9v2.9h-2.9zM1434.6 872.6h2.9v2.9h-2.9zM1502.4 860.2h2.9v2.9h-2.9zM1489.3 862.7h2.9v2.9h-2.9zM1447 859.8h2.9v2.9h-2.9zM1508.4 865.8h2.9v2.9h-2.9zM1432.5 859.6h2.9v2.9h-2.9zM1463.8 856.5h2.9v2.9h-2.9zM1369.9 867.2h2.9v2.9h-2.9zM1434.2 860.2h2.9v2.9h-2.9zM1384.4 861.5h2.9v2.9h-2.9zM1509.9 863.9h2.9v2.9h-2.9zM1463.9 847.1h2.9v2.9h-2.9zM1488.5 871.1h2.9v2.9h-2.9zM1361.6 852.9h2.9v2.9h-2.9zM1465.1 860.6h2.9v2.9h-2.9zM1408.5 870.8h2.9v2.9h-2.9zM1450.7 869.2h2.9v2.9h-2.9zM1404.6 857.5h2.9v2.9h-2.9zM1447.4 847.6h2.9v2.9h-2.9zM1410.9 867.7h2.9v2.9h-2.9zM1413.8 859.6h2.9v2.9h-2.9zM1458.3 859h2.9v2.9h-2.9zM1508.1 856.6h2.9v2.9h-2.9zM1439.3 861.1h2.9v2.9h-2.9zM1449.4 863.4h2.9v2.9h-2.9zM1382.8 864.1h2.9v2.9h-2.9zM1411.9 857.2h2.9v2.9h-2.9zM1403.3 864.3h2.9v2.9h-2.9zM1374 850.1h2.9v2.9h-2.9zM1460.6 858.1h2.9v2.9h-2.9zM1454.8 859.1h2.9v2.9h-2.9zM1474.8 858.1h2.9v2.9h-2.9zM1438.5 853.3h2.9v2.9h-2.9zM1439.7 858.9h2.9v2.9h-2.9zM1414.7 861.7h2.9v2.9h-2.9zM1446.3 865.9h2.9v2.9h-2.9zM1426.4 860.7h2.9v2.9h-2.9zM1421.6 861h2.9v2.9h-2.9zM1495.6 862.1h2.9v2.9h-2.9zM1443.1 869.4h2.9v2.9h-2.9zM1410.4 866.7h2.9v2.9h-2.9zM1483.4 861.1h2.9v2.9h-2.9zM1388 873h2.9v2.9h-2.9zM1435.3 866.6h2.9v2.9h-2.9zM1368.3 856.4h2.9v2.9h-2.9zM1478.3 865.8h2.9v2.9h-2.9zM1378.4 863.9h2.9v2.9h-2.9zM1478.8 877h2.9v2.9h-2.9zM1387.3 858.5h2.9v2.9h-2.9zM1469.9 866.4h2.9v2.9h-2.9zM1461.5 868.3h2.9v2.9h-2.9zM1447.1 852.2h2.9v2.9h-2.9zM1478.8 861h2.9v2.9h-2.9zM1440.7 851h2.9v2.9h-2.9zM1485.1 857.9h2.9v2.9h-2.9zM1382 848.2h2.9v2.9h-2.9zM1496.8 872.1h2.9v2.9h-2.9zM1457.1 861.8h2.9v2.9h-2.9zM1444.1 869.4h2.9v2.9h-2.9zM1431.9 859.6h2.9v2.9h-2.9zM1485 867.4h2.9v2.9h-2.9zM1425.8 855.4h2.9v2.9h-2.9zM1437.2 851.9h2.9v2.9h-2.9zM1411.8 864.1h2.9v2.9h-2.9zM1427.6 855.7h2.9v2.9h-2.9zM1416.6 859.4h2.9v2.9h-2.9zM1485.4 865.8h2.9v2.9h-2.9zM1435.9 855.6h2.9v2.9h-2.9zM1392.8 860.3h2.9v2.9h-2.9zM1455.6 864.8h2.9v2.9h-2.9zM1456.5 873.4h2.9v2.9h-2.9zM1416.9 868.8h2.9v2.9h-2.9zM1493.1 869.7h2.9v2.9h-2.9zM1396.5 848.2h2.9v2.9h-2.9zM1433.2 862.3h2.9v2.9h-2.9zM1364.9 861h2.9v2.9h-2.9zM1454 847.5h2.9v2.9h-2.9zM1483.6 861.7h2.9v2.9h-2.9zM1450.1 869h2.9v2.9h-2.9zM1447 861.4h2.9v2.9h-2.9zM1471.3 857h2.9v2.9h-2.9zM1458.4 865.2h2.9v2.9h-2.9zM1421.3 870.3h2.9v2.9h-2.9zM1448.2 858.5h2.9v2.9h-2.9zM1376.3 857.1h2.9v2.9h-2.9zM1453.5 865.9h2.9v2.9h-2.9zM1455.4 873.2h2.9v2.9h-2.9zM1442.4 850.5h2.9v2.9h-2.9zM1435.3 846.8h2.9v2.9h-2.9zM1420 846.9h2.9v2.9h-2.9zM1448.9 863h2.9v2.9h-2.9zM1415.9 858h2.9v2.9h-2.9zM1511.1 864.9h2.9v2.9h-2.9zM1378.7 854.9h2.9v2.9h-2.9zM1500 857.2h2.9v2.9h-2.9zM1512.6 850.8h2.9v2.9h-2.9zM1499.1 858.3h2.9v2.9h-2.9zM1411.3 863.2h2.9v2.9h-2.9zM1446.1 857.5h2.9v2.9h-2.9zM1392.5 861.4h2.9v2.9h-2.9zM1463.5 856.9h2.9v2.9h-2.9zM1513.1 858h2.9v2.9h-2.9zM1464.4 867.7h2.9v2.9h-2.9zM1485.5 863.2h2.9v2.9h-2.9zM1414.1 861.3h2.9v2.9h-2.9zM1413.7 861h2.9v2.9h-2.9zM1492.9 853.6h2.9v2.9h-2.9zM1395.1 856.7h2.9v2.9h-2.9zM1444.1 856.9h2.9v2.9h-2.9zM1465.8 859.9h2.9v2.9h-2.9zM1449.1 869.6h2.9v2.9h-2.9zM1430.8 861.3h2.9v2.9h-2.9zM1380.9 867.3h2.9v2.9h-2.9zM1377.9 870.2h2.9v2.9h-2.9zM1376.5 865.1h2.9v2.9h-2.9zM1490.4 868.1h2.9v2.9h-2.9zM1461 862.3h2.9v2.9h-2.9zM1355.5 859.4h2.9v2.9h-2.9zM1483.2 857.1h2.9v2.9h-2.9zM1421.7 870.3h2.9v2.9h-2.9zM1390.1 861.2h2.9v2.9h-2.9zM1501.2 864.3h2.9v2.9h-2.9zM1456.6 857.5h2.9v2.9h-2.9zM1426.8 867h2.9v2.9h-2.9zM1366.6 867.8h2.9v2.9h-2.9zM1508.6 856.3h2.9v2.9h-2.9zM1435.2 858.1h2.9v2.9h-2.9zM1364 858.3h2.9v2.9h-2.9zM1504.8 864.8h2.9v2.9h-2.9zM1500.5 857.2h2.9v2.9h-2.9zM1489.4 858.7h2.9v2.9h-2.9zM1508.7 869.4h2.9v2.9h-2.9zM1443.7 865.9h2.9v2.9h-2.9zM1427.5 860.1h2.9v2.9h-2.9zM1476 862.4h2.9v2.9h-2.9zM1497.4 866.7h2.9v2.9h-2.9zM1442.1 862.7h2.9v2.9h-2.9zM1390.8 857h2.9v2.9h-2.9zM1422.5 867.9h2.9v2.9h-2.9zM1411.4 876.7h2.9v2.9h-2.9zM1453.5 867.2h2.9v2.9h-2.9zM1426.8 866.6h2.9v2.9h-2.9zM1429.6 864.4h2.9v2.9h-2.9zM1490.7 862.8h2.9v2.9h-2.9zM1484.9 864.6h2.9v2.9h-2.9zM1494 865.7h2.9v2.9h-2.9zM1490.7 862.3h2.9v2.9h-2.9zM1484.6 855.1h2.9v2.9h-2.9zM1501.2 869.4h2.9v2.9h-2.9zM1498.6 863.5h2.9v2.9h-2.9zM1493.7 857.4h2.9v2.9h-2.9zM1468.3 865.1h2.9v2.9h-2.9zM1492.9 856.7h2.9v2.9h-2.9zM1478.4 869.3h2.9v2.9h-2.9zM1468 872.6h2.9v2.9h-2.9zM1498.3 876.8h2.9v2.9h-2.9zM1481.5 860.4h2.9v2.9h-2.9zM1484.1 861.6h2.9v2.9h-2.9zM1487.8 855.4h2.9v2.9h-2.9zM1503.7 855.1h2.9v2.9h-2.9zM1484.1 864.3h2.9v2.9h-2.9zM1483.7 857.5h2.9v2.9h-2.9zM1494.8 858h2.9v2.9h-2.9zM1474.9 859.8h2.9v2.9h-2.9zM1487.7 872.2h2.9v2.9h-2.9zM1476.8 867.2h2.9v2.9h-2.9zM1480.6 858.1h2.9v2.9h-2.9zM1486.3 862.4h2.9v2.9h-2.9zM1501.1 872.5h2.9v2.9h-2.9zM1482.5 869.6h2.9v2.9h-2.9zM1502.7 866.1h2.9v2.9h-2.9zM1481 866.7h2.9v2.9h-2.9zM1489.1 862.9h2.9v2.9h-2.9zM1487 865.1h2.9v2.9h-2.9zM1504.2 868.3h2.9v2.9h-2.9zM1487.8 867.3h2.9v2.9h-2.9zM1508.4 854.1h2.9v2.9h-2.9zM1508.7 851.4h2.9v2.9h-2.9zM1497.1 864.6h2.9v2.9h-2.9zM1508.8 862.4h2.9v2.9h-2.9zM1484.4 855h2.9v2.9h-2.9zM1474.9 865.8h2.9v2.9h-2.9zM1487.4 855.6h2.9v2.9h-2.9zM1497 855.3h2.9v2.9h-2.9zM1485 857.4h2.9v2.9h-2.9zM1510.9 870.5h2.9v2.9h-2.9zM1488.4 849.7h2.9v2.9h-2.9zM1493.8 861h2.9v2.9h-2.9zM1494.7 864.4h2.9v2.9h-2.9zM1486.4 866.9h2.9v2.9h-2.9zM1500.8 862h2.9v2.9h-2.9zM1485.3 857.2h2.9v2.9h-2.9zM1499 853h2.9v2.9h-2.9zM1488.4 855.4h2.9v2.9h-2.9zM1473.1 864.6h2.9v2.9h-2.9zM1490.1 860.8h2.9v2.9h-2.9zM1501.2 850.3h2.9v2.9h-2.9zM1489.6 862.5h2.9v2.9h-2.9zM1500.7 853.1h2.9v2.9h-2.9zM1499.3 862h2.9v2.9h-2.9zM1507.2 868.3h2.9v2.9h-2.9zM1497.2 875.2h2.9v2.9h-2.9zM1490.4 857.6h2.9v2.9h-2.9zM1486.2 854.1h2.9v2.9h-2.9zM1490 847.6h2.9v2.9h-2.9zM1489.3 863.4h2.9v2.9h-2.9zM1502.7 858.1h2.9v2.9h-2.9zM1507.6 856h2.9v2.9h-2.9zM1488.7 847.6h2.9v2.9h-2.9zM1480.9 855.1h2.9v2.9h-2.9zM1508.5 864.1h2.9v2.9h-2.9zM1477 864.1h2.9v2.9h-2.9zM1496.2 858.9h2.9v2.9h-2.9zM1490.7 858.5h2.9v2.9h-2.9zM1483.8 848.6h2.9v2.9h-2.9zM1489.3 869.1h2.9v2.9h-2.9zM1507.7 858.6h2.9v2.9h-2.9zM1481.3 859.1h2.9v2.9h-2.9zM1501.3 862.9h2.9v2.9h-2.9zM1483.3 862.9h2.9v2.9h-2.9zM1487.9 864h2.9v2.9h-2.9zM1485.4 850.7h2.9v2.9h-2.9zM1491.1 865.6h2.9v2.9h-2.9zM1477 859.8h2.9v2.9h-2.9zM1501 858h2.9v2.9h-2.9zM1482.5 874.1h2.9v2.9h-2.9zM1500.4 867.4h2.9v2.9h-2.9zM1479 871.4h2.9v2.9h-2.9zM1470.4 857h2.9v2.9h-2.9zM1499.3 869.4h2.9v2.9h-2.9zM1479.2 856.1h2.9v2.9h-2.9zM1492.8 847.6h2.9v2.9h-2.9zM1498.1 864.2h2.9v2.9h-2.9zM1485 864.1h2.9v2.9h-2.9zM1499.7 862.6h2.9v2.9h-2.9zM1496.7 870.6h2.9v2.9h-2.9zM1484.6 861.6h2.9v2.9h-2.9zM1484.1 867.4h2.9v2.9h-2.9zM1485.5 863.7h2.9v2.9h-2.9zM1492 861h2.9v2.9h-2.9zM1511 859.9h2.9v2.9h-2.9zM1507.4 866h2.9v2.9h-2.9zM1506.2 859.4h2.9v2.9h-2.9zM1501.5 865.5h2.9v2.9h-2.9zM1483 862.3h2.9v2.9h-2.9zM1488.8 860.3h2.9v2.9h-2.9zM1506 855.7h2.9v2.9h-2.9zM1470.2 849h2.9v2.9h-2.9zM1485 856.2h2.9v2.9h-2.9zM1490.6 864.3h2.9v2.9h-2.9zM1511.5 862.6h2.9v2.9h-2.9zM1495.9 855.6h2.9v2.9h-2.9zM1497.3 869.5h2.9v2.9h-2.9zM1506.4 847.6h2.9v2.9h-2.9zM1501 871h2.9v2.9h-2.9zM1500.3 850.6h2.9v2.9h-2.9zM1486.7 864.4h2.9v2.9h-2.9zM1495.4 855.1h2.9v2.9h-2.9zM1479.7 866.9h2.9v2.9h-2.9zM1474.4 870h2.9v2.9h-2.9zM1490.6 862.5h2.9v2.9h-2.9zM1474.5 856.6h2.9v2.9h-2.9zM1498.6 850.8h2.9v2.9h-2.9zM1515.1 851.2h2.9v2.9h-2.9zM1475.8 860.8h2.9v2.9h-2.9zM1496.1 865.3h2.9v2.9h-2.9zM1486 859.1h2.9v2.9h-2.9zM1487.6 856.7h2.9v2.9h-2.9zM1459.6 866.8h2.9v2.9h-2.9zM1493.4 861.6h2.9v2.9h-2.9zM1482.9 862.2h2.9v2.9h-2.9zM1490.2 860h2.9v2.9h-2.9zM1503.6 849.2h2.9v2.9h-2.9zM1493.4 853.5h2.9v2.9h-2.9zM1486.6 870.4h2.9v2.9h-2.9zM1477.5 859.9h2.9v2.9h-2.9zM1483.3 866.8h2.9v2.9h-2.9zM1478.7 849.4h2.9v2.9h-2.9zM1496.5 858.2h2.9v2.9h-2.9zM1486.6 867.6h2.9v2.9h-2.9zM1479.8 858h2.9v2.9h-2.9zM1492.1 863.2h2.9v2.9h-2.9zM1484.2 867.3h2.9v2.9h-2.9zM1517.1 857.8h2.9v2.9h-2.9zM1512.7 846.6h2.9v2.9h-2.9zM1507.2 858.2h2.9v2.9h-2.9zM1492 858.3h2.9v2.9h-2.9zM1482.8 852.1h2.9v2.9h-2.9zM1485.7 869h2.9v2.9h-2.9zM1504 858.2h2.9v2.9h-2.9zM1484.1 855.9h2.9v2.9h-2.9zM1476.1 872.4h2.9v2.9h-2.9zM1498.3 861.3h2.9v2.9h-2.9zM1484.5 853.8h2.9v2.9h-2.9zM1357.2 871.4h2.9v2.9h-2.9zM1345.9 872.9h2.9v2.9h-2.9zM1345.1 870.5h2.9v2.9h-2.9zM1345.8 863.2h2.9v2.9h-2.9zM1353.1 869h2.9v2.9h-2.9zM1355.7 860.3h2.9v2.9h-2.9zM1358.6 875.3h2.9v2.9h-2.9zM1350.6 869.3h2.9v2.9h-2.9zM1346.7 865h2.9v2.9h-2.9zM1344 866.7h2.9v2.9h-2.9zM1351.6 875.3h2.9v2.9h-2.9zM1355.4 871.7h2.9v2.9h-2.9zM1348.8 864.5h2.9v2.9h-2.9zM1348.9 867.6h2.9v2.9h-2.9zM1340.9 871.4h2.9v2.9h-2.9zM1342.8 862.5h2.9v2.9h-2.9zM1350.7 862.5h2.9v2.9h-2.9zM1359 865.4h2.9v2.9h-2.9zM1358.5 874.2h2.9v2.9h-2.9zM1348.1 868.8h2.9v2.9h-2.9zM1357.1 863.8h2.9v2.9h-2.9zM1351.1 862.2h2.9v2.9h-2.9zM1350.9 863.6h2.9v2.9h-2.9zM1351 873h2.9v2.9h-2.9zM1357.6 867h2.9v2.9h-2.9zM1351.6 872h2.9v2.9h-2.9zM1349.2 858.8h2.9v2.9h-2.9zM1356.2 859.6h2.9v2.9h-2.9zM1355.3 859.4h2.9v2.9h-2.9zM1359.8 858.9h2.9v2.9h-2.9zM1354.9 876.4h2.9v2.9h-2.9zM1345.8 876.3h2.9v2.9h-2.9zM1346.5 853.9h2.9v2.9h-2.9zM1354.3 870.9h2.9v2.9h-2.9zM1349.6 848.6h2.9v2.9h-2.9zM1350.4 864h2.9v2.9h-2.9zM1348.7 864.1h2.9v2.9h-2.9zM1341.7 862.1h2.9v2.9h-2.9zM1359.7 876.7h2.9v2.9h-2.9zM1348.8 861.2h2.9v2.9h-2.9z" fill="#141414"/>
<text x="1587" y="571" font-size="35" font-weight="bold">h</text>
<line x1="1710.7" y1="618.1" x2="1710.7" y2="976.9" stroke="#111" stroke-width="3.2"/>
<line x1="1697.7" y1="975.3" x2="2166.5" y2="975.3" stroke="#111" stroke-width="3.2"/>
<line x1="1698.7" y1="619.7" x2="1710.7" y2="619.7" stroke="#111" stroke-width="3.2"/>
<text x="1689.7" y="631.7" font-size="33" text-anchor="end">25</text>
<line x1="1698.7" y1="691" x2="1710.7" y2="691" stroke="#111" stroke-width="3.2"/>
<text x="1689.7" y="703" font-size="33" text-anchor="end">20</text>
<line x1="1698.7" y1="762.2" x2="1710.7" y2="762.2" stroke="#111" stroke-width="3.2"/>
<text x="1689.7" y="774.2" font-size="33" text-anchor="end">15</text>
<line x1="1698.7" y1="833.4" x2="1710.7" y2="833.4" stroke="#111" stroke-width="3.2"/>
<text x="1689.7" y="845.4" font-size="33" text-anchor="end">10</text>
<line x1="1698.7" y1="904.5" x2="1710.7" y2="904.5" stroke="#111" stroke-width="3.2"/>
<text x="1689.7" y="916.5" font-size="33" text-anchor="end">5</text>
<line x1="1698.7" y1="975.3" x2="1710.7" y2="975.3" stroke="#111" stroke-width="3.2"/>
<text x="1689.7" y="987.3" font-size="33" text-anchor="end">0</text>
<line x1="1819.9" y1="619.7" x2="1819.9" y2="975.3" stroke="#3f4854" stroke-width="1.9" stroke-dasharray="1.3 1.4"/>
<line x1="1937.4" y1="619.7" x2="1937.4" y2="975.3" stroke="#3f4854" stroke-width="1.9" stroke-dasharray="1.3 1.4"/>
<line x1="2055" y1="619.7" x2="2055" y2="975.3" stroke="#3f4854" stroke-width="1.9" stroke-dasharray="1.3 1.4"/>
<text x="1938.7" y="594.5" font-size="33" text-anchor="middle" font-style="italic">C. tropicalis</text>
<text x="1637.5" y="816.5" font-size="33" text-anchor="middle" transform="rotate(-90 1637.5 816.5)">% / CD154+ Tmem</text>
<text x="1766" y="1006.3" font-size="33" text-anchor="end" transform="rotate(-45 1766 1006.3)">CD319</text>
<text x="1883" y="1006.3" font-size="33" text-anchor="end" transform="rotate(-45 1883 1006.3)">PRF1</text>
<text x="2000" y="1006.3" font-size="33" text-anchor="end" transform="rotate(-45 2000 1006.3)">GZMB</text>
<text x="2117" y="1006.3" font-size="33" text-anchor="end" transform="rotate(-45 2117 1006.3)">CCL4</text>
<line x1="1738.9" y1="916.3" x2="1738.9" y2="928.7" stroke="#1f2e93" stroke-width="1.6"/>
<line x1="1738.9" y1="965.6" x2="1738.9" y2="975.9" stroke="#1f2e93" stroke-width="1.6"/>
<line x1="1731.9" y1="916.3" x2="1745.9" y2="916.3" stroke="#1f2e93" stroke-width="1.6"/>
<line x1="1731.9" y1="975.9" x2="1745.9" y2="975.9" stroke="#1f2e93" stroke-width="1.6"/>
<rect x="1725.6" y="928.7" width="26.5" height="36.9" fill="#8a93d8" stroke="#1f2e93" stroke-width="1.6"/>
<line x1="1725.6" y1="955.8" x2="1752.1" y2="955.8" stroke="#1f2e93" stroke-width="1.6"/>
<g fill="#3a4bb8" stroke="#1b2a8a" stroke-width="1.4">
<circle cx="1739.1" cy="916.9" r="5.3"/>
<circle cx="1730.4" cy="928.3" r="5.3"/>
<circle cx="1748" cy="928.3" r="5.3"/>
<circle cx="1739.1" cy="953.1" r="5.3"/>
<circle cx="1730.4" cy="961.4" r="5.3"/>
<circle cx="1748" cy="961.4" r="5.3"/>
<circle cx="1748" cy="968.7" r="5.3"/>
<circle cx="1730.4" cy="975.9" r="5.3"/>
</g>
<line x1="1783.1" y1="699.4" x2="1783.1" y2="725.3" stroke="#d42424" stroke-width="1.6"/>
<line x1="1783.1" y1="945.3" x2="1783.1" y2="958.3" stroke="#d42424" stroke-width="1.6"/>
<line x1="1776.1" y1="699.4" x2="1790.1" y2="699.4" stroke="#d42424" stroke-width="1.6"/>
<line x1="1776.1" y1="958.3" x2="1790.1" y2="958.3" stroke="#d42424" stroke-width="1.6"/>
<rect x="1769.1" y="725.3" width="28" height="220" fill="#ee8380" stroke="#d42424" stroke-width="1.6"/>
<line x1="1769.1" y1="931.4" x2="1797.1" y2="931.4" stroke="#d42424" stroke-width="1.6"/>
<g fill="#ee1313" stroke="#c80d0d" stroke-width="1.4">
<circle cx="1783.2" cy="699.4" r="5.3"/>
<circle cx="1783.2" cy="750.8" r="5.3"/>
<circle cx="1773.9" cy="934.5" r="5.3"/>
<circle cx="1792.5" cy="930.8" r="5.3"/>
<circle cx="1783.2" cy="958.3" r="5.3"/>
</g>
<line x1="1856.5" y1="906.1" x2="1856.5" y2="909.6" stroke="#1f2e93" stroke-width="1.6"/>
<line x1="1856.5" y1="950" x2="1856.5" y2="952.1" stroke="#1f2e93" stroke-width="1.6"/>
<line x1="1849.5" y1="906.1" x2="1863.5" y2="906.1" stroke="#1f2e93" stroke-width="1.6"/>
<line x1="1849.5" y1="952.1" x2="1863.5" y2="952.1" stroke="#1f2e93" stroke-width="1.6"/>
<rect x="1843.3" y="909.6" width="26.5" height="40.4" fill="#8a93d8" stroke="#1f2e93" stroke-width="1.6"/>
<line x1="1843.3" y1="922.1" x2="1869.8" y2="922.1" stroke="#1f2e93" stroke-width="1.6"/>
<g fill="#3a4bb8" stroke="#1b2a8a" stroke-width="1.4">
<circle cx="1848.4" cy="907.6" r="5.3"/>
<circle cx="1857.3" cy="906.1" r="5.3"/>
<circle cx="1866" cy="911.7" r="5.3"/>
<circle cx="1866" cy="916.9" r="5.3"/>
<circle cx="1848.4" cy="927.9" r="5.3"/>
<circle cx="1848.4" cy="951.5" r="5.3"/>
<circle cx="1857.3" cy="948" r="5.3"/>
<circle cx="1866" cy="952.1" r="5.3"/>
</g>
<line x1="1900.7" y1="699.4" x2="1900.7" y2="764.2" stroke="#d42424" stroke-width="1.6"/>
<line x1="1900.7" y1="937.6" x2="1900.7" y2="938.2" stroke="#d42424" stroke-width="1.6"/>
<line x1="1893.7" y1="699.4" x2="1907.7" y2="699.4" stroke="#d42424" stroke-width="1.6"/>
<line x1="1893.7" y1="938.2" x2="1907.7" y2="938.2" stroke="#d42424" stroke-width="1.6"/>
<rect x="1886.8" y="764.2" width="28" height="173.4" fill="#ee8380" stroke="#d42424" stroke-width="1.6"/>
<line x1="1886.8" y1="904.5" x2="1914.7" y2="904.5" stroke="#d42424" stroke-width="1.6"/>
<g fill="#ee1313" stroke="#c80d0d" stroke-width="1.4">
<circle cx="1900.6" cy="699.4" r="5.3"/>
<circle cx="1900.6" cy="827.8" r="5.3"/>
<circle cx="1900.6" cy="904.5" r="5.3"/>
<circle cx="1890.9" cy="938.2" r="5.3"/>
<circle cx="1909.5" cy="938.2" r="5.3"/>
</g>
<line x1="1974.4" y1="934.5" x2="1974.4" y2="939.7" stroke="#1f2e93" stroke-width="1.6"/>
<line x1="1974.4" y1="961.4" x2="1974.4" y2="967.6" stroke="#1f2e93" stroke-width="1.6"/>
<line x1="1967.4" y1="934.5" x2="1981.4" y2="934.5" stroke="#1f2e93" stroke-width="1.6"/>
<line x1="1967.4" y1="967.6" x2="1981.4" y2="967.6" stroke="#1f2e93" stroke-width="1.6"/>
<rect x="1960.5" y="939.7" width="28" height="21.7" fill="#8a93d8" stroke="#1f2e93" stroke-width="1.6"/>
<line x1="1960.5" y1="952.1" x2="1988.4" y2="952.1" stroke="#1f2e93" stroke-width="1.6"/>
<g fill="#3a4bb8" stroke="#1b2a8a" stroke-width="1.4">
<circle cx="1974.3" cy="934.5" r="5.3"/>
<circle cx="1969.8" cy="943.8" r="5.3"/>
<circle cx="1965.2" cy="951.1" r="5.3"/>
<circle cx="1974.3" cy="952.1" r="5.3"/>
<circle cx="1982.2" cy="950" r="5.3"/>
<circle cx="1983.2" cy="957.3" r="5.3"/>
<circle cx="1965.2" cy="967.6" r="5.3"/>
</g>
<line x1="2017.9" y1="902.4" x2="2017.9" y2="924.6" stroke="#d42424" stroke-width="1.6"/>
<line x1="2017.9" y1="958.3" x2="2017.9" y2="966.2" stroke="#d42424" stroke-width="1.6"/>
<line x1="2010.9" y1="902.4" x2="2024.9" y2="902.4" stroke="#d42424" stroke-width="1.6"/>
<line x1="2010.9" y1="966.2" x2="2024.9" y2="966.2" stroke="#d42424" stroke-width="1.6"/>
<rect x="2004" y="924.6" width="28" height="33.8" fill="#ee8380" stroke="#d42424" stroke-width="1.6"/>
<line x1="2004" y1="945.9" x2="2031.9" y2="945.9" stroke="#d42424" stroke-width="1.6"/>
<g fill="#ee1313" stroke="#c80d0d" stroke-width="1.4">
<circle cx="2018" cy="902.4" r="5.3"/>
<circle cx="2008.5" cy="951.1" r="5.3"/>
<circle cx="2018" cy="944.8" r="5.3"/>
<circle cx="2027.4" cy="945.9" r="5.3"/>
<circle cx="2018" cy="966.2" r="5.3"/>
</g>
<line x1="2091.5" y1="923.1" x2="2091.5" y2="942.8" stroke="#1f2e93" stroke-width="1.6"/>
<line x1="2091.5" y1="971.8" x2="2091.5" y2="972.8" stroke="#1f2e93" stroke-width="1.6"/>
<line x1="2084.5" y1="923.1" x2="2098.5" y2="923.1" stroke="#1f2e93" stroke-width="1.6"/>
<line x1="2084.5" y1="972.8" x2="2098.5" y2="972.8" stroke="#1f2e93" stroke-width="1.6"/>
<rect x="2077.5" y="942.8" width="28" height="29" fill="#8a93d8" stroke="#1f2e93" stroke-width="1.6"/>
<line x1="2077.5" y1="963.5" x2="2105.4" y2="963.5" stroke="#1f2e93" stroke-width="1.6"/>
<g fill="#3a4bb8" stroke="#1b2a8a" stroke-width="1.4">
<circle cx="2091.6" cy="923.1" r="5.3"/>
<circle cx="2091.6" cy="940.7" r="5.3"/>
<circle cx="2100.3" cy="942.8" r="5.3"/>
<circle cx="2082.7" cy="952.1" r="5.3"/>
<circle cx="2082.7" cy="971.8" r="5.3"/>
<circle cx="2088.2" cy="970.7" r="5.3"/>
<circle cx="2094" cy="971.8" r="5.3"/>
<circle cx="2100.3" cy="970.7" r="5.3"/>
</g>
<line x1="2135.4" y1="849.6" x2="2135.4" y2="872.8" stroke="#d42424" stroke-width="1.6"/>
<line x1="2135.4" y1="972.8" x2="2135.4" y2="975.3" stroke="#d42424" stroke-width="1.6"/>
<line x1="2128.4" y1="849.6" x2="2142.4" y2="849.6" stroke="#d42424" stroke-width="1.6"/>
<line x1="2128.4" y1="975.3" x2="2142.4" y2="975.3" stroke="#d42424" stroke-width="1.6"/>
<rect x="2121.4" y="872.8" width="28" height="100" fill="#ee8380" stroke="#d42424" stroke-width="1.6"/>
<line x1="2121.4" y1="960.4" x2="2149.3" y2="960.4" stroke="#d42424" stroke-width="1.6"/>
<g fill="#ee1313" stroke="#c80d0d" stroke-width="1.4">
<circle cx="2135.5" cy="849.6" r="5.3"/>
<circle cx="2135.5" cy="894.1" r="5.3"/>
<circle cx="2135.5" cy="961.4" r="5.3"/>
<circle cx="2144.4" cy="966.6" r="5.3"/>
<circle cx="2126.2" cy="975.3" r="5.3"/>
</g>
<text x="1761.5" y="658.6" font-size="27.5" text-anchor="middle">0.1709</text>
<line x1="1739.1" y1="671" x2="1783.2" y2="671" stroke="#111" stroke-width="2.6"/>
<text x="1877.4" y="658.6" font-size="27.5" text-anchor="middle">0.1709</text>
<line x1="1855.1" y1="671" x2="1898.6" y2="671" stroke="#111" stroke-width="2.6"/>
<text x="1995.7" y="807.7" font-size="27.5" text-anchor="middle">0.3737</text>
<line x1="1973.9" y1="819.5" x2="2017.4" y2="819.5" stroke="#111" stroke-width="2.6"/>
<text x="2114.3" y="807.7" font-size="27.5" text-anchor="middle">0.5936</text>
<line x1="2092" y1="819.5" x2="2135.5" y2="819.5" stroke="#111" stroke-width="2.6"/>
<line x1="1709.3" y1="1179.7" x2="1709.3" y2="1539.6" stroke="#111" stroke-width="3.2"/>
<line x1="1696.3" y1="1538" x2="2164.5" y2="1538" stroke="#111" stroke-width="3.2"/>
<line x1="1697.3" y1="1181.3" x2="1709.3" y2="1181.3" stroke="#111" stroke-width="3.2"/>
<text x="1688.3" y="1193.3" font-size="33" text-anchor="end">20</text>
<line x1="1697.3" y1="1271.2" x2="1709.3" y2="1271.2" stroke="#111" stroke-width="3.2"/>
<text x="1688.3" y="1283.2" font-size="33" text-anchor="end">15</text>
<line x1="1697.3" y1="1359.9" x2="1709.3" y2="1359.9" stroke="#111" stroke-width="3.2"/>
<text x="1688.3" y="1371.9" font-size="33" text-anchor="end">10</text>
<line x1="1697.3" y1="1448.9" x2="1709.3" y2="1448.9" stroke="#111" stroke-width="3.2"/>
<text x="1688.3" y="1460.9" font-size="33" text-anchor="end">5</text>
<line x1="1697.3" y1="1538" x2="1709.3" y2="1538" stroke="#111" stroke-width="3.2"/>
<text x="1688.3" y="1550" font-size="33" text-anchor="end">0</text>
<line x1="1817.8" y1="1181.3" x2="1817.8" y2="1538" stroke="#3f4854" stroke-width="1.9" stroke-dasharray="1.3 1.4"/>
<line x1="1935" y1="1181.3" x2="1935" y2="1538" stroke="#3f4854" stroke-width="1.9" stroke-dasharray="1.3 1.4"/>
<line x1="2052.6" y1="1181.3" x2="2052.6" y2="1538" stroke="#3f4854" stroke-width="1.9" stroke-dasharray="1.3 1.4"/>
<text x="1938.7" y="1158" font-size="33" text-anchor="middle" font-style="italic">S. cerevisiae</text>
<text x="1637.5" y="1380.5" font-size="33" text-anchor="middle" transform="rotate(-90 1637.5 1380.5)">% / CD154+ Tmem</text>
<text x="1766" y="1569" font-size="33" text-anchor="end" transform="rotate(-45 1766 1569)">CD319</text>
<text x="1883" y="1569" font-size="33" text-anchor="end" transform="rotate(-45 1883 1569)">PRF1</text>
<text x="2000" y="1569" font-size="33" text-anchor="end" transform="rotate(-45 2000 1569)">GZMB</text>
<text x="2117" y="1569" font-size="33" text-anchor="end" transform="rotate(-45 2117 1569)">CCL4</text>
<line x1="1737.4" y1="1465.5" x2="1737.4" y2="1516.7" stroke="#1f2e93" stroke-width="1.6"/>
<line x1="1737.4" y1="1538" x2="1737.4" y2="1538" stroke="#1f2e93" stroke-width="1.6"/>
<line x1="1730.4" y1="1465.5" x2="1744.4" y2="1465.5" stroke="#1f2e93" stroke-width="1.6"/>
<line x1="1730.4" y1="1538" x2="1744.4" y2="1538" stroke="#1f2e93" stroke-width="1.6"/>
<rect x="1723.1" y="1516.7" width="28.6" height="21.3" fill="#8a93d8" stroke="#1f2e93" stroke-width="1.6"/>
<line x1="1723.1" y1="1530.7" x2="1751.7" y2="1530.7" stroke="#1f2e93" stroke-width="1.6"/>
<g fill="#3a4bb8" stroke="#1b2a8a" stroke-width="1.4">
<circle cx="1737.2" cy="1465.5" r="5.3"/>
<circle cx="1737.2" cy="1513.1" r="5.3"/>
<circle cx="1734.5" cy="1522.5" r="5.3"/>
<circle cx="1731.4" cy="1528.7" r="5.3"/>
<circle cx="1740.7" cy="1528.7" r="5.3"/>
<circle cx="1728.3" cy="1538" r="5.3"/>
<circle cx="1745.9" cy="1538" r="5.3"/>
<circle cx="1737.2" cy="1532.8" r="5.3"/>
</g>
<line x1="1780.8" y1="1302.9" x2="1780.8" y2="1326.3" stroke="#d42424" stroke-width="1.6"/>
<line x1="1780.8" y1="1482.5" x2="1780.8" y2="1531.8" stroke="#d42424" stroke-width="1.6"/>
<line x1="1773.8" y1="1302.9" x2="1787.8" y2="1302.9" stroke="#d42424" stroke-width="1.6"/>
<line x1="1773.8" y1="1531.8" x2="1787.8" y2="1531.8" stroke="#d42424" stroke-width="1.6"/>
<rect x="1767" y="1326.3" width="27.5" height="156.2" fill="#ee8380" stroke="#d42424" stroke-width="1.6"/>
<line x1="1767" y1="1405" x2="1794.6" y2="1405" stroke="#d42424" stroke-width="1.6"/>
<g fill="#ee1313" stroke="#c80d0d" stroke-width="1.4">
<circle cx="1780.7" cy="1302.9" r="5.3"/>
<circle cx="1780.7" cy="1348.9" r="5.3"/>
<circle cx="1780.7" cy="1405" r="5.3"/>
<circle cx="1780.7" cy="1435.5" r="5.3"/>
<circle cx="1780.7" cy="1531.8" r="5.3"/>
</g>
<line x1="1854.7" y1="1469.6" x2="1854.7" y2="1481.7" stroke="#1f2e93" stroke-width="1.6"/>
<line x1="1854.7" y1="1524.5" x2="1854.7" y2="1540.1" stroke="#1f2e93" stroke-width="1.6"/>
<line x1="1847.7" y1="1469.6" x2="1861.7" y2="1469.6" stroke="#1f2e93" stroke-width="1.6"/>
<line x1="1847.7" y1="1540.1" x2="1861.7" y2="1540.1" stroke="#1f2e93" stroke-width="1.6"/>
<rect x="1840.8" y="1481.7" width="27.8" height="42.9" fill="#8a93d8" stroke="#1f2e93" stroke-width="1.6"/>
<line x1="1840.8" y1="1512.1" x2="1868.5" y2="1512.1" stroke="#1f2e93" stroke-width="1.6"/>
<g fill="#3a4bb8" stroke="#1b2a8a" stroke-width="1.4">
<circle cx="1845.8" cy="1475.9" r="5.3"/>
<circle cx="1863.6" cy="1469.6" r="5.3"/>
<circle cx="1863.6" cy="1494.9" r="5.3"/>
<circle cx="1845.8" cy="1500.7" r="5.3"/>
<circle cx="1845.8" cy="1525.6" r="5.3"/>
<circle cx="1854.7" cy="1521.4" r="5.3"/>
<circle cx="1863.6" cy="1523.5" r="5.3"/>
<circle cx="1854.7" cy="1540.1" r="5.3"/>
</g>
<line x1="1898.5" y1="1310.2" x2="1898.5" y2="1349.5" stroke="#d42424" stroke-width="1.6"/>
<line x1="1898.5" y1="1480" x2="1898.5" y2="1490.8" stroke="#d42424" stroke-width="1.6"/>
<line x1="1891.5" y1="1310.2" x2="1905.5" y2="1310.2" stroke="#d42424" stroke-width="1.6"/>
<line x1="1891.5" y1="1490.8" x2="1905.5" y2="1490.8" stroke="#d42424" stroke-width="1.6"/>
<rect x="1884.3" y="1349.5" width="28.4" height="130.5" fill="#ee8380" stroke="#d42424" stroke-width="1.6"/>
<line x1="1884.3" y1="1400.7" x2="1912.7" y2="1400.7" stroke="#d42424" stroke-width="1.6"/>
<g fill="#ee1313" stroke="#c80d0d" stroke-width="1.4">
<circle cx="1898.2" cy="1310.2" r="5.3"/>
<circle cx="1898.2" cy="1387.8" r="5.3"/>
<circle cx="1898.2" cy="1400.3" r="5.3"/>
<circle cx="1898.2" cy="1470.1" r="5.3"/>
<circle cx="1898.2" cy="1490.8" r="5.3"/>
</g>
<line x1="1971.9" y1="1411.2" x2="1971.9" y2="1458.9" stroke="#1f2e93" stroke-width="1.6"/>
<line x1="1971.9" y1="1538" x2="1971.9" y2="1538" stroke="#1f2e93" stroke-width="1.6"/>
<line x1="1964.9" y1="1411.2" x2="1978.9" y2="1411.2" stroke="#1f2e93" stroke-width="1.6"/>
<line x1="1964.9" y1="1538" x2="1978.9" y2="1538" stroke="#1f2e93" stroke-width="1.6"/>
<rect x="1957.4" y="1458.9" width="29" height="79.1" fill="#8a93d8" stroke="#1f2e93" stroke-width="1.6"/>
<line x1="1957.4" y1="1510" x2="1986.3" y2="1510" stroke="#1f2e93" stroke-width="1.6"/>
<g fill="#3a4bb8" stroke="#1b2a8a" stroke-width="1.4">
<circle cx="1971.9" cy="1411.2" r="5.3"/>
<circle cx="1971.9" cy="1446.4" r="5.3"/>
<circle cx="1971.9" cy="1493" r="5.3"/>
<circle cx="1962.5" cy="1510.4" r="5.3"/>
<circle cx="1980.8" cy="1509.6" r="5.3"/>
<circle cx="1971.9" cy="1531.8" r="5.3"/>
<circle cx="1962.5" cy="1538" r="5.3"/>
<circle cx="1980.8" cy="1538" r="5.3"/>
</g>
<line x1="2015.7" y1="1465.5" x2="2015.7" y2="1469.6" stroke="#d42424" stroke-width="1.6"/>
<line x1="2015.7" y1="1527.6" x2="2015.7" y2="1528.7" stroke="#d42424" stroke-width="1.6"/>
<line x1="2008.7" y1="1465.5" x2="2022.7" y2="1465.5" stroke="#d42424" stroke-width="1.6"/>
<line x1="2008.7" y1="1528.7" x2="2022.7" y2="1528.7" stroke="#d42424" stroke-width="1.6"/>
<rect x="2001.5" y="1469.6" width="28.4" height="58" fill="#ee8380" stroke="#d42424" stroke-width="1.6"/>
<line x1="2001.5" y1="1480.6" x2="2029.8" y2="1480.6" stroke="#d42424" stroke-width="1.6"/>
<g fill="#ee1313" stroke="#c80d0d" stroke-width="1.4">
<circle cx="2015.8" cy="1465.5" r="5.3"/>
<circle cx="2025.1" cy="1471.7" r="5.3"/>
<circle cx="2007.1" cy="1481" r="5.3"/>
<circle cx="2025.1" cy="1522" r="5.3"/>
<circle cx="2007.1" cy="1528.7" r="5.3"/>
</g>
<line x1="2089.2" y1="1479.6" x2="2089.2" y2="1522" stroke="#1f2e93" stroke-width="1.6"/>
<line x1="2089.2" y1="1538" x2="2089.2" y2="1538" stroke="#1f2e93" stroke-width="1.6"/>
<line x1="2082.2" y1="1479.6" x2="2096.2" y2="1479.6" stroke="#1f2e93" stroke-width="1.6"/>
<line x1="2082.2" y1="1538" x2="2096.2" y2="1538" stroke="#1f2e93" stroke-width="1.6"/>
<rect x="2075" y="1522" width="28.4" height="15.9" fill="#8a93d8" stroke="#1f2e93" stroke-width="1.6"/>
<line x1="2075" y1="1532.8" x2="2103.4" y2="1532.8" stroke="#1f2e93" stroke-width="1.6"/>
<g fill="#3a4bb8" stroke="#1b2a8a" stroke-width="1.4">
<circle cx="2088.9" cy="1479.6" r="5.3"/>
<circle cx="2088.9" cy="1517.3" r="5.3"/>
<circle cx="2081.6" cy="1529.7" r="5.3"/>
<circle cx="2096.1" cy="1529.7" r="5.3"/>
<circle cx="2088.9" cy="1532.8" r="5.3"/>
<circle cx="2078.5" cy="1538" r="5.3"/>
<circle cx="2088.9" cy="1538" r="5.3"/>
<circle cx="2099.2" cy="1538" r="5.3"/>
</g>
<line x1="2133.2" y1="1482.1" x2="2133.2" y2="1493.5" stroke="#d42424" stroke-width="1.6"/>
<line x1="2133.2" y1="1524.1" x2="2133.2" y2="1535.9" stroke="#d42424" stroke-width="1.6"/>
<line x1="2126.2" y1="1482.1" x2="2140.2" y2="1482.1" stroke="#d42424" stroke-width="1.6"/>
<line x1="2126.2" y1="1535.9" x2="2140.2" y2="1535.9" stroke="#d42424" stroke-width="1.6"/>
<rect x="2118.9" y="1493.5" width="28.6" height="30.7" fill="#ee8380" stroke="#d42424" stroke-width="1.6"/>
<line x1="2118.9" y1="1510" x2="2147.5" y2="1510" stroke="#d42424" stroke-width="1.6"/>
<g fill="#ee1313" stroke="#c80d0d" stroke-width="1.4">
<circle cx="2133" cy="1482.1" r="5.3"/>
<circle cx="2133" cy="1502.8" r="5.3"/>
<circle cx="2124.1" cy="1512.1" r="5.3"/>
<circle cx="2141.7" cy="1509" r="5.3"/>
<circle cx="2133" cy="1535.9" r="5.3"/>
</g>
<text x="1763.5" y="1221.7" font-size="27.5" text-anchor="middle">0.0287</text>
<line x1="1740.7" y1="1232.9" x2="1783.6" y2="1232.9" stroke="#111" stroke-width="2.6"/>
<text x="1877.4" y="1269.2" font-size="27.5" text-anchor="middle">0.0070</text>
<line x1="1854.2" y1="1279.7" x2="1896.7" y2="1279.7" stroke="#111" stroke-width="2.6"/>
<text x="1996.7" y="1369.2" font-size="27.5" text-anchor="middle">0.5913</text>
<line x1="1970.8" y1="1382.2" x2="2013.7" y2="1382.2" stroke="#111" stroke-width="2.6"/>
<text x="2112.1" y="1369.2" font-size="27.5" text-anchor="middle">0.1616</text>
<line x1="2089.9" y1="1382.2" x2="2133.4" y2="1382.2" stroke="#111" stroke-width="2.6"/>
<circle cx="1798.3" cy="1694" r="10.5" fill="#3a4bb8" stroke="#1b2a8a" stroke-width="1.6"/>
<text x="1822" y="1704.5" font-size="33.6">ASCA &lt;10RU/mL</text>
<circle cx="1798.3" cy="1733.8" r="10.5" fill="#ee1313" stroke="#c80d0d" stroke-width="1.6"/>
<text x="1822" y="1745" font-size="33.6">ASCA &gt;10RU/mL</text>
<text x="1" y="1081.8" font-size="35" font-weight="bold">e</text>
<line x1="130.5" y1="1093.6" x2="359.8" y2="1093.6" stroke="#111" stroke-width="2"/>
<line x1="575.3" y1="1093.6" x2="805.1" y2="1093.6" stroke="#111" stroke-width="2"/>
<text x="470.7" y="1102.8" font-size="33" text-anchor="middle" font-style="italic">C. tropicalis</text>
<line x1="864.9" y1="1093.6" x2="1093.8" y2="1093.6" stroke="#111" stroke-width="2"/>
<line x1="1314.7" y1="1093.6" x2="1544.8" y2="1093.6" stroke="#111" stroke-width="2"/>
<text x="1204.7" y="1102.8" font-size="33" text-anchor="middle" font-style="italic">S. cerevisiae</text>
<line x1="128.6" y1="1133.8" x2="128.6" y2="1399.2" stroke="#111" stroke-width="2.5"/>
<line x1="119" y1="1397.9" x2="287" y2="1397.9" stroke="#111" stroke-width="2.5"/>
<line x1="118.6" y1="1135.1" x2="128.6" y2="1135.1" stroke="#111" stroke-width="2.5"/>
<line x1="118.6" y1="1200.5" x2="128.6" y2="1200.5" stroke="#111" stroke-width="2.5"/>
<line x1="118.6" y1="1266.3" x2="128.6" y2="1266.3" stroke="#111" stroke-width="2.5"/>
<line x1="118.6" y1="1331.7" x2="128.6" y2="1331.7" stroke="#111" stroke-width="2.5"/>
<line x1="118.6" y1="1397.9" x2="128.6" y2="1397.9" stroke="#111" stroke-width="2.5"/>
<line x1="303.1" y1="1133.8" x2="303.1" y2="1399.2" stroke="#111" stroke-width="2.5"/>
<line x1="292.4" y1="1397.9" x2="461.2" y2="1397.9" stroke="#111" stroke-width="2.5"/>
<line x1="293.1" y1="1135.1" x2="303.1" y2="1135.1" stroke="#111" stroke-width="2.5"/>
<line x1="293.1" y1="1200.5" x2="303.1" y2="1200.5" stroke="#111" stroke-width="2.5"/>
<line x1="293.1" y1="1266.3" x2="303.1" y2="1266.3" stroke="#111" stroke-width="2.5"/>
<line x1="293.1" y1="1331.7" x2="303.1" y2="1331.7" stroke="#111" stroke-width="2.5"/>
<line x1="293.1" y1="1397.9" x2="303.1" y2="1397.9" stroke="#111" stroke-width="2.5"/>
<line x1="476.7" y1="1133.8" x2="476.7" y2="1399.2" stroke="#111" stroke-width="2.5"/>
<line x1="466.7" y1="1397.9" x2="635.5" y2="1397.9" stroke="#111" stroke-width="2.5"/>
<line x1="466.7" y1="1135.1" x2="476.7" y2="1135.1" stroke="#111" stroke-width="2.5"/>
<line x1="466.7" y1="1200.5" x2="476.7" y2="1200.5" stroke="#111" stroke-width="2.5"/>
<line x1="466.7" y1="1266.3" x2="476.7" y2="1266.3" stroke="#111" stroke-width="2.5"/>
<line x1="466.7" y1="1331.7" x2="476.7" y2="1331.7" stroke="#111" stroke-width="2.5"/>
<line x1="466.7" y1="1397.9" x2="476.7" y2="1397.9" stroke="#111" stroke-width="2.5"/>
<line x1="650.6" y1="1133.8" x2="650.6" y2="1399.2" stroke="#111" stroke-width="2.5"/>
<line x1="641.7" y1="1397.9" x2="809" y2="1397.9" stroke="#111" stroke-width="2.5"/>
<line x1="640.6" y1="1135.1" x2="650.6" y2="1135.1" stroke="#111" stroke-width="2.5"/>
<line x1="640.6" y1="1200.5" x2="650.6" y2="1200.5" stroke="#111" stroke-width="2.5"/>
<line x1="640.6" y1="1266.3" x2="650.6" y2="1266.3" stroke="#111" stroke-width="2.5"/>
<line x1="640.6" y1="1331.7" x2="650.6" y2="1331.7" stroke="#111" stroke-width="2.5"/>
<line x1="640.6" y1="1397.9" x2="650.6" y2="1397.9" stroke="#111" stroke-width="2.5"/>
<line x1="863.6" y1="1133.8" x2="863.6" y2="1399.2" stroke="#111" stroke-width="2.5"/>
<line x1="853.2" y1="1397.9" x2="1022" y2="1397.9" stroke="#111" stroke-width="2.5"/>
<line x1="853.6" y1="1135.1" x2="863.6" y2="1135.1" stroke="#111" stroke-width="2.5"/>
<line x1="853.6" y1="1200.5" x2="863.6" y2="1200.5" stroke="#111" stroke-width="2.5"/>
<line x1="853.6" y1="1266.3" x2="863.6" y2="1266.3" stroke="#111" stroke-width="2.5"/>
<line x1="853.6" y1="1331.7" x2="863.6" y2="1331.7" stroke="#111" stroke-width="2.5"/>
<line x1="853.6" y1="1397.9" x2="863.6" y2="1397.9" stroke="#111" stroke-width="2.5"/>
<line x1="1039.3" y1="1133.8" x2="1039.3" y2="1399.2" stroke="#111" stroke-width="2.5"/>
<line x1="1029" y1="1397.9" x2="1197" y2="1397.9" stroke="#111" stroke-width="2.5"/>
<line x1="1029.3" y1="1135.1" x2="1039.3" y2="1135.1" stroke="#111" stroke-width="2.5"/>
<line x1="1029.3" y1="1200.5" x2="1039.3" y2="1200.5" stroke="#111" stroke-width="2.5"/>
<line x1="1029.3" y1="1266.3" x2="1039.3" y2="1266.3" stroke="#111" stroke-width="2.5"/>
<line x1="1029.3" y1="1331.7" x2="1039.3" y2="1331.7" stroke="#111" stroke-width="2.5"/>
<line x1="1029.3" y1="1397.9" x2="1039.3" y2="1397.9" stroke="#111" stroke-width="2.5"/>
<line x1="1214.6" y1="1133.8" x2="1214.6" y2="1399.2" stroke="#111" stroke-width="2.5"/>
<line x1="1204.2" y1="1397.9" x2="1372" y2="1397.9" stroke="#111" stroke-width="2.5"/>
<line x1="1204.6" y1="1135.1" x2="1214.6" y2="1135.1" stroke="#111" stroke-width="2.5"/>
<line x1="1204.6" y1="1200.5" x2="1214.6" y2="1200.5" stroke="#111" stroke-width="2.5"/>
<line x1="1204.6" y1="1266.3" x2="1214.6" y2="1266.3" stroke="#111" stroke-width="2.5"/>
<line x1="1204.6" y1="1331.7" x2="1214.6" y2="1331.7" stroke="#111" stroke-width="2.5"/>
<line x1="1204.6" y1="1397.9" x2="1214.6" y2="1397.9" stroke="#111" stroke-width="2.5"/>
<line x1="1389.6" y1="1133.8" x2="1389.6" y2="1399.2" stroke="#111" stroke-width="2.5"/>
<line x1="1380" y1="1397.9" x2="1548.4" y2="1397.9" stroke="#111" stroke-width="2.5"/>
<line x1="1379.6" y1="1135.1" x2="1389.6" y2="1135.1" stroke="#111" stroke-width="2.5"/>
<line x1="1379.6" y1="1200.5" x2="1389.6" y2="1200.5" stroke="#111" stroke-width="2.5"/>
<line x1="1379.6" y1="1266.3" x2="1389.6" y2="1266.3" stroke="#111" stroke-width="2.5"/>
<line x1="1379.6" y1="1331.7" x2="1389.6" y2="1331.7" stroke="#111" stroke-width="2.5"/>
<line x1="1379.6" y1="1397.9" x2="1389.6" y2="1397.9" stroke="#111" stroke-width="2.5"/>
<text x="115" y="1147.1" font-size="33" text-anchor="end">20</text>
<text x="115" y="1212.5" font-size="33" text-anchor="end">15</text>
<text x="115" y="1278.3" font-size="33" text-anchor="end">10</text>
<text x="115" y="1343.7" font-size="33" text-anchor="end">5</text>
<text x="115" y="1409.9" font-size="33" text-anchor="end">0</text>
<text x="54.5" y="1267" font-size="32.5" text-anchor="middle" transform="rotate(-90 54.5 1267)">% / CD154+Tmem</text>
<text x="210.5" y="1436.6" font-size="33" text-anchor="middle">CD319</text>
<text x="382" y="1436.6" font-size="33" text-anchor="middle">PRF1</text>
<text x="555.2" y="1436.6" font-size="33" text-anchor="middle">GZMB</text>
<text x="729.3" y="1436.6" font-size="33" text-anchor="middle">CCL4</text>
<text x="944" y="1436.6" font-size="33" text-anchor="middle">CD319</text>
<text x="1118.9" y="1436.6" font-size="33" text-anchor="middle">PRF1</text>
<text x="1295.5" y="1436.6" font-size="33" text-anchor="middle">GZMB</text>
<text x="1468.3" y="1436.6" font-size="33" text-anchor="middle">CCL4</text>
<path d="M169.2 1306.4C168.6 1308.1 166.5 1313.1 165.5 1316.8C164.5 1320.5 162.9 1324.8 163.2 1328.7C163.6 1332.7 166.6 1336.6 167.7 1340.6C168.8 1344.6 170.2 1349 169.9 1352.5C169.7 1356 168.1 1358.5 166.2 1361.4C164.3 1364.4 160 1367.1 158.8 1370.4C157.5 1373.6 157.8 1377.5 158.8 1380.8C159.8 1384 163.5 1387.7 164.7 1389.7C166 1391.7 166 1392.2 166.2 1392.7L181.1 1392.7C181.3 1392.2 181.3 1391.7 182.6 1389.7C183.8 1387.7 187.5 1384 188.5 1380.8C189.5 1377.5 189.8 1373.6 188.5 1370.4C187.3 1367.1 182.9 1364.4 181.1 1361.4C179.2 1358.5 177.6 1356 177.4 1352.5C177.1 1349 178.5 1344.6 179.6 1340.6C180.7 1336.6 183.7 1332.7 184.1 1328.7C184.4 1324.8 182.8 1320.5 181.8 1316.8C180.8 1313.1 178.7 1308.1 178.1 1306.4Z" fill="#d2d6d6" stroke="#1c1c1c" stroke-width="1.6" stroke-linejoin="round"/>
<path d="M237.9 1142.8C238.4 1146.8 241.2 1158.8 241.2 1166.6C241.2 1174.4 237.9 1182.7 237.9 1189.7C237.8 1196.6 240.3 1193 240.9 1208.3C241.4 1223.5 241.6 1265.1 241.2 1281.1C240.7 1297.1 238.4 1298 237.9 1304.2C237.3 1310.4 239 1313.5 237.9 1318.3C236.8 1323.1 233.3 1328.7 231.2 1333.2C229.1 1337.6 227 1341.6 225.2 1345.1C223.5 1348.5 221.3 1348.5 220.8 1354C220.3 1359.4 221.8 1371.8 222.3 1377.8C222.8 1383.7 223 1386.3 223.8 1389.7C224.5 1393 226.2 1396.5 226.7 1397.9L256.5 1397.9C257 1396.5 258.7 1393 259.4 1389.7C260.2 1386.3 260.4 1383.7 260.9 1377.8C261.4 1371.8 262.9 1359.4 262.4 1354C261.9 1348.5 259.7 1348.5 258 1345.1C256.2 1341.6 254.1 1337.6 252 1333.2C249.9 1328.7 246.4 1323.1 245.3 1318.3C244.2 1313.5 245.9 1310.4 245.3 1304.2C244.8 1298 242.5 1297.1 242 1281.1C241.5 1265.1 241.8 1223.5 242.3 1208.3C242.9 1193 245.4 1196.6 245.3 1189.7C245.3 1182.7 242 1174.4 242 1166.6C242 1158.8 244.8 1146.8 245.3 1142.8Z" fill="#b7e9f5" stroke="#2a9ccf" stroke-width="1.4" stroke-linejoin="round"/>
<path d="M332.6 1308.6C332.3 1310.3 330.4 1315 331.1 1318.3C331.8 1321.7 335.4 1325 337 1328.7C338.7 1332.4 340.8 1336.9 340.8 1340.6C340.8 1344.3 338.7 1348 337 1351C335.4 1354 331.6 1355.2 331.1 1358.5C330.6 1361.7 334.1 1366.6 334.1 1370.4C334.1 1374.1 332.1 1377.5 331.1 1380.8C330.1 1384 328.4 1387.7 328.1 1389.7C327.9 1391.7 329.4 1392.2 329.6 1392.7L365.3 1392.7C365.5 1392.2 367 1391.7 366.8 1389.7C366.5 1387.7 364.8 1384 363.8 1380.8C362.8 1377.5 360.8 1374.1 360.8 1370.4C360.8 1366.6 364.3 1361.7 363.8 1358.5C363.3 1355.2 359.5 1354 357.9 1351C356.3 1348 354.1 1344.3 354.1 1340.6C354.1 1336.9 356.3 1332.4 357.9 1328.7C359.5 1325 363.1 1321.7 363.8 1318.3C364.6 1315 362.6 1310.3 362.3 1308.6Z" fill="#d2d6d6" stroke="#1c1c1c" stroke-width="1.6" stroke-linejoin="round"/>
<path d="M412.3 1142.8C412.8 1145.6 414.6 1142.3 415.1 1159.2C415.6 1176.1 415.8 1227.1 415.1 1244C414.4 1260.9 411.1 1255.2 411.1 1260.6C411.1 1266.1 414.5 1267.6 415.1 1276.7C415.7 1285.8 416.2 1307.4 414.8 1315.3C413.4 1323.3 409.7 1321.3 406.6 1324.3C403.5 1327.2 398.5 1329.7 396.2 1333.2C394 1336.6 393.3 1340.1 393.3 1345.1C393.3 1350 395.2 1357.7 396.2 1362.9C397.2 1368.1 398.7 1374.1 399.2 1376.3L431.9 1376.3C432.4 1374.1 433.9 1368.1 434.9 1362.9C435.9 1357.7 437.9 1350 437.9 1345.1C437.9 1340.1 437.1 1336.6 434.9 1333.2C432.7 1329.7 427.6 1327.2 424.5 1324.3C421.4 1321.3 417.7 1323.3 416.3 1315.3C414.9 1307.4 415.4 1285.8 416 1276.7C416.6 1267.6 420 1266.1 420 1260.6C420 1255.2 416.7 1260.9 416 1244C415.3 1227.1 415.5 1176.1 416 1159.2C416.5 1142.3 418.4 1145.6 418.8 1142.8Z" fill="#b7e9f5" stroke="#2a9ccf" stroke-width="1.4" stroke-linejoin="round"/>
<path d="M521.3 1294.5C521.3 1305.9 521.9 1350.5 521.3 1362.9C520.6 1375.3 519.7 1366.6 517.2 1368.9C514.8 1371.1 509.6 1374.1 506.8 1376.3C504.1 1378.5 500.9 1379.8 500.9 1382.2C500.9 1384.7 506.6 1388.6 506.8 1391.2C507.1 1393.8 503.1 1396.7 502.4 1397.9L541 1397.9C540.3 1396.7 536.3 1393.8 536.6 1391.2C536.8 1388.6 542.5 1384.7 542.5 1382.2C542.5 1379.8 539.3 1378.5 536.6 1376.3C533.9 1374.1 528.6 1371.1 526.2 1368.9C523.8 1366.6 522.8 1375.3 522.2 1362.9C521.5 1350.5 522.2 1305.9 522.2 1294.5Z" fill="#d2d6d6" stroke="#1c1c1c" stroke-width="1.6" stroke-linejoin="round"/>
<path d="M589.2 1329.9C589.2 1333.9 590.1 1348.5 589.2 1354C588.3 1359.5 586.6 1360.2 583.7 1362.9C580.8 1365.6 574.3 1367.9 571.8 1370.4C569.3 1372.8 569.1 1374.6 568.8 1377.8C568.6 1381 569.3 1387.2 570.3 1389.7C571.3 1392.2 574.1 1392.2 574.8 1392.7L604.5 1392.7C605.3 1392.2 608 1392.2 609 1389.7C610 1387.2 610.7 1381 610.5 1377.8C610.2 1374.6 610 1372.8 607.5 1370.4C605 1367.9 598.5 1365.6 595.6 1362.9C592.7 1360.2 591 1359.5 590.1 1354C589.2 1348.5 590.1 1333.9 590.1 1329.9Z" fill="#b7e9f5" stroke="#2a9ccf" stroke-width="1.4" stroke-linejoin="round"/>
<path d="M687.8 1358.5C687.5 1360.4 686.8 1366.6 686.3 1370.4C685.8 1374.1 684.6 1377.8 684.8 1380.8C685.1 1383.7 687.3 1387 687.8 1388.2L702.7 1388.2C703.2 1387 705.4 1383.7 705.6 1380.8C705.9 1377.8 704.6 1374.1 704.1 1370.4C703.6 1366.6 702.9 1360.4 702.7 1358.5Z" fill="#d2d6d6" stroke="#1c1c1c" stroke-width="1.6" stroke-linejoin="round"/>
<path d="M760.7 1281.1C761.1 1284.6 763.6 1295.2 763.5 1302C763.4 1308.7 760.2 1315.9 760.2 1321.6C760.2 1327.3 763.5 1331.5 763.5 1336.2C763.5 1340.8 761.5 1344.8 760.2 1349.2C758.9 1353.7 757.4 1358.2 755.7 1362.9C754.1 1367.7 751.9 1373.8 750.5 1377.8C749.2 1381.8 748.3 1383.4 747.6 1386.7C746.8 1390.1 746.3 1396 746.1 1397.9L781.8 1397.9C781.5 1396 781 1390.1 780.3 1386.7C779.5 1383.4 778.7 1381.8 777.3 1377.8C775.9 1373.8 773.7 1367.7 772.1 1362.9C770.5 1358.2 768.9 1353.7 767.6 1349.2C766.4 1344.8 764.4 1340.8 764.4 1336.2C764.4 1331.5 767.6 1327.3 767.6 1321.6C767.6 1315.9 764.4 1308.7 764.4 1302C764.3 1295.2 766.7 1284.6 767.2 1281.1Z" fill="#b7e9f5" stroke="#2a9ccf" stroke-width="1.4" stroke-linejoin="round"/>
<path d="M904.5 1280.7C904.7 1284.5 905.8 1297.2 906 1303.4C906.1 1309.7 905.5 1313.4 905.2 1318.3C905 1323.3 904.9 1328.2 904.5 1333.2C904.1 1338.1 903.7 1343.6 903 1348C902.2 1352.5 901.1 1356.2 900 1359.9C898.9 1363.7 897.9 1366.9 896.3 1370.4C894.7 1373.8 891.8 1378 890.4 1380.8C888.9 1383.5 887.9 1384 887.4 1386.7C886.9 1389.4 887.4 1395.4 887.4 1397.1L929 1397.1C929 1395.4 929.5 1389.4 929 1386.7C928.5 1384 927.5 1383.5 926 1380.8C924.6 1378 921.7 1373.8 920.1 1370.4C918.5 1366.9 917.5 1363.7 916.4 1359.9C915.3 1356.2 914.1 1352.5 913.4 1348C912.7 1343.6 912.3 1338.1 911.9 1333.2C911.5 1328.2 911.4 1323.3 911.2 1318.3C910.9 1313.4 910.3 1309.7 910.4 1303.4C910.6 1297.2 911.7 1284.5 911.9 1280.7Z" fill="#d2d6d6" stroke="#1c1c1c" stroke-width="1.6" stroke-linejoin="round"/>
<path d="M971.7 1224.3C971.7 1230.1 971.8 1249.4 971.7 1258.8C971.6 1268.3 971.4 1273.7 970.9 1281.1C970.5 1288.6 969.2 1297.2 968.7 1303.4C968.2 1309.6 967.9 1313.4 968 1318.3C968.1 1323.3 969.3 1328.2 969.5 1333.2C969.6 1338.1 969.6 1343.1 968.7 1348C967.9 1353 966 1358.5 964.3 1362.9C962.5 1367.4 959.9 1371.3 958.3 1374.8C956.7 1378.3 955.1 1379.8 954.6 1383.7C954.1 1387.7 955.2 1396.1 955.3 1398.6L997 1398.6C997.1 1396.1 998.2 1387.7 997.7 1383.7C997.2 1379.8 995.6 1378.3 994 1374.8C992.4 1371.3 989.8 1367.4 988 1362.9C986.3 1358.5 984.5 1353 983.6 1348C982.7 1343.1 982.7 1338.1 982.8 1333.2C983 1328.2 984.2 1323.3 984.3 1318.3C984.5 1313.4 984.1 1309.6 983.6 1303.4C983.1 1297.2 981.9 1288.6 981.4 1281.1C980.9 1273.7 980.7 1268.3 980.6 1258.8C980.5 1249.4 980.6 1230.1 980.6 1224.3Z" fill="#b7e9f5" stroke="#2a9ccf" stroke-width="1.4" stroke-linejoin="round"/>
<path d="M1077.5 1308.6C1078.3 1311 1081.2 1318.7 1081.9 1322.8C1082.5 1326.9 1082.4 1329 1081.4 1333.2C1080.5 1337.4 1077.4 1343.1 1076.2 1348C1075 1353 1074.7 1358.5 1074 1362.9C1073.2 1367.4 1073.1 1371.3 1071.7 1374.8C1070.4 1378.3 1067.5 1381 1065.8 1383.7C1064.1 1386.5 1062.1 1388.8 1061.3 1391.2C1060.6 1393.5 1061.3 1396.7 1061.3 1397.9L1105.9 1397.9C1105.9 1396.7 1106.7 1393.5 1105.9 1391.2C1105.2 1388.8 1103.2 1386.5 1101.5 1383.7C1099.8 1381 1096.9 1378.3 1095.5 1374.8C1094.2 1371.3 1094.1 1367.4 1093.3 1362.9C1092.6 1358.5 1092.3 1353 1091.1 1348C1089.8 1343.1 1086.8 1337.4 1085.9 1333.2C1084.9 1329 1084.8 1326.9 1085.4 1322.8C1086.1 1318.7 1089 1311 1089.7 1308.6Z" fill="#d2d6d6" stroke="#1c1c1c" stroke-width="1.6" stroke-linejoin="round"/>
<path d="M1147.9 1229.8C1148.4 1232.9 1151.3 1241.1 1151.2 1248.4C1151 1255.7 1148.4 1266.5 1147.1 1273.7C1145.8 1280.9 1143.4 1286.1 1143.4 1291.5C1143.4 1297 1146 1302 1147.1 1306.4C1148.3 1310.9 1150.6 1314.3 1150.1 1318.3C1149.6 1322.3 1146.6 1326.7 1144.2 1330.2C1141.7 1333.7 1137.5 1336.4 1135.2 1339.1C1133 1341.9 1131.3 1342.6 1130.8 1346.6C1130.3 1350.5 1131.6 1357.7 1132.3 1362.9C1132.9 1368.1 1133.9 1372.8 1134.5 1377.8C1135.1 1382.7 1135.6 1389.3 1136 1392.7C1136.4 1396 1136.6 1397 1136.7 1397.9L1166.5 1397.9C1166.6 1397 1166.8 1396 1167.2 1392.7C1167.6 1389.3 1168.1 1382.7 1168.7 1377.8C1169.3 1372.8 1170.3 1368.1 1170.9 1362.9C1171.5 1357.7 1172.9 1350.5 1172.4 1346.6C1171.9 1342.6 1170.2 1341.9 1168 1339.1C1165.7 1336.4 1161.5 1333.7 1159 1330.2C1156.6 1326.7 1153.6 1322.3 1153.1 1318.3C1152.6 1314.3 1154.9 1310.9 1156.1 1306.4C1157.2 1302 1159.8 1297 1159.8 1291.5C1159.8 1286.1 1157.3 1280.9 1156.1 1273.7C1154.8 1266.5 1152.2 1255.7 1152 1248.4C1151.9 1241.1 1154.8 1232.9 1155.3 1229.8Z" fill="#b7e9f5" stroke="#2a9ccf" stroke-width="1.4" stroke-linejoin="round"/>
<path d="M1256.3 1313.8C1256.5 1317.1 1257.6 1327.5 1257.5 1333.2C1257.3 1338.9 1256.5 1343.6 1255.5 1348C1254.6 1352.5 1252.5 1356.2 1251.8 1359.9C1251.1 1363.7 1251.6 1367.4 1251.1 1370.4C1250.6 1373.3 1249.9 1375.6 1248.8 1377.8C1247.7 1380 1245.9 1382.2 1244.4 1383.7C1242.9 1385.2 1240.9 1384.5 1239.9 1386.7C1238.9 1388.9 1238.7 1395.4 1238.4 1397.1L1280.1 1397.1C1279.8 1395.4 1279.6 1388.9 1278.6 1386.7C1277.6 1384.5 1275.6 1385.2 1274.1 1383.7C1272.6 1382.2 1270.8 1380 1269.6 1377.8C1268.5 1375.6 1267.9 1373.3 1267.4 1370.4C1266.9 1367.4 1267.4 1363.7 1266.7 1359.9C1265.9 1356.2 1263.9 1352.5 1263 1348C1262 1343.6 1261.1 1338.9 1261 1333.2C1260.9 1327.5 1262 1317.1 1262.2 1313.8Z" fill="#d2d6d6" stroke="#1c1c1c" stroke-width="1.6" stroke-linejoin="round"/>
<path d="M1324.4 1304.2C1324.2 1307 1324.4 1316.4 1323.6 1321.3C1322.9 1326.1 1321 1329.2 1319.9 1333.2C1318.8 1337.1 1317.4 1340.1 1316.9 1345.1C1316.4 1350 1317.7 1358 1316.9 1362.9C1316.2 1367.9 1313.7 1371.8 1312.5 1374.8C1311.2 1377.8 1310 1377.8 1309.5 1380.8C1309 1383.7 1309.3 1389.8 1309.5 1392.7C1309.7 1395.5 1310.7 1397 1311 1397.9L1343.7 1397.9C1343.9 1397 1344.9 1395.5 1345.2 1392.7C1345.4 1389.8 1345.7 1383.7 1345.2 1380.8C1344.7 1377.8 1343.5 1377.8 1342.2 1374.8C1341 1371.8 1338.5 1367.9 1337.8 1362.9C1337 1358 1338.2 1350 1337.8 1345.1C1337.3 1340.1 1335.9 1337.1 1334.8 1333.2C1333.7 1329.2 1331.8 1326.1 1331.1 1321.3C1330.3 1316.4 1330.4 1307 1330.3 1304.2Z" fill="#b7e9f5" stroke="#2a9ccf" stroke-width="1.4" stroke-linejoin="round"/>
<path d="M1429.5 1359.2C1430.3 1360.1 1433.4 1360.3 1434.2 1364.4C1435 1368.5 1436.6 1379.5 1434.2 1383.7C1431.8 1387.9 1423 1387.3 1419.8 1389.7C1416.7 1392 1416.1 1396.5 1415.4 1397.9L1454 1397.9C1453.3 1396.5 1452.7 1392 1449.6 1389.7C1446.4 1387.3 1437.5 1387.9 1435.1 1383.7C1432.7 1379.5 1434.3 1368.5 1435.1 1364.4C1435.9 1360.3 1439.1 1360.1 1439.9 1359.2Z" fill="#d2d6d6" stroke="#1c1c1c" stroke-width="1.6" stroke-linejoin="round"/>
<path d="M1496.4 1354.7C1497.3 1356.4 1501.6 1361.1 1501.9 1364.4C1502.2 1367.8 1499.5 1371.3 1498.2 1374.8C1496.8 1378.3 1495.9 1382.2 1493.7 1385.2C1491.5 1388.2 1486.5 1390.6 1484.8 1392.7C1483.1 1394.8 1483.6 1397 1483.3 1397.9L1522 1397.9C1521.7 1397 1522.2 1394.8 1520.5 1392.7C1518.7 1390.6 1513.8 1388.2 1511.6 1385.2C1509.3 1382.2 1508.5 1378.3 1507.1 1374.8C1505.7 1371.3 1503.1 1367.8 1503.4 1364.4C1503.7 1361.1 1508 1356.4 1508.9 1354.7Z" fill="#b7e9f5" stroke="#2a9ccf" stroke-width="1.4" stroke-linejoin="round"/>
<g fill="#464b4c" stroke="#151515" stroke-width="1.5">
<circle cx="173.6" cy="1306.4" r="5.9"/>
<circle cx="173.6" cy="1319.1" r="5.9"/>
<circle cx="156.8" cy="1325.7" r="5.9"/>
<circle cx="190.3" cy="1325.7" r="5.9"/>
<circle cx="190.3" cy="1336.2" r="5.9"/>
<circle cx="156.8" cy="1339.9" r="5.9"/>
<circle cx="156.8" cy="1364.4" r="5.9"/>
<circle cx="173.9" cy="1366.6" r="5.9"/>
<circle cx="190.3" cy="1363.7" r="5.9"/>
<circle cx="156.8" cy="1371.1" r="5.9"/>
<circle cx="179.1" cy="1372.6" r="5.9"/>
<circle cx="190.3" cy="1374.8" r="5.9"/>
<circle cx="168" cy="1377.8" r="5.9"/>
<circle cx="173.9" cy="1383.7" r="5.9"/>
<circle cx="190.3" cy="1384.5" r="5.9"/>
<circle cx="156.8" cy="1393.4" r="5.9"/>
</g>
<g fill="#30d5f2" stroke="#1b9fd1" stroke-width="1.5">
<circle cx="241.6" cy="1142.8" r="5.9"/>
<circle cx="241.6" cy="1189.7" r="5.9"/>
<circle cx="241.6" cy="1304.2" r="5.9"/>
<circle cx="241.6" cy="1343.6" r="5.9"/>
<circle cx="235.7" cy="1352.5" r="5.9"/>
<circle cx="247.5" cy="1356.2" r="5.9"/>
<circle cx="258.7" cy="1353.3" r="5.9"/>
<circle cx="224.5" cy="1358.5" r="5.9"/>
<circle cx="235.7" cy="1377.8" r="5.9"/>
<circle cx="224.5" cy="1385.2" r="5.9"/>
<circle cx="246.8" cy="1384.5" r="5.9"/>
<circle cx="258.7" cy="1380.8" r="5.9"/>
<circle cx="258.7" cy="1389.7" r="5.9"/>
<circle cx="224.5" cy="1397.9" r="5.9"/>
</g>
<g fill="#464b4c" stroke="#151515" stroke-width="1.5">
<circle cx="330.4" cy="1310.1" r="5.9"/>
<circle cx="347.5" cy="1307.9" r="5.9"/>
<circle cx="364.6" cy="1317.6" r="5.9"/>
<circle cx="347.5" cy="1321.3" r="5.9"/>
<circle cx="364.6" cy="1322.8" r="5.9"/>
<circle cx="330.4" cy="1332.4" r="5.9"/>
<circle cx="330.4" cy="1356.2" r="5.9"/>
<circle cx="347.5" cy="1354.7" r="5.9"/>
<circle cx="364.6" cy="1360.7" r="5.9"/>
<circle cx="347.5" cy="1365.9" r="5.9"/>
<circle cx="347.5" cy="1374.8" r="5.9"/>
<circle cx="338.5" cy="1385.2" r="5.9"/>
<circle cx="355.6" cy="1386" r="5.9"/>
<circle cx="330.4" cy="1389.7" r="5.9"/>
<circle cx="347.5" cy="1390.4" r="5.9"/>
<circle cx="364.6" cy="1389.7" r="5.9"/>
</g>
<g fill="#30d5f2" stroke="#1b9fd1" stroke-width="1.5">
<circle cx="415.6" cy="1142.8" r="5.9"/>
<circle cx="415.6" cy="1260.6" r="5.9"/>
<circle cx="420.6" cy="1331.7" r="5.9"/>
<circle cx="409.6" cy="1333.9" r="5.9"/>
<circle cx="433" cy="1335.4" r="5.9"/>
<circle cx="398.8" cy="1340.6" r="5.9"/>
<circle cx="433" cy="1346.6" r="5.9"/>
<circle cx="415.6" cy="1352.5" r="5.9"/>
<circle cx="398.8" cy="1362.2" r="5.9"/>
<circle cx="433" cy="1362.9" r="5.9"/>
<circle cx="415.6" cy="1371.8" r="5.9"/>
<circle cx="398.8" cy="1374.8" r="5.9"/>
<circle cx="433" cy="1374.8" r="5.9"/>
</g>
<g fill="#464b4c" stroke="#151515" stroke-width="1.5">
<circle cx="521.7" cy="1294.5" r="5.9"/>
<circle cx="521.7" cy="1350.3" r="5.9"/>
<circle cx="521.7" cy="1373.3" r="5.9"/>
<circle cx="509.8" cy="1379.3" r="5.9"/>
<circle cx="528.4" cy="1377.8" r="5.9"/>
<circle cx="538.8" cy="1379.3" r="5.9"/>
<circle cx="504.6" cy="1382.2" r="5.9"/>
<circle cx="521.7" cy="1383" r="5.9"/>
<circle cx="511.3" cy="1391.2" r="5.9"/>
<circle cx="524.7" cy="1391.2" r="5.9"/>
<circle cx="504.6" cy="1397.9" r="5.9"/>
<circle cx="518" cy="1398.6" r="5.9"/>
<circle cx="531.4" cy="1397.9" r="5.9"/>
<circle cx="539.6" cy="1397.9" r="5.9"/>
</g>
<g fill="#30d5f2" stroke="#1b9fd1" stroke-width="1.5">
<circle cx="589.7" cy="1329.9" r="5.9"/>
<circle cx="589.7" cy="1360.7" r="5.9"/>
<circle cx="577.5" cy="1368.9" r="5.9"/>
<circle cx="596.8" cy="1369.6" r="5.9"/>
<circle cx="603.5" cy="1368.9" r="5.9"/>
<circle cx="572.3" cy="1376.3" r="5.9"/>
<circle cx="589.7" cy="1375.6" r="5.9"/>
<circle cx="607.2" cy="1376.3" r="5.9"/>
<circle cx="583.4" cy="1380.8" r="5.9"/>
<circle cx="599.8" cy="1379.3" r="5.9"/>
<circle cx="572.3" cy="1389.7" r="5.9"/>
<circle cx="593.8" cy="1389.7" r="5.9"/>
<circle cx="606.5" cy="1388.2" r="5.9"/>
</g>
<g fill="#464b4c" stroke="#151515" stroke-width="1.5">
<circle cx="678.1" cy="1362.9" r="5.9"/>
<circle cx="695.2" cy="1361.4" r="5.9"/>
<circle cx="712.3" cy="1358.5" r="5.9"/>
<circle cx="712.3" cy="1370.4" r="5.9"/>
<circle cx="678.1" cy="1374.1" r="5.9"/>
<circle cx="695.2" cy="1380" r="5.9"/>
<circle cx="712.3" cy="1377.8" r="5.9"/>
<circle cx="678.1" cy="1384.5" r="5.9"/>
<circle cx="684.8" cy="1390.4" r="5.9"/>
<circle cx="703.4" cy="1391.2" r="5.9"/>
<circle cx="678.1" cy="1397.9" r="5.9"/>
<circle cx="688.5" cy="1397.9" r="5.9"/>
<circle cx="698.9" cy="1397.9" r="5.9"/>
<circle cx="712.3" cy="1397.9" r="5.9"/>
<circle cx="706.4" cy="1394.1" r="5.9"/>
</g>
<g fill="#30d5f2" stroke="#1b9fd1" stroke-width="1.5">
<circle cx="763.9" cy="1281.1" r="5.9"/>
<circle cx="763.9" cy="1321.6" r="5.9"/>
<circle cx="763.9" cy="1349.2" r="5.9"/>
<circle cx="746.2" cy="1366.6" r="5.9"/>
<circle cx="780.7" cy="1365.1" r="5.9"/>
<circle cx="763.9" cy="1374.8" r="5.9"/>
<circle cx="746.2" cy="1383" r="5.9"/>
<circle cx="780.7" cy="1383" r="5.9"/>
<circle cx="754" cy="1389.7" r="5.9"/>
<circle cx="765.9" cy="1391.2" r="5.9"/>
<circle cx="746.2" cy="1394.1" r="5.9"/>
<circle cx="780.7" cy="1392.7" r="5.9"/>
<circle cx="758.4" cy="1397.1" r="5.9"/>
<circle cx="773.3" cy="1397.9" r="5.9"/>
</g>
<g fill="#464b4c" stroke="#151515" stroke-width="1.5">
<circle cx="908.2" cy="1280.7" r="5.9"/>
<circle cx="908.2" cy="1295.3" r="5.9"/>
<circle cx="908.2" cy="1324.3" r="5.9"/>
<circle cx="908.2" cy="1342.8" r="5.9"/>
<circle cx="908.2" cy="1359.9" r="5.9"/>
<circle cx="925.3" cy="1363.7" r="5.9"/>
<circle cx="891.5" cy="1370.1" r="5.9"/>
<circle cx="891.5" cy="1384.5" r="5.9"/>
<circle cx="925.3" cy="1384.5" r="5.9"/>
<circle cx="897" cy="1386.7" r="5.9"/>
<circle cx="919.3" cy="1388.2" r="5.9"/>
<circle cx="908.2" cy="1386.7" r="5.9"/>
<circle cx="891.5" cy="1394.1" r="5.9"/>
<circle cx="902.2" cy="1394.1" r="5.9"/>
<circle cx="925.3" cy="1394.1" r="5.9"/>
<circle cx="913.4" cy="1397.1" r="5.9"/>
</g>
<g fill="#30d5f2" stroke="#1b9fd1" stroke-width="1.5">
<circle cx="976.2" cy="1224.3" r="5.9"/>
<circle cx="976.2" cy="1258.1" r="5.9"/>
<circle cx="992.7" cy="1299.3" r="5.9"/>
<circle cx="959.2" cy="1309.8" r="5.9"/>
<circle cx="976.2" cy="1322.3" r="5.9"/>
<circle cx="976.2" cy="1344.3" r="5.9"/>
<circle cx="976.2" cy="1378.5" r="5.9"/>
<circle cx="959.2" cy="1392.7" r="5.9"/>
<circle cx="969.9" cy="1392.7" r="5.9"/>
<circle cx="987" cy="1391.2" r="5.9"/>
<circle cx="992.7" cy="1397.1" r="5.9"/>
<circle cx="980.3" cy="1398.6" r="5.9"/>
<circle cx="959.2" cy="1386.7" r="5.9"/>
<circle cx="992.7" cy="1386.7" r="5.9"/>
</g>
<g fill="#464b4c" stroke="#151515" stroke-width="1.5">
<circle cx="1066.8" cy="1309.4" r="5.9"/>
<circle cx="1100.7" cy="1308.2" r="5.9"/>
<circle cx="1083.6" cy="1339.1" r="5.9"/>
<circle cx="1083.6" cy="1352.5" r="5.9"/>
<circle cx="1083.6" cy="1357" r="5.9"/>
<circle cx="1066.8" cy="1365.1" r="5.9"/>
<circle cx="1100.7" cy="1365.1" r="5.9"/>
<circle cx="1083.6" cy="1380" r="5.9"/>
<circle cx="1070.6" cy="1388.9" r="5.9"/>
<circle cx="1091.1" cy="1389.7" r="5.9"/>
<circle cx="1076.5" cy="1392.7" r="5.9"/>
<circle cx="1066.8" cy="1397.9" r="5.9"/>
<circle cx="1085.4" cy="1397.9" r="5.9"/>
<circle cx="1100.7" cy="1397.9" r="5.9"/>
<circle cx="1094.3" cy="1397.1" r="5.9"/>
</g>
<g fill="#30d5f2" stroke="#1b9fd1" stroke-width="1.5">
<circle cx="1151.6" cy="1229.8" r="5.9"/>
<circle cx="1168.4" cy="1286.8" r="5.9"/>
<circle cx="1134.5" cy="1296" r="5.9"/>
<circle cx="1134.5" cy="1346.6" r="5.9"/>
<circle cx="1168.4" cy="1346.6" r="5.9"/>
<circle cx="1134.5" cy="1352.5" r="5.9"/>
<circle cx="1168.4" cy="1352.5" r="5.9"/>
<circle cx="1151.6" cy="1362.9" r="5.9"/>
<circle cx="1168.4" cy="1366.6" r="5.9"/>
<circle cx="1134.5" cy="1370.4" r="5.9"/>
<circle cx="1151.6" cy="1386.7" r="5.9"/>
<circle cx="1168.4" cy="1388.9" r="5.9"/>
<circle cx="1134.5" cy="1397.9" r="5.9"/>
</g>
<g fill="#464b4c" stroke="#151515" stroke-width="1.5">
<circle cx="1259.2" cy="1313.8" r="5.9"/>
<circle cx="1259.2" cy="1329.5" r="5.9"/>
<circle cx="1259.2" cy="1351.8" r="5.9"/>
<circle cx="1259.2" cy="1359.9" r="5.9"/>
<circle cx="1276" cy="1364.4" r="5.9"/>
<circle cx="1242.3" cy="1368.9" r="5.9"/>
<circle cx="1276" cy="1383" r="5.9"/>
<circle cx="1242.3" cy="1384.5" r="5.9"/>
<circle cx="1259.2" cy="1386" r="5.9"/>
<circle cx="1247.8" cy="1387.5" r="5.9"/>
<circle cx="1269.3" cy="1388.9" r="5.9"/>
<circle cx="1242.3" cy="1394.1" r="5.9"/>
<circle cx="1253.7" cy="1393.4" r="5.9"/>
<circle cx="1276" cy="1397.1" r="5.9"/>
<circle cx="1264.1" cy="1398.6" r="5.9"/>
</g>
<g fill="#30d5f2" stroke="#1b9fd1" stroke-width="1.5">
<circle cx="1327.3" cy="1304.2" r="5.9"/>
<circle cx="1327.3" cy="1329.9" r="5.9"/>
<circle cx="1344.4" cy="1345.1" r="5.9"/>
<circle cx="1310.2" cy="1349.2" r="5.9"/>
<circle cx="1344.4" cy="1354.7" r="5.9"/>
<circle cx="1310.2" cy="1363.7" r="5.9"/>
<circle cx="1321.4" cy="1377" r="5.9"/>
<circle cx="1344.4" cy="1378.5" r="5.9"/>
<circle cx="1310.2" cy="1386" r="5.9"/>
<circle cx="1332.5" cy="1384.5" r="5.9"/>
<circle cx="1321.4" cy="1391.2" r="5.9"/>
<circle cx="1344.4" cy="1392.7" r="5.9"/>
<circle cx="1310.2" cy="1397.1" r="5.9"/>
<circle cx="1332.5" cy="1397.9" r="5.9"/>
</g>
<g fill="#464b4c" stroke="#151515" stroke-width="1.5">
<circle cx="1417.6" cy="1359.9" r="5.9"/>
<circle cx="1452.1" cy="1358.8" r="5.9"/>
<circle cx="1434.7" cy="1375.6" r="5.9"/>
<circle cx="1420.6" cy="1388.9" r="5.9"/>
<circle cx="1431" cy="1391.2" r="5.9"/>
<circle cx="1445.1" cy="1392.7" r="5.9"/>
<circle cx="1417.6" cy="1397.1" r="5.9"/>
<circle cx="1428.7" cy="1397.9" r="5.9"/>
<circle cx="1439.9" cy="1397.9" r="5.9"/>
<circle cx="1452.1" cy="1397.1" r="5.9"/>
<circle cx="1434.7" cy="1394.4" r="5.9"/>
</g>
<g fill="#30d5f2" stroke="#1b9fd1" stroke-width="1.5">
<circle cx="1486" cy="1357" r="5.9"/>
<circle cx="1520.2" cy="1354.7" r="5.9"/>
<circle cx="1502.3" cy="1371.8" r="5.9"/>
<circle cx="1519.4" cy="1375.6" r="5.9"/>
<circle cx="1502.3" cy="1380" r="5.9"/>
<circle cx="1485.2" cy="1383" r="5.9"/>
<circle cx="1490.4" cy="1388.2" r="5.9"/>
<circle cx="1485.2" cy="1395.6" r="5.9"/>
<circle cx="1504.6" cy="1397.1" r="5.9"/>
<circle cx="1519.4" cy="1395.6" r="5.9"/>
<circle cx="1496.4" cy="1394.1" r="5.9"/>
<circle cx="1512.8" cy="1394.1" r="5.9"/>
</g>
<line x1="162.5" y1="1329.5" x2="184.8" y2="1329.5" stroke="#7d8686" stroke-width="1" stroke-dasharray="1.5 2" opacity="0.7"/>
<line x1="162.5" y1="1380.8" x2="184.8" y2="1380.8" stroke="#7d8686" stroke-width="1" stroke-dasharray="1.5 2" opacity="0.7"/>
<line x1="158.8" y1="1367.4" x2="188.5" y2="1367.4" stroke="#8e9595" stroke-width="2.4" stroke-dasharray="12 5.5" opacity="0.75"/>
<line x1="226.5" y1="1333.2" x2="256.7" y2="1333.2" stroke="#5fb4d6" stroke-width="1" stroke-dasharray="1.5 2" opacity="0.7"/>
<line x1="226.5" y1="1385.2" x2="256.7" y2="1385.2" stroke="#5fb4d6" stroke-width="1" stroke-dasharray="1.5 2" opacity="0.7"/>
<line x1="221.5" y1="1357.7" x2="261.7" y2="1357.7" stroke="#1d2fa0" stroke-width="3.2" stroke-dasharray="11.5 5.5"/>
<line x1="336.9" y1="1321.3" x2="358" y2="1321.3" stroke="#7d8686" stroke-width="1" stroke-dasharray="1.5 2" opacity="0.7"/>
<line x1="336.9" y1="1385.2" x2="358" y2="1385.2" stroke="#7d8686" stroke-width="1" stroke-dasharray="1.5 2" opacity="0.7"/>
<line x1="333.3" y1="1359.6" x2="361.6" y2="1359.6" stroke="#8e9595" stroke-width="2.4" stroke-dasharray="12 5.5" opacity="0.75"/>
<line x1="400.5" y1="1333.2" x2="430.6" y2="1333.2" stroke="#5fb4d6" stroke-width="1" stroke-dasharray="1.5 2" opacity="0.7"/>
<line x1="400.5" y1="1362.9" x2="430.6" y2="1362.9" stroke="#5fb4d6" stroke-width="1" stroke-dasharray="1.5 2" opacity="0.7"/>
<line x1="395.5" y1="1344.8" x2="435.6" y2="1344.8" stroke="#1d2fa0" stroke-width="3.2" stroke-dasharray="11.5 5.5"/>
<line x1="509.4" y1="1377.8" x2="534" y2="1377.8" stroke="#7d8686" stroke-width="1" stroke-dasharray="1.5 2" opacity="0.7"/>
<line x1="509.4" y1="1392.7" x2="534" y2="1392.7" stroke="#7d8686" stroke-width="1" stroke-dasharray="1.5 2" opacity="0.7"/>
<line x1="505.4" y1="1382" x2="538.1" y2="1382" stroke="#8e9595" stroke-width="2.4" stroke-dasharray="12 5.5" opacity="0.75"/>
<line x1="573.5" y1="1370.4" x2="605.8" y2="1370.4" stroke="#5fb4d6" stroke-width="1" stroke-dasharray="1.5 2" opacity="0.7"/>
<line x1="573.5" y1="1386.7" x2="605.8" y2="1386.7" stroke="#5fb4d6" stroke-width="1" stroke-dasharray="1.5 2" opacity="0.7"/>
<line x1="568.1" y1="1376" x2="611.2" y2="1376" stroke="#1d2fa0" stroke-width="3.2" stroke-dasharray="11.5 5.5"/>
<line x1="688.5" y1="1371.8" x2="701.9" y2="1371.8" stroke="#7d8686" stroke-width="1" stroke-dasharray="1.5 2" opacity="0.7"/>
<line x1="688.5" y1="1392.7" x2="701.9" y2="1392.7" stroke="#7d8686" stroke-width="1" stroke-dasharray="1.5 2" opacity="0.7"/>
<line x1="686.3" y1="1386" x2="704.1" y2="1386" stroke="#8e9595" stroke-width="2.4" stroke-dasharray="12 5.5" opacity="0.75"/>
<line x1="753.3" y1="1362.9" x2="774.5" y2="1362.9" stroke="#5fb4d6" stroke-width="1" stroke-dasharray="1.5 2" opacity="0.7"/>
<line x1="753.3" y1="1392.7" x2="774.5" y2="1392.7" stroke="#5fb4d6" stroke-width="1" stroke-dasharray="1.5 2" opacity="0.7"/>
<line x1="749.8" y1="1384" x2="778" y2="1384" stroke="#1d2fa0" stroke-width="3.2" stroke-dasharray="11.5 5.5"/>
<line x1="894.8" y1="1370.4" x2="921.6" y2="1370.4" stroke="#7d8686" stroke-width="1" stroke-dasharray="1.5 2" opacity="0.7"/>
<line x1="894.8" y1="1392.7" x2="921.6" y2="1392.7" stroke="#7d8686" stroke-width="1" stroke-dasharray="1.5 2" opacity="0.7"/>
<line x1="890.4" y1="1385.5" x2="926" y2="1385.5" stroke="#8e9595" stroke-width="2.4" stroke-dasharray="12 5.5" opacity="0.75"/>
<line x1="961.1" y1="1307.9" x2="991.2" y2="1307.9" stroke="#5fb4d6" stroke-width="1" stroke-dasharray="1.5 2" opacity="0.7"/>
<line x1="961.1" y1="1391.2" x2="991.2" y2="1391.2" stroke="#5fb4d6" stroke-width="1" stroke-dasharray="1.5 2" opacity="0.7"/>
<line x1="956.1" y1="1383" x2="996.2" y2="1383" stroke="#1d2fa0" stroke-width="3.2" stroke-dasharray="11.5 5.5"/>
<line x1="1071.9" y1="1357" x2="1095.4" y2="1357" stroke="#7d8686" stroke-width="1" stroke-dasharray="1.5 2" opacity="0.7"/>
<line x1="1071.9" y1="1392.7" x2="1095.4" y2="1392.7" stroke="#7d8686" stroke-width="1" stroke-dasharray="1.5 2" opacity="0.7"/>
<line x1="1068" y1="1384.9" x2="1099.3" y2="1384.9" stroke="#8e9595" stroke-width="2.4" stroke-dasharray="12 5.5" opacity="0.75"/>
<line x1="1135.4" y1="1336.2" x2="1167.8" y2="1336.2" stroke="#5fb4d6" stroke-width="1" stroke-dasharray="1.5 2" opacity="0.7"/>
<line x1="1135.4" y1="1386.7" x2="1167.8" y2="1386.7" stroke="#5fb4d6" stroke-width="1" stroke-dasharray="1.5 2" opacity="0.7"/>
<line x1="1130" y1="1357.3" x2="1173.2" y2="1357.3" stroke="#1d2fa0" stroke-width="3.2" stroke-dasharray="11.5 5.5"/>
<line x1="1244.7" y1="1362.9" x2="1273.7" y2="1362.9" stroke="#7d8686" stroke-width="1" stroke-dasharray="1.5 2" opacity="0.7"/>
<line x1="1244.7" y1="1392.7" x2="1273.7" y2="1392.7" stroke="#7d8686" stroke-width="1" stroke-dasharray="1.5 2" opacity="0.7"/>
<line x1="1239.9" y1="1386.4" x2="1278.6" y2="1386.4" stroke="#8e9595" stroke-width="2.4" stroke-dasharray="12 5.5" opacity="0.75"/>
<line x1="1316.7" y1="1348" x2="1337.9" y2="1348" stroke="#5fb4d6" stroke-width="1" stroke-dasharray="1.5 2" opacity="0.7"/>
<line x1="1316.7" y1="1389.7" x2="1337.9" y2="1389.7" stroke="#5fb4d6" stroke-width="1" stroke-dasharray="1.5 2" opacity="0.7"/>
<line x1="1313.2" y1="1377" x2="1341.5" y2="1377" stroke="#1d2fa0" stroke-width="3.2" stroke-dasharray="11.5 5.5"/>
<line x1="1426.9" y1="1391.2" x2="1442.5" y2="1391.2" stroke="#7d8686" stroke-width="1" stroke-dasharray="1.5 2" opacity="0.7"/>
<line x1="1426.9" y1="1397.1" x2="1442.5" y2="1397.1" stroke="#7d8686" stroke-width="1" stroke-dasharray="1.5 2" opacity="0.7"/>
<line x1="1424.3" y1="1394.4" x2="1445.1" y2="1394.4" stroke="#8e9595" stroke-width="2.4" stroke-dasharray="12 5.5" opacity="0.75"/>
<line x1="1492" y1="1377.8" x2="1513.2" y2="1377.8" stroke="#5fb4d6" stroke-width="1" stroke-dasharray="1.5 2" opacity="0.7"/>
<line x1="1492" y1="1395.6" x2="1513.2" y2="1395.6" stroke="#5fb4d6" stroke-width="1" stroke-dasharray="1.5 2" opacity="0.7"/>
<line x1="1488.5" y1="1389.7" x2="1516.8" y2="1389.7" stroke="#1d2fa0" stroke-width="3.2" stroke-dasharray="11.5 5.5"/>
<text x="208.4" y="1222.4" font-size="30" text-anchor="middle" stroke="#111" stroke-width="0.7">NS</text>
<line x1="187.3" y1="1230.3" x2="229" y2="1230.3" stroke="#111" stroke-width="3"/>
<text x="381.7" y="1222.4" font-size="30" text-anchor="middle" stroke="#111" stroke-width="0.7">NS</text>
<line x1="360.8" y1="1230.3" x2="403.2" y2="1230.3" stroke="#111" stroke-width="3"/>
<text x="555.9" y="1254.4" font-size="30" text-anchor="middle" stroke="#111" stroke-width="0.7">NS</text>
<line x1="535.1" y1="1261.1" x2="576.7" y2="1261.1" stroke="#111" stroke-width="3"/>
<text x="729.4" y="1254.4" font-size="30" text-anchor="middle" stroke="#111" stroke-width="0.7">NS</text>
<line x1="709.3" y1="1261.1" x2="750.7" y2="1261.1" stroke="#111" stroke-width="3"/>
<text x="941.7" y="1193.4" font-size="30" text-anchor="middle" stroke="#111" stroke-width="0.7">NS</text>
<line x1="920.8" y1="1201.9" x2="963.2" y2="1201.9" stroke="#111" stroke-width="3"/>
<text x="1116.7" y="1193.4" font-size="30" text-anchor="middle" stroke="#111" stroke-width="0.7">NS</text>
<line x1="1096.3" y1="1201.9" x2="1138.2" y2="1201.9" stroke="#111" stroke-width="3"/>
<text x="1292" y="1254.1" font-size="30" text-anchor="middle" stroke="#111" stroke-width="0.7">NS</text>
<line x1="1271.3" y1="1261.1" x2="1313.2" y2="1261.1" stroke="#111" stroke-width="3"/>
<text x="1467.4" y="1254.1" font-size="30" text-anchor="middle" stroke="#111" stroke-width="0.7">NS</text>
<line x1="1446.6" y1="1261.1" x2="1488.2" y2="1261.1" stroke="#111" stroke-width="3"/>
<circle cx="636" cy="1485.6" r="11.8" fill="#464b4c" stroke="#151515" stroke-width="1.8"/>
<text x="660.4" y="1496.2" font-size="33">Non-FDR</text>
<circle cx="879.2" cy="1485.6" r="11.8" fill="#30d5f2" stroke="#1b9fd1" stroke-width="1.8"/>
<text x="903.6" y="1496.2" font-size="33">IBD-FDR</text>
<text x="3" y="1554.8" font-size="35" font-weight="bold">f</text>
<line x1="175.1" y1="1572.2" x2="325.5" y2="1572.2" stroke="#111" stroke-width="2"/>
<line x1="505.1" y1="1572.2" x2="655" y2="1572.2" stroke="#111" stroke-width="2"/>
<text x="415.3" y="1580.6" font-size="33" text-anchor="middle">Non-FDR</text>
<line x1="684.7" y1="1572.2" x2="797" y2="1572.2" stroke="#111" stroke-width="2"/>
<line x1="964.2" y1="1572.2" x2="1074.8" y2="1572.2" stroke="#111" stroke-width="2"/>
<text x="880" y="1580.6" font-size="33" text-anchor="middle">IBD-FDR</text>
<g stroke="#fff" stroke-width="1.2">
<rect x="175" y="1597.7" width="30" height="33.9" fill="#8693db"/>
<rect x="205" y="1597.7" width="30" height="33.9" fill="#909cde"/>
<rect x="235" y="1597.7" width="30" height="33.9" fill="#7b8ad8"/>
<rect x="265" y="1597.7" width="30" height="33.9" fill="#909cde"/>
<rect x="295" y="1597.7" width="30" height="33.9" fill="#d6dbf3"/>
<rect x="325" y="1597.7" width="30" height="33.9" fill="#7b8ad8"/>
<rect x="355" y="1597.7" width="30" height="33.9" fill="#8693db"/>
<rect x="385" y="1597.7" width="30" height="33.9" fill="#dde0f5"/>
<rect x="415" y="1597.7" width="30" height="33.9" fill="#909cde"/>
<rect x="445" y="1597.7" width="30" height="33.9" fill="#8693db"/>
<rect x="475" y="1597.7" width="30" height="33.9" fill="#c2c9ed"/>
<rect x="505" y="1597.7" width="30" height="33.9" fill="#fbfbfe"/>
<rect x="535" y="1597.7" width="30" height="33.9" fill="#ccd2f0"/>
<rect x="565" y="1597.7" width="30" height="33.9" fill="#8693db"/>
<rect x="595" y="1597.7" width="30" height="33.9" fill="#6d7dd4"/>
<rect x="625" y="1597.7" width="30" height="33.9" fill="#e7e9f8"/>
<rect x="685" y="1597.7" width="30" height="33.9" fill="#818fda"/>
<rect x="715" y="1597.7" width="30" height="33.9" fill="#bec5ec"/>
<rect x="745" y="1597.7" width="30" height="33.9" fill="#818fda"/>
<rect x="775" y="1597.7" width="30" height="33.9" fill="#7b8ad8"/>
<rect x="805" y="1597.7" width="30" height="33.9" fill="#8693db"/>
<rect x="835" y="1597.7" width="30" height="33.9" fill="#a4aee4"/>
<rect x="865" y="1597.7" width="30" height="33.9" fill="#a4aee4"/>
<rect x="895" y="1597.7" width="30" height="33.9" fill="#6778d2"/>
<rect x="925" y="1597.7" width="30" height="33.9" fill="#7181d5"/>
<rect x="955" y="1597.7" width="30" height="33.9" fill="#a4aee4"/>
<rect x="985" y="1597.7" width="30" height="33.9" fill="#9aa5e1"/>
<rect x="1015" y="1597.7" width="30" height="33.9" fill="#b0020c"/>
<rect x="1045" y="1597.7" width="30" height="33.9" fill="#b0020c"/>
<rect x="175" y="1631.6" width="30" height="33.9" fill="#9aa5e1"/>
<rect x="205" y="1631.6" width="30" height="33.9" fill="#e7e9f8"/>
<rect x="235" y="1631.6" width="30" height="33.9" fill="#a4aee4"/>
<rect x="265" y="1631.6" width="30" height="33.9" fill="#6d7dd4"/>
<rect x="295" y="1631.6" width="30" height="33.9" fill="#f5f6fc"/>
<rect x="325" y="1631.6" width="30" height="33.9" fill="#909cde"/>
<rect x="355" y="1631.6" width="30" height="33.9" fill="#9aa5e1"/>
<rect x="385" y="1631.6" width="30" height="33.9" fill="#909cde"/>
<rect x="415" y="1631.6" width="30" height="33.9" fill="#7181d5"/>
<rect x="445" y="1631.6" width="30" height="33.9" fill="#7181d5"/>
<rect x="475" y="1631.6" width="30" height="33.9" fill="#7181d5"/>
<rect x="505" y="1631.6" width="30" height="33.9" fill="#e1e4f6"/>
<rect x="535" y="1631.6" width="30" height="33.9" fill="#ccd2f0"/>
<rect x="565" y="1631.6" width="30" height="33.9" fill="#e1e4f6"/>
<rect x="595" y="1631.6" width="30" height="33.9" fill="#7181d5"/>
<rect x="625" y="1631.6" width="30" height="33.9" fill="#f9fafd"/>
<rect x="685" y="1631.6" width="30" height="33.9" fill="#909cde"/>
<rect x="715" y="1631.6" width="30" height="33.9" fill="#c2c9ed"/>
<rect x="745" y="1631.6" width="30" height="33.9" fill="#9aa5e1"/>
<rect x="775" y="1631.6" width="30" height="33.9" fill="#ccd2f0"/>
<rect x="805" y="1631.6" width="30" height="33.9" fill="#909cde"/>
<rect x="835" y="1631.6" width="30" height="33.9" fill="#909cde"/>
<rect x="865" y="1631.6" width="30" height="33.9" fill="#b8c0ea"/>
<rect x="895" y="1631.6" width="30" height="33.9" fill="#ccd2f0"/>
<rect x="925" y="1631.6" width="30" height="33.9" fill="#aeb7e7"/>
<rect x="955" y="1631.6" width="30" height="33.9" fill="#d2d7f2"/>
<rect x="985" y="1631.6" width="30" height="33.9" fill="#9aa5e1"/>
<rect x="1015" y="1631.6" width="30" height="33.9" fill="#b0020c"/>
<rect x="1045" y="1631.6" width="30" height="33.9" fill="#ee607f"/>
<rect x="175" y="1665.5" width="30" height="33.9" fill="#7b8ad8"/>
<rect x="205" y="1665.5" width="30" height="33.9" fill="#6374d1"/>
<rect x="235" y="1665.5" width="30" height="33.9" fill="#818fda"/>
<rect x="265" y="1665.5" width="30" height="33.9" fill="#6374d1"/>
<rect x="295" y="1665.5" width="30" height="33.9" fill="#fce3eb"/>
<rect x="325" y="1665.5" width="30" height="33.9" fill="#8693db"/>
<rect x="355" y="1665.5" width="30" height="33.9" fill="#6374d1"/>
<rect x="385" y="1665.5" width="30" height="33.9" fill="#818fda"/>
<rect x="415" y="1665.5" width="30" height="33.9" fill="#6778d2"/>
<rect x="445" y="1665.5" width="30" height="33.9" fill="#7b8ad8"/>
<rect x="475" y="1665.5" width="30" height="33.9" fill="#8693db"/>
<rect x="505" y="1665.5" width="30" height="33.9" fill="#7b8ad8"/>
<rect x="535" y="1665.5" width="30" height="33.9" fill="#9aa5e1"/>
<rect x="565" y="1665.5" width="30" height="33.9" fill="#6d7dd4"/>
<rect x="595" y="1665.5" width="30" height="33.9" fill="#6d7dd4"/>
<rect x="625" y="1665.5" width="30" height="33.9" fill="#8693db"/>
<rect x="685" y="1665.5" width="30" height="33.9" fill="#8693db"/>
<rect x="715" y="1665.5" width="30" height="33.9" fill="#909cde"/>
<rect x="745" y="1665.5" width="30" height="33.9" fill="#96a1e0"/>
<rect x="775" y="1665.5" width="30" height="33.9" fill="#9ea9e2"/>
<rect x="805" y="1665.5" width="30" height="33.9" fill="#909cde"/>
<rect x="835" y="1665.5" width="30" height="33.9" fill="#909cde"/>
<rect x="865" y="1665.5" width="30" height="33.9" fill="#818fda"/>
<rect x="895" y="1665.5" width="30" height="33.9" fill="#8a97dc"/>
<rect x="925" y="1665.5" width="30" height="33.9" fill="#7181d5"/>
<rect x="955" y="1665.5" width="30" height="33.9" fill="#8693db"/>
<rect x="985" y="1665.5" width="30" height="33.9" fill="#7181d5"/>
<rect x="1015" y="1665.5" width="30" height="33.9" fill="#d2d7f2"/>
<rect x="1045" y="1665.5" width="30" height="33.9" fill="#909cde"/>
<rect x="175" y="1699.5" width="30" height="33.9" fill="#7b8ad8"/>
<rect x="205" y="1699.5" width="30" height="33.9" fill="#6778d2"/>
<rect x="235" y="1699.5" width="30" height="33.9" fill="#909cde"/>
<rect x="265" y="1699.5" width="30" height="33.9" fill="#6374d1"/>
<rect x="295" y="1699.5" width="30" height="33.9" fill="#9aa5e1"/>
<rect x="325" y="1699.5" width="30" height="33.9" fill="#7181d5"/>
<rect x="355" y="1699.5" width="30" height="33.9" fill="#6374d1"/>
<rect x="385" y="1699.5" width="30" height="33.9" fill="#9aa5e1"/>
<rect x="415" y="1699.5" width="30" height="33.9" fill="#7181d5"/>
<rect x="445" y="1699.5" width="30" height="33.9" fill="#6374d1"/>
<rect x="475" y="1699.5" width="30" height="33.9" fill="#909cde"/>
<rect x="505" y="1699.5" width="30" height="33.9" fill="#818fda"/>
<rect x="535" y="1699.5" width="30" height="33.9" fill="#8693db"/>
<rect x="565" y="1699.5" width="30" height="33.9" fill="#6778d2"/>
<rect x="595" y="1699.5" width="30" height="33.9" fill="#6374d1"/>
<rect x="625" y="1699.5" width="30" height="33.9" fill="#9aa5e1"/>
<rect x="685" y="1699.5" width="30" height="33.9" fill="#6778d2"/>
<rect x="715" y="1699.5" width="30" height="33.9" fill="#6778d2"/>
<rect x="745" y="1699.5" width="30" height="33.9" fill="#6374d1"/>
<rect x="775" y="1699.5" width="30" height="33.9" fill="#6374d1"/>
<rect x="805" y="1699.5" width="30" height="33.9" fill="#6778d2"/>
<rect x="835" y="1699.5" width="30" height="33.9" fill="#909cde"/>
<rect x="865" y="1699.5" width="30" height="33.9" fill="#9aa5e1"/>
<rect x="895" y="1699.5" width="30" height="33.9" fill="#9aa5e1"/>
<rect x="925" y="1699.5" width="30" height="33.9" fill="#b8c0ea"/>
<rect x="955" y="1699.5" width="30" height="33.9" fill="#7181d5"/>
<rect x="985" y="1699.5" width="30" height="33.9" fill="#6d7dd4"/>
<rect x="1015" y="1699.5" width="30" height="33.9" fill="#f6b3c8"/>
<rect x="1045" y="1699.5" width="30" height="33.9" fill="#dbdff4"/>
<rect x="175" y="1767.3" width="30" height="33.9" fill="#9aa5e1"/>
<rect x="205" y="1767.3" width="30" height="33.9" fill="#6778d2"/>
<rect x="235" y="1767.3" width="30" height="33.9" fill="#7181d5"/>
<rect x="265" y="1767.3" width="30" height="33.9" fill="#7181d5"/>
<rect x="295" y="1767.3" width="30" height="33.9" fill="#d6dbf3"/>
<rect x="325" y="1767.3" width="30" height="33.9" fill="#7b8ad8"/>
<rect x="355" y="1767.3" width="30" height="33.9" fill="#f5a4be"/>
<rect x="385" y="1767.3" width="30" height="33.9" fill="#c2c9ed"/>
<rect x="415" y="1767.3" width="30" height="33.9" fill="#6374d1"/>
<rect x="445" y="1767.3" width="30" height="33.9" fill="#7b8ad8"/>
<rect x="475" y="1767.3" width="30" height="33.9" fill="#6778d2"/>
<rect x="505" y="1767.3" width="30" height="33.9" fill="#9aa5e1"/>
<rect x="535" y="1767.3" width="30" height="33.9" fill="#fce8ee"/>
<rect x="565" y="1767.3" width="30" height="33.9" fill="#6d7dd4"/>
<rect x="595" y="1767.3" width="30" height="33.9" fill="#6778d2"/>
<rect x="625" y="1767.3" width="30" height="33.9" fill="#909cde"/>
<rect x="685" y="1767.3" width="30" height="33.9" fill="#8693db"/>
<rect x="715" y="1767.3" width="30" height="33.9" fill="#7181d5"/>
<rect x="745" y="1767.3" width="30" height="33.9" fill="#7181d5"/>
<rect x="775" y="1767.3" width="30" height="33.9" fill="#7181d5"/>
<rect x="805" y="1767.3" width="30" height="33.9" fill="#6d7dd4"/>
<rect x="835" y="1767.3" width="30" height="33.9" fill="#6778d2"/>
<rect x="865" y="1767.3" width="30" height="33.9" fill="#b8c0ea"/>
<rect x="895" y="1767.3" width="30" height="33.9" fill="#7585d6"/>
<rect x="925" y="1767.3" width="30" height="33.9" fill="#6778d2"/>
<rect x="955" y="1767.3" width="30" height="33.9" fill="#dbdff4"/>
<rect x="985" y="1767.3" width="30" height="33.9" fill="#b0020c"/>
<rect x="1015" y="1767.3" width="30" height="33.9" fill="#ee607f"/>
<rect x="1045" y="1767.3" width="30" height="33.9" fill="#fefafc"/>
<rect x="175" y="1801.2" width="30" height="33.9" fill="#7b8ad8"/>
<rect x="205" y="1801.2" width="30" height="33.9" fill="#9aa5e1"/>
<rect x="235" y="1801.2" width="30" height="33.9" fill="#6374d1"/>
<rect x="265" y="1801.2" width="30" height="33.9" fill="#6374d1"/>
<rect x="295" y="1801.2" width="30" height="33.9" fill="#f9fafd"/>
<rect x="325" y="1801.2" width="30" height="33.9" fill="#6374d1"/>
<rect x="355" y="1801.2" width="30" height="33.9" fill="#c2c9ed"/>
<rect x="385" y="1801.2" width="30" height="33.9" fill="#8693db"/>
<rect x="415" y="1801.2" width="30" height="33.9" fill="#7b8ad8"/>
<rect x="445" y="1801.2" width="30" height="33.9" fill="#909cde"/>
<rect x="475" y="1801.2" width="30" height="33.9" fill="#6374d1"/>
<rect x="505" y="1801.2" width="30" height="33.9" fill="#9aa5e1"/>
<rect x="535" y="1801.2" width="30" height="33.9" fill="#f9fafd"/>
<rect x="565" y="1801.2" width="30" height="33.9" fill="#aeb7e7"/>
<rect x="595" y="1801.2" width="30" height="33.9" fill="#6d7dd4"/>
<rect x="625" y="1801.2" width="30" height="33.9" fill="#6778d2"/>
<rect x="685" y="1801.2" width="30" height="33.9" fill="#9aa5e1"/>
<rect x="715" y="1801.2" width="30" height="33.9" fill="#909cde"/>
<rect x="745" y="1801.2" width="30" height="33.9" fill="#9ea9e2"/>
<rect x="775" y="1801.2" width="30" height="33.9" fill="#aab3e6"/>
<rect x="805" y="1801.2" width="30" height="33.9" fill="#7b8ad8"/>
<rect x="835" y="1801.2" width="30" height="33.9" fill="#6778d2"/>
<rect x="865" y="1801.2" width="30" height="33.9" fill="#7181d5"/>
<rect x="895" y="1801.2" width="30" height="33.9" fill="#7181d5"/>
<rect x="925" y="1801.2" width="30" height="33.9" fill="#b2bbe8"/>
<rect x="955" y="1801.2" width="30" height="33.9" fill="#f9c9d9"/>
<rect x="985" y="1801.2" width="30" height="33.9" fill="#ee0606"/>
<rect x="1015" y="1801.2" width="30" height="33.9" fill="#fdecf2"/>
<rect x="1045" y="1801.2" width="30" height="33.9" fill="#b2bbe8"/>
<rect x="175" y="1835.1" width="30" height="33.9" fill="#7b8ad8"/>
<rect x="205" y="1835.1" width="30" height="33.9" fill="#7181d5"/>
<rect x="235" y="1835.1" width="30" height="33.9" fill="#818fda"/>
<rect x="265" y="1835.1" width="30" height="33.9" fill="#909cde"/>
<rect x="295" y="1835.1" width="30" height="33.9" fill="#eff1fa"/>
<rect x="325" y="1835.1" width="30" height="33.9" fill="#a4aee4"/>
<rect x="355" y="1835.1" width="30" height="33.9" fill="#9aa5e1"/>
<rect x="385" y="1835.1" width="30" height="33.9" fill="#7b8ad8"/>
<rect x="415" y="1835.1" width="30" height="33.9" fill="#6778d2"/>
<rect x="445" y="1835.1" width="30" height="33.9" fill="#7181d5"/>
<rect x="475" y="1835.1" width="30" height="33.9" fill="#7b8ad8"/>
<rect x="505" y="1835.1" width="30" height="33.9" fill="#a4aee4"/>
<rect x="535" y="1835.1" width="30" height="33.9" fill="#d6dbf3"/>
<rect x="565" y="1835.1" width="30" height="33.9" fill="#6778d2"/>
<rect x="595" y="1835.1" width="30" height="33.9" fill="#6d7dd4"/>
<rect x="625" y="1835.1" width="30" height="33.9" fill="#7181d5"/>
<rect x="685" y="1835.1" width="30" height="33.9" fill="#6d7dd4"/>
<rect x="715" y="1835.1" width="30" height="33.9" fill="#d2d7f2"/>
<rect x="745" y="1835.1" width="30" height="33.9" fill="#818fda"/>
<rect x="775" y="1835.1" width="30" height="33.9" fill="#ffffff"/>
<rect x="805" y="1835.1" width="30" height="33.9" fill="#909cde"/>
<rect x="835" y="1835.1" width="30" height="33.9" fill="#6778d2"/>
<rect x="865" y="1835.1" width="30" height="33.9" fill="#6778d2"/>
<rect x="895" y="1835.1" width="30" height="33.9" fill="#9aa5e1"/>
<rect x="925" y="1835.1" width="30" height="33.9" fill="#909cde"/>
<rect x="955" y="1835.1" width="30" height="33.9" fill="#a4aee4"/>
<rect x="985" y="1835.1" width="30" height="33.9" fill="#aeb7e7"/>
<rect x="1015" y="1835.1" width="30" height="33.9" fill="#b2bbe8"/>
<rect x="1045" y="1835.1" width="30" height="33.9" fill="#7181d5"/>
<rect x="175" y="1869.1" width="30" height="33.9" fill="#6374d1"/>
<rect x="205" y="1869.1" width="30" height="33.9" fill="#6374d1"/>
<rect x="235" y="1869.1" width="30" height="33.9" fill="#6d7dd4"/>
<rect x="265" y="1869.1" width="30" height="33.9" fill="#8693db"/>
<rect x="295" y="1869.1" width="30" height="33.9" fill="#9aa5e1"/>
<rect x="325" y="1869.1" width="30" height="33.9" fill="#6374d1"/>
<rect x="355" y="1869.1" width="30" height="33.9" fill="#6374d1"/>
<rect x="385" y="1869.1" width="30" height="33.9" fill="#6778d2"/>
<rect x="415" y="1869.1" width="30" height="33.9" fill="#6d7dd4"/>
<rect x="445" y="1869.1" width="30" height="33.9" fill="#7181d5"/>
<rect x="475" y="1869.1" width="30" height="33.9" fill="#6778d2"/>
<rect x="505" y="1869.1" width="30" height="33.9" fill="#6d7dd4"/>
<rect x="535" y="1869.1" width="30" height="33.9" fill="#9aa5e1"/>
<rect x="565" y="1869.1" width="30" height="33.9" fill="#6374d1"/>
<rect x="595" y="1869.1" width="30" height="33.9" fill="#6374d1"/>
<rect x="625" y="1869.1" width="30" height="33.9" fill="#6374d1"/>
<rect x="685" y="1869.1" width="30" height="33.9" fill="#6778d2"/>
<rect x="715" y="1869.1" width="30" height="33.9" fill="#6778d2"/>
<rect x="745" y="1869.1" width="30" height="33.9" fill="#6778d2"/>
<rect x="775" y="1869.1" width="30" height="33.9" fill="#6778d2"/>
<rect x="805" y="1869.1" width="30" height="33.9" fill="#6d7dd4"/>
<rect x="835" y="1869.1" width="30" height="33.9" fill="#6778d2"/>
<rect x="865" y="1869.1" width="30" height="33.9" fill="#6d7dd4"/>
<rect x="895" y="1869.1" width="30" height="33.9" fill="#a4aee4"/>
<rect x="925" y="1869.1" width="30" height="33.9" fill="#8693db"/>
<rect x="955" y="1869.1" width="30" height="33.9" fill="#8a97dc"/>
<rect x="985" y="1869.1" width="30" height="33.9" fill="#8693db"/>
<rect x="1015" y="1869.1" width="30" height="33.9" fill="#909cde"/>
<rect x="1045" y="1869.1" width="30" height="33.9" fill="#a4aee4"/>
</g>
<rect x="175" y="1597.7" width="900" height="305.3" fill="none" stroke="#1a1a2a" stroke-width="2"/>
<text x="159" y="1625" font-size="28.6" text-anchor="end">CD319</text>
<line x1="161" y1="1614.7" x2="175" y2="1614.7" stroke="#111" stroke-width="1.6"/>
<text x="159" y="1658.9" font-size="28.6" text-anchor="end">PRF1</text>
<line x1="161" y1="1648.6" x2="175" y2="1648.6" stroke="#111" stroke-width="1.6"/>
<text x="159" y="1692.8" font-size="28.6" text-anchor="end">GZMB</text>
<line x1="161" y1="1682.5" x2="175" y2="1682.5" stroke="#111" stroke-width="1.6"/>
<text x="159" y="1726.7" font-size="28.6" text-anchor="end">CCL4</text>
<line x1="161" y1="1716.4" x2="175" y2="1716.4" stroke="#111" stroke-width="1.6"/>
<text x="159" y="1794.6" font-size="28.6" text-anchor="end">CD319</text>
<line x1="161" y1="1784.3" x2="175" y2="1784.3" stroke="#111" stroke-width="1.6"/>
<text x="159" y="1828.5" font-size="28.6" text-anchor="end">PRF1</text>
<line x1="161" y1="1818.2" x2="175" y2="1818.2" stroke="#111" stroke-width="1.6"/>
<text x="159" y="1862.4" font-size="28.6" text-anchor="end">GZMB</text>
<line x1="161" y1="1852.1" x2="175" y2="1852.1" stroke="#111" stroke-width="1.6"/>
<text x="159" y="1896.3" font-size="28.6" text-anchor="end">CCL4</text>
<line x1="161" y1="1886" x2="175" y2="1886" stroke="#111" stroke-width="1.6"/>
<text x="54.5" y="1656" font-size="30" text-anchor="middle" font-style="italic" transform="rotate(-90 54.5 1656)">C. tropicalis</text>
<text x="54.5" y="1844" font-size="30" text-anchor="middle" font-style="italic" transform="rotate(-90 54.5 1844)">S. cerevisiae</text>
<line x1="190" y1="1903" x2="190" y2="1913" stroke="#111" stroke-width="1.6"/>
<text x="199.5" y="1927.5" font-size="23.5" text-anchor="end" transform="rotate(-45 199.5 1927.5)">HC01</text>
<line x1="220" y1="1903" x2="220" y2="1913" stroke="#111" stroke-width="1.6"/>
<text x="229.5" y="1927.5" font-size="23.5" text-anchor="end" transform="rotate(-45 229.5 1927.5)">HC02</text>
<line x1="250" y1="1903" x2="250" y2="1913" stroke="#111" stroke-width="1.6"/>
<text x="259.5" y="1927.5" font-size="23.5" text-anchor="end" transform="rotate(-45 259.5 1927.5)">HC03</text>
<line x1="280" y1="1903" x2="280" y2="1913" stroke="#111" stroke-width="1.6"/>
<text x="289.5" y="1927.5" font-size="23.5" text-anchor="end" transform="rotate(-45 289.5 1927.5)">HC04</text>
<line x1="310" y1="1903" x2="310" y2="1913" stroke="#111" stroke-width="1.6"/>
<text x="319.5" y="1927.5" font-size="23.5" text-anchor="end" transform="rotate(-45 319.5 1927.5)">HC05</text>
<line x1="340" y1="1903" x2="340" y2="1913" stroke="#111" stroke-width="1.6"/>
<text x="349.5" y="1927.5" font-size="23.5" text-anchor="end" transform="rotate(-45 349.5 1927.5)">HC06</text>
<line x1="370" y1="1903" x2="370" y2="1913" stroke="#111" stroke-width="1.6"/>
<text x="379.5" y="1927.5" font-size="23.5" text-anchor="end" transform="rotate(-45 379.5 1927.5)">HC07</text>
<line x1="400" y1="1903" x2="400" y2="1913" stroke="#111" stroke-width="1.6"/>
<text x="409.5" y="1927.5" font-size="23.5" text-anchor="end" transform="rotate(-45 409.5 1927.5)">HC08</text>
<line x1="430" y1="1903" x2="430" y2="1913" stroke="#111" stroke-width="1.6"/>
<text x="439.5" y="1927.5" font-size="23.5" text-anchor="end" transform="rotate(-45 439.5 1927.5)">HC09</text>
<line x1="460" y1="1903" x2="460" y2="1913" stroke="#111" stroke-width="1.6"/>
<text x="469.5" y="1927.5" font-size="23.5" text-anchor="end" transform="rotate(-45 469.5 1927.5)">HC10</text>
<line x1="490" y1="1903" x2="490" y2="1913" stroke="#111" stroke-width="1.6"/>
<text x="499.5" y="1927.5" font-size="23.5" text-anchor="end" transform="rotate(-45 499.5 1927.5)">HC11</text>
<line x1="520" y1="1903" x2="520" y2="1913" stroke="#111" stroke-width="1.6"/>
<text x="529.5" y="1927.5" font-size="23.5" text-anchor="end" transform="rotate(-45 529.5 1927.5)">HC12</text>
<line x1="550" y1="1903" x2="550" y2="1913" stroke="#111" stroke-width="1.6"/>
<text x="559.5" y="1927.5" font-size="23.5" text-anchor="end" transform="rotate(-45 559.5 1927.5)">HC13</text>
<line x1="580" y1="1903" x2="580" y2="1913" stroke="#111" stroke-width="1.6"/>
<text x="589.5" y="1927.5" font-size="23.5" text-anchor="end" transform="rotate(-45 589.5 1927.5)">HC14</text>
<line x1="610" y1="1903" x2="610" y2="1913" stroke="#111" stroke-width="1.6"/>
<text x="619.5" y="1927.5" font-size="23.5" text-anchor="end" transform="rotate(-45 619.5 1927.5)">HC15</text>
<line x1="640" y1="1903" x2="640" y2="1913" stroke="#111" stroke-width="1.6"/>
<text x="649.5" y="1927.5" font-size="23.5" text-anchor="end" transform="rotate(-45 649.5 1927.5)">HC16</text>
<line x1="700" y1="1903" x2="700" y2="1913" stroke="#111" stroke-width="1.6"/>
<text x="709.5" y="1927.5" font-size="23.5" text-anchor="end" transform="rotate(-45 709.5 1927.5)">FDR12</text>
<line x1="730" y1="1903" x2="730" y2="1913" stroke="#111" stroke-width="1.6"/>
<text x="739.5" y="1927.5" font-size="23.5" text-anchor="end" transform="rotate(-45 739.5 1927.5)">FDR14</text>
<line x1="760" y1="1903" x2="760" y2="1913" stroke="#111" stroke-width="1.6"/>
<text x="769.5" y="1927.5" font-size="23.5" text-anchor="end" transform="rotate(-45 769.5 1927.5)">FDR18</text>
<line x1="790" y1="1903" x2="790" y2="1913" stroke="#111" stroke-width="1.6"/>
<text x="799.5" y="1927.5" font-size="23.5" text-anchor="end" transform="rotate(-45 799.5 1927.5)">FDR22</text>
<line x1="820" y1="1903" x2="820" y2="1913" stroke="#111" stroke-width="1.6"/>
<text x="829.5" y="1927.5" font-size="23.5" text-anchor="end" transform="rotate(-45 829.5 1927.5)">FDR23</text>
<line x1="850" y1="1903" x2="850" y2="1913" stroke="#111" stroke-width="1.6"/>
<text x="859.5" y="1927.5" font-size="23.5" text-anchor="end" transform="rotate(-45 859.5 1927.5)">FDR29</text>
<line x1="880" y1="1903" x2="880" y2="1913" stroke="#111" stroke-width="1.6"/>
<text x="889.5" y="1927.5" font-size="23.5" text-anchor="end" transform="rotate(-45 889.5 1927.5)">FDR09</text>
<line x1="910" y1="1903" x2="910" y2="1913" stroke="#111" stroke-width="1.6"/>
<text x="919.5" y="1927.5" font-size="23.5" text-anchor="end" transform="rotate(-45 919.5 1927.5)">FDR05</text>
<line x1="940" y1="1903" x2="940" y2="1913" stroke="#111" stroke-width="1.6"/>
<text x="949.5" y="1927.5" font-size="23.5" text-anchor="end" transform="rotate(-45 949.5 1927.5)">FDR06</text>
<line x1="970" y1="1903" x2="970" y2="1913" stroke="#111" stroke-width="1.6"/>
<text x="979.5" y="1927.5" font-size="23.5" text-anchor="end" transform="rotate(-45 979.5 1927.5)" fill="#444">FDR30</text>
<line x1="1000" y1="1903" x2="1000" y2="1913" stroke="#111" stroke-width="1.6"/>
<text x="1009.5" y="1927.5" font-size="23.5" text-anchor="end" font-weight="bold" transform="rotate(-45 1009.5 1927.5)" fill="#c4202c">FDR21</text>
<line x1="1030" y1="1903" x2="1030" y2="1913" stroke="#111" stroke-width="1.6"/>
<text x="1039.5" y="1927.5" font-size="23.5" text-anchor="end" font-weight="bold" transform="rotate(-45 1039.5 1927.5)" fill="#c4202c">FDR28</text>
<line x1="1060" y1="1903" x2="1060" y2="1913" stroke="#111" stroke-width="1.6"/>
<text x="1069.5" y="1927.5" font-size="23.5" text-anchor="end" font-weight="bold" transform="rotate(-45 1069.5 1927.5)" fill="#c4202c">FDR07</text>
<defs><linearGradient id="cb" x1="0" x2="1" y1="0" y2="0">
<stop offset="0%" stop-color="#5d6fcf"/>
<stop offset="7.7%" stop-color="#7181d5"/>
<stop offset="15.4%" stop-color="#8693db"/>
<stop offset="23.1%" stop-color="#9aa5e1"/>
<stop offset="30.8%" stop-color="#aeb7e7"/>
<stop offset="38.5%" stop-color="#c2c9ed"/>
<stop offset="46.2%" stop-color="#d6dbf3"/>
<stop offset="53.8%" stop-color="#ebedf9"/>
<stop offset="61.5%" stop-color="#ffffff"/>
<stop offset="69.2%" stop-color="#fad0de"/>
<stop offset="76.9%" stop-color="#f187a8"/>
<stop offset="88.5%" stop-color="#ec3e5c"/>
<stop offset="100%" stop-color="#ee0606"/>
</linearGradient></defs>
<rect x="489.2" y="2027.9" width="270.8" height="22.6" fill="url(#cb)" stroke="#111" stroke-width="2.2"/>
<line x1="593.4" y1="2029" x2="593.4" y2="2033" stroke="#111" stroke-width="2.2"/>
<line x1="593.4" y1="2045.4" x2="593.4" y2="2049.4" stroke="#111" stroke-width="2.2"/>
<line x1="697.5" y1="2029" x2="697.5" y2="2033" stroke="#111" stroke-width="2.2"/>
<line x1="697.5" y1="2045.4" x2="697.5" y2="2049.4" stroke="#111" stroke-width="2.2"/>
<text x="623.5" y="2018.6" font-size="28.5" text-anchor="middle">% / CD154+ Tmem</text>
<text x="495.1" y="2080.3" font-size="33" text-anchor="middle">0</text>
<text x="593.4" y="2080.3" font-size="33" text-anchor="middle">5</text>
<text x="697.2" y="2080.3" font-size="33" text-anchor="middle">10</text>
<text x="1113" y="1556" font-size="35" font-weight="bold">g</text>
<text x="1318.3" y="1578.3" font-size="33" text-anchor="middle">IgG</text>
<text x="1468.4" y="1578.3" font-size="33" text-anchor="middle">IgA</text>
<line x1="1240.5" y1="1611.6" x2="1240.5" y2="1712" stroke="#111" stroke-width="2.9"/>
<line x1="1240.5" y1="1741.5" x2="1240.5" y2="1946.7" stroke="#111" stroke-width="2.9"/>
<line x1="1229" y1="1945.3" x2="1542" y2="1945.3" stroke="#111" stroke-width="2.9"/>
<line x1="1233" y1="1707" x2="1247" y2="1720" stroke="#111" stroke-width="3"/>
<line x1="1233" y1="1736.2" x2="1247" y2="1750" stroke="#111" stroke-width="3"/>
<line x1="1229.5" y1="1613" x2="1240.5" y2="1613" stroke="#111" stroke-width="2.9"/>
<text x="1226" y="1625" font-size="33" text-anchor="end">200</text>
<line x1="1229.5" y1="1646.2" x2="1240.5" y2="1646.2" stroke="#111" stroke-width="2.9"/>
<text x="1226" y="1658.2" font-size="33" text-anchor="end">150</text>
<line x1="1229.5" y1="1679.5" x2="1240.5" y2="1679.5" stroke="#111" stroke-width="2.9"/>
<text x="1226" y="1691.5" font-size="33" text-anchor="end">100</text>
<text x="1226" y="1725.7" font-size="33" text-anchor="end">50</text>
<line x1="1229.5" y1="1746.9" x2="1240.5" y2="1746.9" stroke="#111" stroke-width="2.9"/>
<text x="1226" y="1758.9" font-size="33" text-anchor="end">40</text>
<line x1="1229.5" y1="1797.2" x2="1240.5" y2="1797.2" stroke="#111" stroke-width="2.9"/>
<text x="1226" y="1809.2" font-size="33" text-anchor="end">30</text>
<line x1="1229.5" y1="1846.5" x2="1240.5" y2="1846.5" stroke="#111" stroke-width="2.9"/>
<text x="1226" y="1858.5" font-size="33" text-anchor="end">20</text>
<line x1="1229.5" y1="1895.5" x2="1240.5" y2="1895.5" stroke="#111" stroke-width="2.9"/>
<text x="1226" y="1907.5" font-size="33" text-anchor="end">10</text>
<line x1="1229.5" y1="1945.3" x2="1240.5" y2="1945.3" stroke="#111" stroke-width="2.9"/>
<text x="1226" y="1957.3" font-size="33" text-anchor="end">0</text>
<text x="1165.2" y="1779.8" font-size="33" text-anchor="middle" transform="rotate(-90 1165.2 1779.8)">ASCA RU/mL</text>
<line x1="1390.3" y1="1613" x2="1390.3" y2="1945" stroke="#111" stroke-width="1.6"/>
<line x1="1279.7" y1="1945" x2="1279.7" y2="1956.5" stroke="#111" stroke-width="3"/>
<line x1="1339.8" y1="1945" x2="1339.8" y2="1956.5" stroke="#111" stroke-width="3"/>
<line x1="1439.6" y1="1945" x2="1439.6" y2="1956.5" stroke="#111" stroke-width="3"/>
<line x1="1500.6" y1="1945" x2="1500.6" y2="1956.5" stroke="#111" stroke-width="3"/>
<text x="1293.2" y="1980" font-size="33" text-anchor="end" transform="rotate(-45 1293.2 1980)">Non-FDR</text>
<text x="1353.3" y="1980" font-size="33" text-anchor="end" transform="rotate(-45 1353.3 1980)">IBD-FDR</text>
<text x="1453.1" y="1980" font-size="33" text-anchor="end" transform="rotate(-45 1453.1 1980)">Non-FDR</text>
<text x="1514.1" y="1980" font-size="33" text-anchor="end" transform="rotate(-45 1514.1 1980)">IBD-FDR</text>
<g fill="#464b4c" stroke="#151515" stroke-width="1.6">
<circle cx="1279.7" cy="1898.8" r="6.5"/>
<circle cx="1266.2" cy="1908.1" r="6.5"/>
<circle cx="1278.8" cy="1908.9" r="6.5"/>
<circle cx="1287.2" cy="1910.6" r="6.5"/>
<circle cx="1294.8" cy="1913.1" r="6.5"/>
<circle cx="1266.2" cy="1920.7" r="6.5"/>
<circle cx="1280.5" cy="1919" r="6.5"/>
<circle cx="1290.6" cy="1919.9" r="6.5"/>
<circle cx="1294.8" cy="1925.8" r="6.5"/>
<circle cx="1279.7" cy="1928.3" r="6.5"/>
<circle cx="1266.2" cy="1934.2" r="6.5"/>
<circle cx="1288.9" cy="1932.5" r="6.5"/>
<circle cx="1278.8" cy="1940.9" r="6.5"/>
<circle cx="1290.6" cy="1940.9" r="6.5"/>
<circle cx="1266.2" cy="1946" r="6.5"/>
<circle cx="1275.5" cy="1946" r="6.5"/>
<circle cx="1285.6" cy="1946" r="6.5"/>
<circle cx="1294.8" cy="1946" r="6.5"/>
<circle cx="1272.9" cy="1915.7" r="6.5"/>
<circle cx="1272.9" cy="1930.8" r="6.5"/>
<circle cx="1283.9" cy="1935.9" r="6.5"/>
<circle cx="1271.2" cy="1944.3" r="6.5"/>
<circle cx="1280.5" cy="1946.8" r="6.5"/>
</g>
<g fill="#30d5f2" stroke="#1b9fd1" stroke-width="1.6">
<circle cx="1339.8" cy="1897.6" r="6.5"/>
<circle cx="1339.8" cy="1910.6" r="6.5"/>
<circle cx="1353.8" cy="1910.3" r="6.5"/>
<circle cx="1326.3" cy="1914.8" r="6.5"/>
<circle cx="1353.8" cy="1923.2" r="6.5"/>
<circle cx="1326.3" cy="1930.8" r="6.5"/>
<circle cx="1339.8" cy="1930.5" r="6.5"/>
<circle cx="1329.3" cy="1939.2" r="6.5"/>
<circle cx="1335.2" cy="1945.1" r="6.5"/>
<circle cx="1347.9" cy="1942.6" r="6.5"/>
<circle cx="1353.8" cy="1946" r="6.5"/>
<circle cx="1324.3" cy="1945.1" r="6.5"/>
<circle cx="1341.1" cy="1944.3" r="6.5"/>
</g>
<g fill="#464b4c" stroke="#151515" stroke-width="1.6">
<circle cx="1426.5" cy="1894.6" r="6.5"/>
<circle cx="1453.9" cy="1902.2" r="6.5"/>
<circle cx="1426.1" cy="1908.9" r="6.5"/>
<circle cx="1437.1" cy="1911.5" r="6.5"/>
<circle cx="1448.4" cy="1910.6" r="6.5"/>
<circle cx="1430.4" cy="1917.3" r="6.5"/>
<circle cx="1443" cy="1919.9" r="6.5"/>
<circle cx="1454.8" cy="1918.2" r="6.5"/>
<circle cx="1429.5" cy="1924.9" r="6.5"/>
<circle cx="1438.8" cy="1926.6" r="6.5"/>
<circle cx="1450.6" cy="1925.8" r="6.5"/>
<circle cx="1454.8" cy="1930" r="6.5"/>
<circle cx="1429.5" cy="1933.3" r="6.5"/>
<circle cx="1440.5" cy="1933.3" r="6.5"/>
<circle cx="1452.2" cy="1934.2" r="6.5"/>
<circle cx="1426.1" cy="1940.9" r="6.5"/>
<circle cx="1437.1" cy="1941.8" r="6.5"/>
<circle cx="1449.7" cy="1942.6" r="6.5"/>
<circle cx="1454.8" cy="1939.2" r="6.5"/>
<circle cx="1426.1" cy="1946.8" r="6.5"/>
<circle cx="1434.6" cy="1946.8" r="6.5"/>
<circle cx="1444.7" cy="1946.8" r="6.5"/>
<circle cx="1454.8" cy="1946.8" r="6.5"/>
<circle cx="1432" cy="1937.6" r="6.5"/>
<circle cx="1445.5" cy="1927.4" r="6.5"/>
</g>
<g fill="#30d5f2" stroke="#1b9fd1" stroke-width="1.6">
<circle cx="1500.6" cy="1862.1" r="6.5"/>
<circle cx="1500.6" cy="1876.1" r="6.5"/>
<circle cx="1486.8" cy="1903" r="6.5"/>
<circle cx="1514.5" cy="1905.6" r="6.5"/>
<circle cx="1503.1" cy="1908.1" r="6.5"/>
<circle cx="1486.8" cy="1914.8" r="6.5"/>
<circle cx="1492.7" cy="1916.5" r="6.5"/>
<circle cx="1497.7" cy="1915.7" r="6.5"/>
<circle cx="1514.5" cy="1915.7" r="6.5"/>
<circle cx="1506.1" cy="1924.1" r="6.5"/>
<circle cx="1486.8" cy="1927.4" r="6.5"/>
<circle cx="1497.7" cy="1926.6" r="6.5"/>
<circle cx="1514.5" cy="1930.8" r="6.5"/>
<circle cx="1491" cy="1935" r="6.5"/>
<circle cx="1501.1" cy="1935.9" r="6.5"/>
<circle cx="1510.3" cy="1936.7" r="6.5"/>
<circle cx="1486.8" cy="1943.4" r="6.5"/>
<circle cx="1494.3" cy="1945.1" r="6.5"/>
<circle cx="1504.4" cy="1946" r="6.5"/>
<circle cx="1514.5" cy="1945.1" r="6.5"/>
<circle cx="1516.2" cy="1924.1" r="6.5"/>
</g>
<g fill="#30d5f2" stroke="#1b9fd1" stroke-width="1.6">
<circle cx="1340.1" cy="1682.1" r="6.5"/>
<circle cx="1325.7" cy="1712.8" r="6.5"/>
<circle cx="1340.1" cy="1710.8" r="6.5"/>
<circle cx="1354.1" cy="1712.8" r="6.5"/>
<circle cx="1340.1" cy="1744.8" r="6.5"/>
<circle cx="1500.6" cy="1613.3" r="6.5"/>
<circle cx="1500.6" cy="1756.2" r="6.5"/>
<circle cx="1500.6" cy="1809.4" r="6.5"/>
</g>
</svg>
</body></html>
